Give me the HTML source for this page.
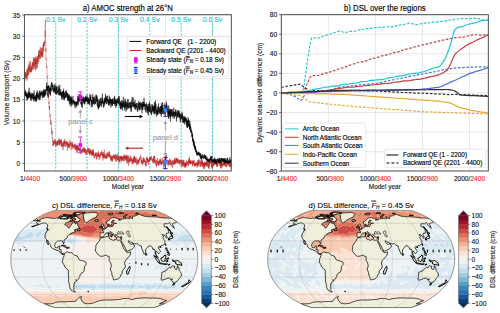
<!DOCTYPE html>
<html><head><meta charset="utf-8"><style>
html,body{margin:0;padding:0;background:#fff;width:500px;height:313px;overflow:hidden}
svg{display:block;font-family:"Liberation Sans",sans-serif}
</style></head><body>
<svg width="500" height="313" viewBox="0 0 500 313">
<defs>
<clipPath id="clipa"><rect x="24.4" y="14.7" width="206.9" height="156.3"/></clipPath>
<clipPath id="clipb"><rect x="281.3" y="14.7" width="207" height="156.3"/></clipPath>
</defs>
<rect width="500" height="313" fill="#fff"/>
<g clip-path="url(#clipa)">
<line x1="24.4" y1="163.4" x2="231.3" y2="163.4" stroke="#dcdcdc" stroke-width="0.7" />
<line x1="24.4" y1="142.2" x2="231.3" y2="142.2" stroke="#dcdcdc" stroke-width="0.7" />
<line x1="24.4" y1="121" x2="231.3" y2="121" stroke="#dcdcdc" stroke-width="0.7" />
<line x1="24.4" y1="99.8" x2="231.3" y2="99.8" stroke="#dcdcdc" stroke-width="0.7" />
<line x1="24.4" y1="78.6" x2="231.3" y2="78.6" stroke="#dcdcdc" stroke-width="0.7" />
<line x1="24.4" y1="57.4" x2="231.3" y2="57.4" stroke="#dcdcdc" stroke-width="0.7" />
<line x1="24.4" y1="36.2" x2="231.3" y2="36.2" stroke="#dcdcdc" stroke-width="0.7" />
<line x1="24.4" y1="15" x2="231.3" y2="15" stroke="#dcdcdc" stroke-width="0.7" />
<line x1="71.42" y1="14.7" x2="71.42" y2="171" stroke="#dcdcdc" stroke-width="0.7" />
<line x1="118.45" y1="14.7" x2="118.45" y2="171" stroke="#dcdcdc" stroke-width="0.7" />
<line x1="165.47" y1="14.7" x2="165.47" y2="171" stroke="#dcdcdc" stroke-width="0.7" />
<line x1="212.49" y1="14.7" x2="212.49" y2="171" stroke="#dcdcdc" stroke-width="0.7" />
</g>
<line x1="55.75" y1="22.8" x2="55.75" y2="171" stroke="#1cc6d0" stroke-width="0.8" stroke-dasharray="2.2,1.3"/>
<text x="55.75" y="21.9" font-size="7.31" text-anchor="middle" fill="#1cc6d0" stroke="#1cc6d0" stroke-width="0.15" textLength="19.6" lengthAdjust="spacingAndGlyphs" >0.1 Sv</text>
<line x1="87.1" y1="22.8" x2="87.1" y2="171" stroke="#1cc6d0" stroke-width="0.8" stroke-dasharray="2.2,1.3"/>
<text x="87.1" y="21.9" font-size="7.31" text-anchor="middle" fill="#1cc6d0" stroke="#1cc6d0" stroke-width="0.15" textLength="19.6" lengthAdjust="spacingAndGlyphs" >0.2 Sv</text>
<line x1="118.45" y1="22.8" x2="118.45" y2="171" stroke="#1cc6d0" stroke-width="0.8" stroke-dasharray="2.2,1.3"/>
<text x="118.45" y="21.9" font-size="7.31" text-anchor="middle" fill="#1cc6d0" stroke="#1cc6d0" stroke-width="0.15" textLength="19.6" lengthAdjust="spacingAndGlyphs" >0.3 Sv</text>
<line x1="149.79" y1="22.8" x2="149.79" y2="171" stroke="#1cc6d0" stroke-width="0.8" stroke-dasharray="2.2,1.3"/>
<text x="149.79" y="21.9" font-size="7.31" text-anchor="middle" fill="#1cc6d0" stroke="#1cc6d0" stroke-width="0.15" textLength="19.6" lengthAdjust="spacingAndGlyphs" >0.4 Sv</text>
<line x1="181.14" y1="22.8" x2="181.14" y2="171" stroke="#1cc6d0" stroke-width="0.8" stroke-dasharray="2.2,1.3"/>
<text x="181.14" y="21.9" font-size="7.31" text-anchor="middle" fill="#1cc6d0" stroke="#1cc6d0" stroke-width="0.15" textLength="19.6" lengthAdjust="spacingAndGlyphs" >0.5 Sv</text>
<line x1="212.49" y1="22.8" x2="212.49" y2="171" stroke="#1cc6d0" stroke-width="0.8" stroke-dasharray="2.2,1.3"/>
<text x="212.49" y="21.9" font-size="7.31" text-anchor="middle" fill="#1cc6d0" stroke="#1cc6d0" stroke-width="0.15" textLength="19.6" lengthAdjust="spacingAndGlyphs" >0.6 Sv</text>
<g clip-path="url(#clipa)">
<polyline points="24.49,75.94 24.59,74.3 24.68,74.86 24.78,81.59 24.87,76.5 24.96,73.37 25.06,73.78 25.15,71.51 25.25,78.24 25.34,72.83 25.43,77.01 25.53,74.38 25.62,73.29 25.72,72.18 25.81,75.71 25.9,73.4 26,77.3 26.09,78.44 26.19,72.81 26.28,74.46 26.37,78.92 26.47,76.79 26.56,74.38 26.66,69.18 26.75,71.31 26.85,72.94 26.94,80.57 27.03,74.95 27.13,73.62 27.22,74.27 27.32,73.22 27.41,75.31 27.5,69.25 27.6,70.07 27.69,74.86 27.79,77.34 27.88,68.38 27.97,75.18 28.07,69.18 28.16,66.86 28.26,75 28.35,71.08 28.44,72.4 28.54,69.76 28.63,69.93 28.73,64.44 28.82,68.4 28.91,70.26 29.01,66.59 29.1,69.65 29.2,69.88 29.29,61.6 29.38,71.13 29.48,69.94 29.57,67.97 29.67,71.04 29.76,73.74 29.85,64.58 29.95,70.53 30.04,69.8 30.14,69.94 30.23,71.81 30.32,71.97 30.42,68.54 30.51,61.01 30.61,66.21 30.7,65.81 30.8,72.56 30.89,68.03 30.98,71.96 31.08,65.95 31.17,68.89 31.27,67.71 31.36,67.86 31.45,69.13 31.55,72.2 31.64,65.74 31.74,71.29 31.83,70.32 31.92,66.94 32.02,68.29 32.11,65.15 32.21,63.6 32.3,65.58 32.39,66.2 32.49,65.13 32.58,62.58 32.68,69.66 32.77,62.67 32.86,66.25 32.96,66.91 33.05,62.62 33.15,63.5 33.24,60.6 33.33,59.24 33.43,69.56 33.52,63.25 33.62,57.04 33.71,60.01 33.8,59.06 33.9,62.43 33.99,66.73 34.09,65.23 34.18,59.39 34.27,58.46 34.37,64.4 34.46,63.41 34.56,62.54 34.65,68.68 34.74,64.74 34.84,58.85 34.93,57.72 35.03,64.7 35.12,58.72 35.22,65.94 35.31,66.5 35.4,70.59 35.5,61.08 35.59,64.31 35.69,56.49 35.78,62.21 35.87,62.52 35.97,67.98 36.06,58.31 36.16,64.42 36.25,63.34 36.34,69.17 36.44,59.45 36.53,59.59 36.63,64.03 36.72,62.02 36.81,60.55 36.91,58.25 37,60.99 37.1,55.71 37.19,61.26 37.28,61.96 37.38,61.37 37.47,67.97 37.57,62.26 37.66,56.76 37.75,58.68 37.85,61.99 37.94,58.49 38.04,64.19 38.13,59.4 38.22,56.32 38.32,55.58 38.41,59.07 38.51,54.22 38.6,50.51 38.69,57.48 38.79,54.45 38.88,60.92 38.98,61.47 39.07,53.43 39.17,55.35 39.26,54.91 39.35,56.88 39.45,56.1 39.54,52.68 39.64,49.98 39.73,54.99 39.82,58.95 39.92,50.23 40.01,52.14 40.11,52.19 40.2,53.3 40.29,46.96 40.39,53.35 40.48,52.3 40.58,58.93 40.67,54.83 40.76,54.97 40.86,53.43 40.95,52.44 41.05,55.36 41.14,47.91 41.23,56.51 41.33,54.51 41.42,52.28 41.52,56.89 41.61,51.92 41.7,51.53 41.8,54.79 41.89,47.67 41.99,52.17 42.08,51.34 42.17,55.43 42.27,56.56 42.36,53.27 42.46,52.25 42.55,52.34 42.64,48.47 42.74,57.22 42.83,52.91 42.93,54.61 43.02,44.9 43.12,50.3 43.21,49.31 43.3,50.21 43.4,43.84 43.49,47.45 43.59,45.35 43.68,51.67 43.77,41.98 43.87,44.37 43.96,44.38 44.06,41.95 44.15,45.91 44.24,45.51 44.34,42.41 44.43,42.95 44.53,44.74 44.62,43.85 44.71,45.47 44.81,41.74 44.9,40.59 45,42.68 45.09,30.9 45.18,36.74 45.28,27.83 45.37,19.87 45.47,30.03 45.56,37.27 45.65,39.2 45.75,44.12 45.84,51.68 45.94,48.34 46.03,56.15 46.12,59.58 46.22,58.5 46.31,61.02 46.41,64.1 46.5,64.18 46.59,67.42 46.69,65.96 46.78,67.78 46.88,67.16 46.97,72.02 47.06,75.55 47.16,77.59 47.25,77.3 47.35,75.89 47.44,79.19 47.54,84.08 47.63,83.04 47.72,87.98 47.82,85.66 47.91,90.64 48.01,89.75 48.1,90.89 48.19,93.55 48.29,94.26 48.38,97.65 48.48,97.18 48.57,96.22 48.66,91.66 48.76,99.13 48.85,100.8 48.95,104.23 49.04,101.78 49.13,107.84 49.23,107.32 49.32,106.09 49.42,109.76 49.51,106.02 49.6,108.06 49.7,111.52 49.79,112.21 49.89,115.58 49.98,117.11 50.07,114.58 50.17,115.19 50.26,116.56 50.36,117.95 50.45,119.94 50.54,119.57 50.64,124.01 50.73,122.44 50.83,120.16 50.92,120.77 51.01,124.37 51.11,124.88 51.2,122.73 51.3,122.92 51.39,129.51 51.49,128.89 51.58,129.04 51.67,128.64 51.77,133.03 51.86,131.48 51.96,134.81 52.05,130.6 52.14,135.2 52.24,137.1 52.33,138.54 52.43,137.23 52.52,138.18 52.61,142.3 52.71,141.08 52.8,145.43 52.9,144.8 52.99,146.12 53.08,146.18 53.18,145.13 53.27,145.89 53.37,142.45 53.46,142.01 53.55,143.41 53.65,145 53.74,140.68 53.84,144.97 53.93,144.83 54.02,139.7 54.12,139.94 54.21,139.37 54.31,141.25 54.4,143.51 54.49,142.28 54.59,140.65 54.68,142.55 54.78,142.24 54.87,143.99 54.96,143.49 55.06,139.41 55.15,140.34 55.25,143.62 55.34,143.87 55.44,142.69 55.53,140.93 55.62,145.08 55.72,143.85 55.81,146.9 55.91,145.7 56,142.87 56.09,141.87 56.19,145.56 56.28,144.47 56.38,141.79 56.47,144.17 56.56,144.69 56.66,142.8 56.75,142.71 56.85,140.81 56.94,142.17 57.03,144.7 57.13,144 57.22,143.28 57.32,145.72 57.41,144.86 57.5,141.34 57.6,145.6 57.69,141.4 57.79,141.77 57.88,142.24 57.97,140.73 58.07,141.26 58.16,140.59 58.26,143.32 58.35,142.72 58.44,142.93 58.54,139.4 58.63,141.21 58.73,145 58.82,143.37 58.91,143.85 59.01,142.55 59.1,142.03 59.2,138.38 59.29,145.6 59.38,140.25 59.48,141.55 59.57,143.72 59.67,143.73 59.76,144 59.86,143.06 59.95,140.71 60.04,145.23 60.14,140.45 60.23,143.48 60.33,139.86 60.42,141.45 60.51,140.03 60.61,141.21 60.7,140.06 60.8,142.08 60.89,143.39 60.98,140.89 61.08,141.3 61.17,138.8 61.27,146.3 61.36,143.38 61.45,141.83 61.55,146.19 61.64,144.59 61.74,140.97 61.83,142.49 61.92,146.77 62.02,142.32 62.11,142.72 62.21,143.94 62.3,145.36 62.39,145.46 62.49,147.33 62.58,147.4 62.68,145.03 62.77,146.22 62.86,142.93 62.96,146.72 63.05,150.33 63.15,145.92 63.24,144.56 63.33,143.47 63.43,144.33 63.52,145.65 63.62,141.43 63.71,145.9 63.81,142.95 63.9,144.37 63.99,145.6 64.09,140.19 64.18,146.75 64.28,144.15 64.37,142.04 64.46,143.22 64.56,141.12 64.65,142.97 64.75,144.12 64.84,138.99 64.93,143.33 65.03,143.19 65.12,144.27 65.22,144.42 65.31,141.39 65.4,142.33 65.5,143.67 65.59,144.26 65.69,142.3 65.78,147.16 65.87,145.17 65.97,145.14 66.06,146.3 66.16,144.43 66.25,145.53 66.34,145.65 66.44,141.01 66.53,142.52 66.63,142.02 66.72,144.26 66.81,142.92 66.91,143.62 67,143.24 67.1,141.17 67.19,145.28 67.28,144.39 67.38,144.31 67.47,150.6 67.57,146.81 67.66,144.32 67.75,143.26 67.85,145.66 67.94,142.73 68.04,142.23 68.13,145.91 68.23,142.79 68.32,142.36 68.41,145.45 68.51,147.68 68.6,143.75 68.7,147.19 68.79,148.05 68.88,147.48 68.98,148.12 69.07,145.78 69.17,145.58 69.26,144.74 69.35,145.65 69.45,147.5 69.54,145.98 69.64,144.22 69.73,146.34 69.82,139.96 69.92,145.7 70.01,146.01 70.11,143.38 70.2,143.92 70.29,144.7 70.39,145.53 70.48,144 70.58,142.4 70.67,142.42 70.76,144.06 70.86,142.83 70.95,142.4 71.05,143.07 71.14,150.23 71.23,146.4 71.33,146.2 71.42,145.9 71.52,145.06 71.61,143.75 71.7,144.25 71.8,145.2 71.89,145.16 71.99,141.76 72.08,146.5 72.18,144.77 72.27,142.56 72.36,144.46 72.46,148.68 72.55,144.24 72.65,146.46 72.74,146.4 72.83,143.74 72.93,145.12 73.02,146.66 73.12,144.92 73.21,145.91 73.3,145.91 73.4,145.49 73.49,145.93 73.59,147.36 73.68,148.12 73.77,146.82 73.87,148.54 73.96,148.53 74.06,144.71 74.15,146.77 74.24,146.8 74.34,146.97 74.43,146.84 74.53,146.02 74.62,145.36 74.71,147.31 74.81,143.83 74.9,146.73 75,143.6 75.09,149.6 75.18,148.23 75.28,144.75 75.37,146.91 75.47,147.93 75.56,146.49 75.65,148.86 75.75,146.72 75.84,150.59 75.94,147.25 76.03,148.3 76.12,146.09 76.22,146.31 76.31,149.38 76.41,145.46 76.5,149.93 76.6,152.34 76.69,152.96 76.78,145.44 76.88,148.25 76.97,149.18 77.07,149.07 77.16,150.02 77.25,145.45 77.35,148.34 77.44,144.83 77.54,148.43 77.63,152.57 77.72,147.63 77.82,149.73 77.91,149.29 78.01,145.78 78.1,148.94 78.19,146.84 78.29,148.59 78.38,150.31 78.48,148.27 78.57,149.97 78.66,147.27 78.76,148.09 78.85,149.56 78.95,149.15 79.04,149.05 79.13,150.57 79.23,147.81 79.32,149.34 79.42,148.4 79.51,151.27 79.6,149.06 79.7,148.88 79.79,151.09 79.89,150.96 79.98,151.18 80.07,148.9 80.17,151.58 80.26,149.56 80.36,147.82 80.45,150.43 80.55,153.95 80.64,151.14 80.73,149.04 80.83,151.26 80.92,148.72 81.02,149.77 81.11,150.69 81.2,152.49 81.3,152.49 81.39,151.81 81.49,151.5 81.58,149.93 81.67,150.23 81.77,151.28 81.86,150.34 81.96,149.78 82.05,153.28 82.14,151.75 82.24,151.4 82.33,150.44 82.43,150.51 82.52,149.74 82.61,151.02 82.71,148.39 82.8,149.06 82.9,152.52 82.99,149.74 83.08,151.84 83.18,147.15 83.27,150.94 83.37,151.33 83.46,150.81 83.55,151.01 83.65,150.94 83.74,148.4 83.84,150.25 83.93,149.76 84.02,148.67 84.12,152.19 84.21,147.8 84.31,149.66 84.4,149.52 84.5,152.89 84.59,149.98 84.68,150.82 84.78,152.83 84.87,147.48 84.97,150.11 85.06,151.78 85.15,151.46 85.25,149.85 85.34,149.48 85.44,150.62 85.53,149.58 85.62,148.87 85.72,154.37 85.81,153.5 85.91,154.35 86,152.59 86.09,150.05 86.19,151.75 86.28,154.81 86.38,153.31 86.47,150.59 86.56,152.96 86.66,151.84 86.75,151.08 86.85,154.94 86.94,150.28 87.03,150.5 87.13,149.82 87.22,152.33 87.32,152.12 87.41,151.53 87.5,150.37 87.6,150.25 87.69,150.14 87.79,147.67 87.88,148.76 87.97,152.13 88.07,151.81 88.16,148.16 88.26,151.65 88.35,148.67 88.44,148.68 88.54,152.39 88.63,151.96 88.73,151.09 88.82,152.63 88.92,153.61 89.01,152.86 89.1,150.58 89.2,152.66 89.29,152.66 89.39,152.69 89.48,154.41 89.57,148.47 89.67,155.47 89.76,152.95 89.86,150.52 89.95,154.14 90.04,150.06 90.14,148.82 90.23,152.87 90.33,150.93 90.42,153.58 90.51,150.99 90.61,152.19 90.7,152.46 90.8,150.61 90.89,151.79 90.98,150.65 91.08,151.79 91.17,154.94 91.27,152.5 91.36,151.97 91.45,155.42 91.55,150.39 91.64,152.09 91.74,152.05 91.83,154.21 91.92,151.91 92.02,152.06 92.11,152.65 92.21,152.12 92.3,155.75 92.39,149.39 92.49,153.69 92.58,155.46 92.68,152.99 92.77,153.08 92.87,151.06 92.96,154.24 93.05,151.99 93.15,154.45 93.24,149.28 93.34,152.78 93.43,149.92 93.52,155.68 93.62,152.41 93.71,155.44 93.81,152.93 93.9,152.93 93.99,158.01 94.09,157.1 94.18,157.36 94.28,157.96 94.37,157.18 94.46,157.07 94.56,157.72 94.65,155.11 94.75,154.35 94.84,157.32 94.93,156.2 95.03,154.68 95.12,155.01 95.22,155.91 95.31,153.26 95.4,153.38 95.5,153.64 95.59,155.5 95.69,152.17 95.78,152.58 95.87,155.9 95.97,155.6 96.06,153.53 96.16,157.16 96.25,154.77 96.34,155.7 96.44,157.14 96.53,156.94 96.63,158.94 96.72,156.88 96.81,159.4 96.91,152.03 97,153.2 97.1,153.51 97.19,155.6 97.29,153.91 97.38,153.28 97.47,153.31 97.57,153.37 97.66,156.49 97.76,154.13 97.85,155.66 97.94,156.61 98.04,156.47 98.13,153.81 98.23,152.94 98.32,157.05 98.41,151.01 98.51,152.19 98.6,155.86 98.7,156.75 98.79,155.73 98.88,153.81 98.98,155.96 99.07,157.09 99.17,155.08 99.26,159.75 99.35,156 99.45,154.55 99.54,156.17 99.64,155.16 99.73,155.59 99.82,155.48 99.92,157.21 100.01,158.7 100.11,157.64 100.2,157.42 100.29,154.52 100.39,152.77 100.48,154.88 100.58,156.05 100.67,156.1 100.76,155.33 100.86,152.65 100.95,154.13 101.05,154.53 101.14,155.89 101.24,153.18 101.33,154.03 101.42,154.86 101.52,154.57 101.61,152.02 101.71,154.64 101.8,150.44 101.89,151.58 101.99,153.24 102.08,152 102.18,153.88 102.27,155.46 102.36,154.56 102.46,155.83 102.55,153.92 102.65,154.74 102.74,153.73 102.83,153.56 102.93,160.48 103.02,154.52 103.12,157.93 103.21,154.77 103.3,156.3 103.4,154.66 103.49,152.14 103.59,158.17 103.68,154.31 103.77,154.52 103.87,158.02 103.96,153.6 104.06,154.69 104.15,155.93 104.24,156.04 104.34,149.48 104.43,155.68 104.53,158.38 104.62,156.7 104.71,155.74 104.81,156.12 104.9,155.2 105,157.4 105.09,154.51 105.19,156.31 105.28,158.52 105.37,157.54 105.47,156.74 105.56,155.63 105.66,156.16 105.75,157.5 105.84,156.83 105.94,156.93 106.03,153.35 106.13,158.15 106.22,155.99 106.31,155.83 106.41,158.98 106.5,157.37 106.6,157.17 106.69,157.92 106.78,156.12 106.88,154.61 106.97,154.26 107.07,156.94 107.16,155.87 107.25,151.72 107.35,158.33 107.44,155.65 107.54,154.42 107.63,155.9 107.72,154.22 107.82,154.73 107.91,153.71 108.01,153.23 108.1,155.77 108.19,154.92 108.29,155.12 108.38,155.53 108.48,155.17 108.57,157.15 108.66,153.46 108.76,151.86 108.85,151.73 108.95,152.92 109.04,156.52 109.13,152.34 109.23,155.83 109.32,154.86 109.42,151.43 109.51,156.87 109.61,153.89 109.7,155.5 109.79,156.74 109.89,157.79 109.98,156.01 110.08,157.5 110.17,154.69 110.26,154.79 110.36,159.06 110.45,157.84 110.55,157.81 110.64,159.57 110.73,159.65 110.83,157.14 110.92,158.42 111.02,161.48 111.11,159.66 111.2,157.23 111.3,160.22 111.39,159.87 111.49,155.41 111.58,155.56 111.67,160.66 111.77,160.07 111.86,156.4 111.96,159.36 112.05,157.92 112.14,157.89 112.24,156.61 112.33,161.93 112.43,161.53 112.52,160.04 112.61,156.17 112.71,158.04 112.8,160.13 112.9,155.95 112.99,155.6 113.08,157.55 113.18,157.94 113.27,156.06 113.37,154.61 113.46,156.8 113.56,156.07 113.65,157.41 113.74,158.46 113.84,158.74 113.93,156.34 114.03,157.86 114.12,157.4 114.21,155.52 114.31,155.99 114.4,155.12 114.5,159.31 114.59,155.57 114.68,157.76 114.78,158.24 114.87,158.17 114.97,154.74 115.06,155.35 115.15,158.57 115.25,159.64 115.34,157.4 115.44,158.35 115.53,154.23 115.62,159.92 115.72,161.22 115.81,158.91 115.91,157.83 116,157.87 116.09,156.61 116.19,154.48 116.28,159.24 116.38,159.45 116.47,161.87 116.56,158.48 116.66,157.45 116.75,159.17 116.85,156.39 116.94,158.12 117.03,155.14 117.13,157.39 117.22,159.98 117.32,158.94 117.41,160.33 117.5,160.27 117.6,156.77 117.69,155.41 117.79,153.57 117.88,157.03 117.98,157.58 118.07,159.93 118.16,155.92 118.26,156.84 118.35,158.36 118.45,156.6 118.54,156.81 118.63,161.86 118.73,156.89 118.82,158.4 118.92,159.72 119.01,159.44 119.1,155.67 119.2,156.09 119.29,156 119.39,161.72 119.48,160.52 119.57,158.18 119.67,161.67 119.76,160.81 119.86,162.83 119.95,156.13 120.04,156.98 120.14,157.97 120.23,158.79 120.33,158.92 120.42,158.85 120.51,156.63 120.61,159.56 120.7,156.24 120.8,158.61 120.89,159.48 120.98,155.91 121.08,158.08 121.17,156.62 121.27,158.33 121.36,161.89 121.45,156.8 121.55,160.53 121.64,156.13 121.74,160.5 121.83,160.75 121.93,157.53 122.02,157.5 122.11,157.77 122.21,159.97 122.3,156.5 122.4,160.44 122.49,158.63 122.58,159.35 122.68,158.65 122.77,156.48 122.87,158.89 122.96,157.41 123.05,157.15 123.15,161.49 123.24,160.07 123.34,158.26 123.43,158.74 123.52,156.89 123.62,160.49 123.71,155.46 123.81,155.17 123.9,156.55 123.99,158.3 124.09,156.68 124.18,157.5 124.28,155.82 124.37,157.11 124.46,155.87 124.56,158.08 124.65,154.76 124.75,161.18 124.84,158.44 124.93,156.19 125.03,159.46 125.12,155.76 125.22,159.55 125.31,157.19 125.4,159.15 125.5,158.79 125.59,157.51 125.69,158.26 125.78,159.21 125.88,155.48 125.97,159.1 126.06,160.99 126.16,157.2 126.25,157.1 126.35,155.86 126.44,154.61 126.53,159.12 126.63,155.41 126.72,155.84 126.82,158.11 126.91,157.68 127,163.65 127.1,159.39 127.19,155.25 127.29,162.28 127.38,159.66 127.47,158.87 127.57,158.35 127.66,156.38 127.76,162.49 127.85,159.01 127.94,157.13 128.04,161.46 128.13,159.69 128.23,156.54 128.32,158.56 128.41,159.97 128.51,165.77 128.6,161.38 128.7,160.33 128.79,161.41 128.88,160.49 128.98,155.07 129.07,161.03 129.17,162.42 129.26,160.49 129.35,161.15 129.45,160.37 129.54,160.17 129.64,158.33 129.73,159.73 129.82,162.33 129.92,160.8 130.01,159.24 130.11,160.73 130.2,157.51 130.3,158.8 130.39,161.69 130.48,158.67 130.58,155.6 130.67,156.37 130.77,159.2 130.86,157.34 130.95,160.06 131.05,161.31 131.14,157.98 131.24,158.61 131.33,158.86 131.42,160 131.52,159.7 131.61,161.38 131.71,160.13 131.8,158.89 131.89,160.83 131.99,159.58 132.08,163.89 132.18,161.75 132.27,158.28 132.36,158.4 132.46,160.8 132.55,161.49 132.65,164.27 132.74,161.15 132.83,160.36 132.93,163.77 133.02,160.34 133.12,160.22 133.21,160.09 133.3,162.97 133.4,159.3 133.49,162.33 133.59,157.12 133.68,159.18 133.77,161.68 133.87,157.24 133.96,157.86 134.06,161.03 134.15,155.6 134.25,161.18 134.34,158.65 134.43,157.11 134.53,162.67 134.62,156.15 134.72,158 134.81,158.93 134.9,160.72 135,158.76 135.09,161.43 135.19,160.89 135.28,160.6 135.37,162.56 135.47,157.3 135.56,163.07 135.66,162.46 135.75,161.18 135.84,160.53 135.94,159.35 136.03,159.39 136.13,161.65 136.22,162.2 136.31,161.29 136.41,159.98 136.5,160.86 136.6,163.16 136.69,165.45 136.78,157.49 136.88,159.19 136.97,160.57 137.07,161.07 137.16,162.52 137.25,163.6 137.35,162.01 137.44,161.72 137.54,161.95 137.63,163.78 137.72,161.05 137.82,159.14 137.91,161.51 138.01,160.36 138.1,164.43 138.19,161.89 138.29,161.99 138.38,163.43 138.48,163.83 138.57,159.79 138.67,162.45 138.76,160.23 138.85,161.46 138.95,159.43 139.04,161.43 139.14,162.47 139.23,160.22 139.32,160.27 139.42,158.25 139.51,159.75 139.61,160.55 139.7,158.53 139.79,157.19 139.89,157.6 139.98,156.91 140.08,157.23 140.17,156.91 140.26,157.8 140.36,158.94 140.45,159.17 140.55,158.69 140.64,155.08 140.73,159.39 140.83,159.24 140.92,159.09 141.02,159.73 141.11,159.04 141.2,161.69 141.3,163.14 141.39,159.99 141.49,163.63 141.58,160.18 141.67,160.6 141.77,158.95 141.86,157.98 141.96,160.45 142.05,162.06 142.14,162.86 142.24,162.58 142.33,161.43 142.43,165.55 142.52,161.11 142.62,161.32 142.71,160.57 142.8,161.68 142.9,160.52 142.99,162.18 143.09,161.65 143.18,163.77 143.27,160.53 143.37,157.3 143.46,159.71 143.56,159.18 143.65,162.36 143.74,158.19 143.84,162.25 143.93,159.44 144.03,160.21 144.12,162.07 144.21,158.26 144.31,159.79 144.4,160.19 144.5,160.2 144.59,160.95 144.68,162.09 144.78,159.99 144.87,161.73 144.97,160.95 145.06,163.07 145.15,164.78 145.25,163.72 145.34,163.62 145.44,163.23 145.53,160.81 145.62,165.63 145.72,161.82 145.81,165.9 145.91,164.41 146,163.51 146.09,166.42 146.19,165.89 146.28,161.73 146.38,161.24 146.47,161.15 146.57,162.68 146.66,157.43 146.75,161.27 146.85,162.64 146.94,157.39 147.04,158.59 147.13,160.27 147.22,157.78 147.32,159.31 147.41,158.35 147.51,159.09 147.6,162.21 147.69,158.66 147.79,160.01 147.88,161.89 147.98,161.98 148.07,158.97 148.16,161.57 148.26,161.78 148.35,160.69 148.45,161.55 148.54,164.85 148.63,161.48 148.73,160.81 148.82,161.48 148.92,159.85 149.01,161.73 149.1,160.39 149.2,158.83 149.29,161.82 149.39,158.67 149.48,158 149.57,159.33 149.67,157.12 149.76,158.62 149.86,161.73 149.95,158.24 150.04,159.32 150.14,158.22 150.23,159.3 150.33,156.72 150.42,158.02 150.51,159.76 150.61,157.87 150.7,156.87 150.8,159.32 150.89,158.89 150.99,159.66 151.08,160.17 151.17,158.63 151.27,157.42 151.36,156.04 151.46,158.01 151.55,158.3 151.64,157.84 151.74,157.67 151.83,160.31 151.93,158.59 152.02,159.43 152.11,160.33 152.21,161 152.3,161.12 152.4,160.75 152.49,162.55 152.58,159.43 152.68,160.62 152.77,160.45 152.87,159.26 152.96,158.76 153.05,160.84 153.15,159.6 153.24,162.33 153.34,163.19 153.43,162.73 153.52,156.67 153.62,162.55 153.71,158.5 153.81,156.72 153.9,160.66 153.99,156.47 154.09,155.89 154.18,157.67 154.28,155.84 154.37,158.91 154.46,161.81 154.56,159.13 154.65,161.05 154.75,162.98 154.84,163.16 154.94,156.98 155.03,162.29 155.12,161.77 155.22,162.79 155.31,161.81 155.41,162.46 155.5,163.07 155.59,164.75 155.69,165.42 155.78,164.31 155.88,162.11 155.97,159.89 156.06,161.18 156.16,159.7 156.25,162.12 156.35,162.32 156.44,165.66 156.53,163.67 156.63,167.12 156.72,163.62 156.82,160.41 156.91,162.57 157,161.17 157.1,163.81 157.19,164.94 157.29,163.82 157.38,163.31 157.47,160.1 157.57,157.98 157.66,162.6 157.76,162.3 157.85,161.5 157.94,162.45 158.04,163.76 158.13,161.58 158.23,162.22 158.32,162.14 158.41,164.8 158.51,163.19 158.6,165.79 158.7,161.07 158.79,164.55 158.89,162.77 158.98,162.91 159.07,163.6 159.17,164.36 159.26,165.14 159.36,159.34 159.45,162.66 159.54,162.94 159.64,159.64 159.73,163.48 159.83,161.6 159.92,162.53 160.01,160.06 160.11,160.54 160.2,159.86 160.3,161.04 160.39,159.69 160.48,158.45 160.58,164.11 160.67,160.68 160.77,161.49 160.86,161.59 160.95,165.19 161.05,160.22 161.14,163.54 161.24,162.61 161.33,162.99 161.42,163.97 161.52,161.81 161.61,164.33 161.71,162.79 161.8,161.81 161.89,161.53 161.99,161.84 162.08,162.71 162.18,158.09 162.27,161.4 162.36,164.56 162.46,163.49 162.55,163.46 162.65,162.61 162.74,163.29 162.83,163.29 162.93,159.18 163.02,162.05 163.12,162.75 163.21,162.47 163.31,163.11 163.4,160.6 163.49,162.3 163.59,161.76 163.68,169.14 163.78,162.94 163.87,161.54 163.96,160.09 164.06,163.36 164.15,166.39 164.25,162.05 164.34,163.87 164.43,165.93 164.53,163.81 164.62,160.79 164.72,159.6 164.81,159.98 164.9,162.86 165,156.34 165.09,162.86 165.19,160.24 165.28,162.3 165.37,156.92 165.47,158 165.56,156.99 165.66,158.01 165.75,158.17 165.84,157.37 165.94,161.61 166.03,156.01 166.13,156.1 166.22,158.66 166.31,157.7 166.41,157.21 166.5,154.97 166.6,157.95 166.69,158.92 166.78,160.3 166.88,161.81 166.97,160.4 167.07,160.01 167.16,160.78 167.26,160.53 167.35,159.83 167.44,160.31 167.54,160.84 167.63,160.19 167.73,161.5 167.82,161.57 167.91,161.76 168.01,165.71 168.1,160.43 168.2,165.5 168.29,161.81 168.38,163.47 168.48,160.74 168.57,162.74 168.67,164.43 168.76,160.73 168.85,162.17 168.95,161.83 169.04,162.16 169.14,160.79 169.23,160.06 169.32,161.38 169.42,164.82 169.51,162.78 169.61,161.27 169.7,158.73 169.79,160.82 169.89,161.73 169.98,159.27 170.08,161.39 170.17,161.16 170.26,160.88 170.36,165.06 170.45,160.35 170.55,161.65 170.64,163.29 170.73,164.48 170.83,162.47 170.92,159.86 171.02,163.26 171.11,164.73 171.2,162.08 171.3,165.73 171.39,166.52 171.49,163.7 171.58,164.18 171.68,163.62 171.77,163.96 171.86,162.87 171.96,163.7 172.05,164.02 172.15,162.95 172.24,160.52 172.33,160.03 172.43,160.18 172.52,160.56 172.62,168.1 172.71,163.79 172.8,162.75 172.9,161.8 172.99,165.4 173.09,160.12 173.18,161.9 173.27,163.76 173.37,162.12 173.46,162.39 173.56,162.72 173.65,161.11 173.74,162.66 173.84,164.62 173.93,163.63 174.03,163 174.12,164.34 174.21,160.39 174.31,164.09 174.4,158.56 174.5,160.22 174.59,163.69 174.68,161.53 174.78,159.5 174.87,161.39 174.97,162.96 175.06,160.51 175.15,157.47 175.25,164.1 175.34,160.73 175.44,162.75 175.53,162.38 175.63,162.45 175.72,162.26 175.81,159.73 175.91,160.51 176,163.56 176.1,158.71 176.19,163.23 176.28,159.89 176.38,160.39 176.47,158.37 176.57,160.05 176.66,158.85 176.75,161.15 176.85,159.18 176.94,160.94 177.04,157.65 177.13,162.28 177.22,159.14 177.32,159.75 177.41,160.56 177.51,162.03 177.6,160.01 177.69,162.98 177.79,162.95 177.88,159.43 177.98,163.67 178.07,158.78 178.16,161.64 178.26,161.55 178.35,161.89 178.45,161.85 178.54,162.97 178.63,163.03 178.73,162.76 178.82,159.99 178.92,159.66 179.01,159.76 179.1,161.06 179.2,161.71 179.29,164.19 179.39,160.17 179.48,160.38 179.58,162.68 179.67,160.8 179.76,159.94 179.86,162.26 179.95,160.94 180.05,162.73 180.14,165.43 180.23,163.07 180.33,162.08 180.42,160.2 180.52,163.04 180.61,162.29 180.7,163.06 180.8,160.9 180.89,160.91 180.99,159.78 181.08,160.3 181.17,161.49 181.27,161.63 181.36,161.43 181.46,161.96 181.55,159.88 181.64,166.87 181.74,162.6 181.83,161.33 181.93,159.55 182.02,163.81 182.11,161.53 182.21,161.18 182.3,164.36 182.4,166.84 182.49,163.95 182.58,165.68 182.68,162.45 182.77,164.78 182.87,160.19 182.96,163.02 183.05,164.33 183.15,163.85 183.24,165.44 183.34,162.55 183.43,159.78 183.52,163.12 183.62,161.21 183.71,164.92 183.81,163.28 183.9,160.13 184,166.64 184.09,161.86 184.18,161.7 184.28,167.73 184.37,166.74 184.47,166.36 184.56,163.49 184.65,166.25 184.75,165.2 184.84,164.28 184.94,165.59 185.03,165.13 185.12,165.42 185.22,163.19 185.31,166.95 185.41,162.34 185.5,165.27 185.59,166.28 185.69,163.31 185.78,163.48 185.88,167.77 185.97,163.57 186.06,166.16 186.16,164.45 186.25,161.98 186.35,164.82 186.44,162.68 186.53,164.13 186.63,160.21 186.72,163.63 186.82,165.65 186.91,165.28 187,165.07 187.1,162.81 187.19,162.57 187.29,161.43 187.38,163.31 187.47,162.99 187.57,162.75 187.66,163.74 187.76,162.93 187.85,161.92 187.95,161.68 188.04,164.15 188.13,166.23 188.23,164.11 188.32,161.62 188.42,165.78 188.51,162.06 188.6,160.18 188.7,161.88 188.79,163 188.89,158.13 188.98,158.71 189.07,162.13 189.17,158.88 189.26,158.95 189.36,163.43 189.45,156.68 189.54,163.34 189.64,162.07 189.73,163.87 189.83,162.1 189.92,164.43 190.01,162.22 190.11,160.73 190.2,162.23 190.3,163.54 190.39,160.09 190.48,163.97 190.58,160.87 190.67,163.17 190.77,162.34 190.86,162.59 190.95,162.32 191.05,162.73 191.14,163.77 191.24,162.99 191.33,161.37 191.42,161.46 191.52,163.51 191.61,161.96 191.71,161.44 191.8,160.58 191.89,160.3 191.99,160.5 192.08,162.34 192.18,161.01 192.27,163.55 192.37,166.72 192.46,161.92 192.55,165.02 192.65,163.15 192.74,163.59 192.84,160.28 192.93,163.3 193.02,161.06 193.12,162.67 193.21,164.21 193.31,164.9 193.4,161.51 193.49,162.34 193.59,162.81 193.68,160.72 193.78,163.06 193.87,163.41 193.96,163.76 194.06,163.24 194.15,164.46 194.25,165.88 194.34,160.03 194.43,166.61 194.53,163.06 194.62,163.12 194.72,163.81 194.81,165.52 194.9,164.37 195,164.61 195.09,165.71 195.19,164.37 195.28,165.24 195.37,165.18 195.47,162.77 195.56,166.25 195.66,163.77 195.75,164.97 195.84,162.95 195.94,163.21 196.03,162.54 196.13,164.1 196.22,164.55 196.32,165.01 196.41,163.43 196.5,162.39 196.6,161.96 196.69,165.26 196.79,164.19 196.88,167.18 196.97,167.67 197.07,165.11 197.16,164.44 197.26,166.3 197.35,166.41 197.44,162.07 197.54,165.09 197.63,166.54 197.73,159.76 197.82,163.98 197.91,164.9 198.01,163.22 198.1,164.72 198.2,160.26 198.29,166.09 198.38,165.92 198.48,163.27 198.57,163.85 198.67,159.55 198.76,164.96 198.85,163.48 198.95,162.08 199.04,161.62 199.14,161.42 199.23,162.51 199.32,159.51 199.42,163.77 199.51,162.85 199.61,162.43 199.7,164.42 199.79,164.3 199.89,165.09 199.98,165.93 200.08,166.65 200.17,165.35 200.27,166.6 200.36,163.33 200.45,166.83 200.55,160.5 200.64,161.43 200.74,162.4 200.83,164.12 200.92,164.53 201.02,160.95 201.11,162.91 201.21,161.98 201.3,164.43 201.39,161.17 201.49,163.9 201.58,162.52 201.68,165.99 201.77,163.66 201.86,161.23 201.96,162.79 202.05,162.86 202.15,160.79 202.24,162.47 202.33,160.46 202.43,167.07 202.52,161.91 202.62,162.53 202.71,167.06 202.8,166.64 202.9,162.34 202.99,165.82 203.09,164.82 203.18,162.59 203.27,164.22 203.37,163.05 203.46,165.48 203.56,163.45 203.65,162.76 203.74,164.47 203.84,169.31 203.93,164.79 204.03,165.78 204.12,167.41 204.21,163.26 204.31,168.66 204.4,162.19 204.5,166.56 204.59,162.1 204.69,165.14 204.78,167.14 204.87,163.86 204.97,163.72 205.06,163.36 205.16,162.43 205.25,165.52 205.34,163.19 205.44,163.01 205.53,163.61 205.63,164.56 205.72,164.99 205.81,161.77 205.91,162.1 206,164.92 206.1,165.73 206.19,161.35 206.28,166.64 206.38,163.25 206.47,164.67 206.57,166.24 206.66,163.66 206.75,164.57 206.85,161.57 206.94,160.29 207.04,164.71 207.13,163.08 207.22,162.59 207.32,164.97 207.41,166.39 207.51,162.23 207.6,164.96 207.69,164.47 207.79,164.75 207.88,164.08 207.98,165.5 208.07,163.05 208.16,162.11 208.26,165.08 208.35,167.69 208.45,165.61 208.54,168.35 208.64,166.97 208.73,163.53 208.82,161.18 208.92,164.33 209.01,166.34 209.11,163.13 209.2,168.9 209.29,165.91 209.39,161.16 209.48,162.26 209.58,165.2 209.67,165.46 209.76,161.18 209.86,162.46 209.95,162.84 210.05,160.77 210.14,162.52 210.23,163.64 210.33,158.93 210.42,161.26 210.52,162.41 210.61,163.28 210.7,160.62 210.8,162.91 210.89,160.52 210.99,162.52 211.08,159.89 211.17,162.78 211.27,164.25 211.36,167.6 211.46,166.1 211.55,163.45 211.64,159.4 211.74,167.03 211.83,167.28 211.93,164.41 212.02,164.11 212.11,167.3 212.21,165.24 212.3,169.14 212.4,166.27 212.49,164.07 212.58,163.14 212.68,166.22 212.77,166.51 212.87,164.48 212.96,163.41 213.06,163.63 213.15,165.33 213.24,163.15 213.34,162.48 213.43,164.73 213.53,166.07 213.62,162.64 213.71,162.88 213.81,162.49 213.9,164.18 214,165.22 214.09,165.42 214.18,165.74 214.28,165.17 214.37,163.92 214.47,163.4 214.56,160.56 214.65,164.47 214.75,162.57 214.84,163.31 214.94,160.31 215.03,162.99 215.12,163.62 215.22,160.55 215.31,162.42 215.41,163.93 215.5,160.18 215.59,161.59 215.69,159.41 215.78,159.97 215.88,160.35 215.97,161.44 216.06,164.07 216.16,161.41 216.25,163.32 216.35,162.15 216.44,163.76 216.53,165.21 216.63,166.57 216.72,163.75 216.82,162.69 216.91,165.21 217.01,163.83 217.1,162.98 217.19,166.97 217.29,164.96 217.38,166.47 217.48,162.2 217.57,163.69 217.66,164.91 217.76,166.76 217.85,163.58 217.95,160.72 218.04,163.24 218.13,163.31 218.23,161.54 218.32,164.47 218.42,162.09 218.51,160.62 218.6,162.95 218.7,163.03 218.79,161.75 218.89,162.51 218.98,162.53 219.07,161.75 219.17,162.14 219.26,164.16 219.36,163.86 219.45,162.58 219.54,162.14 219.64,162.19 219.73,165.81 219.83,162.84 219.92,163.29 220.01,164.83 220.11,164.02 220.2,163.35 220.3,162.25 220.39,168.17 220.48,165.06 220.58,166.24 220.67,166.07 220.77,163.64 220.86,164.11 220.96,167.7 221.05,166.59 221.14,165.49 221.24,168.6 221.33,164.15 221.43,165.19 221.52,164.68 221.61,165.17 221.71,162.53 221.8,165.93 221.9,166.15 221.99,162.81 222.08,166.57 222.18,166.49 222.27,167.2 222.37,163.45 222.46,164.98 222.55,164.17 222.65,164.66 222.74,165.1 222.84,165.67 222.93,165.59 223.02,163.7 223.12,163.88 223.21,161.25 223.31,165.42 223.4,164.77 223.49,165.05 223.59,160.49 223.68,164.52 223.78,161.36 223.87,159.81 223.96,163.25 224.06,161.34 224.15,166.43 224.25,162.71 224.34,165.22 224.43,161.36 224.53,162.01 224.62,163.39 224.72,160.05 224.81,161.84 224.9,163.53 225,163.27 225.09,165.53 225.19,163.36 225.28,159.66 225.38,165.1 225.47,163.18 225.56,165.61 225.66,162.97 225.75,163.67 225.85,164.71 225.94,167.15 226.03,163.87 226.13,161 226.22,163.02 226.32,162.42 226.41,164.55 226.5,167.27 226.6,163.1 226.69,162.52 226.79,163.77 226.88,163.89 226.97,161.33 227.07,163.57 227.16,161.49 227.26,162.17 227.35,165.95 227.44,161.85 227.54,163.03 227.63,163.33 227.73,160.91 227.82,163.03 227.91,162.52 228.01,161.49 228.1,163.02 228.2,166.15 228.29,164.71 228.38,162.1 228.48,163.89 228.57,164.77 228.67,163.78 228.76,162.39 228.85,162.88 228.95,161.4 229.04,164.57 229.14,163.78 229.23,163.93 229.33,163.31 229.42,166.99 229.51,163.76 229.61,166.05 229.7,160.8 229.8,160.19 229.89,160.54 229.98,162.85 230.08,165.11 230.17,162.19 230.27,163.88 230.36,163.18 230.45,166.93 230.55,166.35 230.64,164.77 230.74,163.11 230.83,166.6 230.92,162.17 231.02,161.26 231.11,168.24 231.21,165.92 231.3,167.2" fill="none" stroke="#b82424" stroke-width="0.4" stroke-linejoin="round" />
<polyline points="24.49,92.46 24.59,91.85 24.68,93.52 24.78,95.45 24.87,93.76 24.96,95.88 25.06,93.07 25.15,89.69 25.25,94.32 25.34,94.24 25.43,91.27 25.53,92.49 25.62,92.78 25.72,95.67 25.81,94.13 25.9,91.47 26,96.08 26.09,93.44 26.19,96.77 26.28,96.33 26.37,97.29 26.47,93.54 26.56,96.63 26.66,92.17 26.75,92.87 26.85,94.18 26.94,101.06 27.03,96.14 27.13,95.13 27.22,94.36 27.32,99.45 27.41,96.87 27.5,98.95 27.6,99.24 27.69,94.18 27.79,98.72 27.88,95.79 27.97,93.14 28.07,97.6 28.16,96.3 28.26,95.38 28.35,95.23 28.44,98.15 28.54,94.36 28.63,90.79 28.73,98.04 28.82,92.14 28.91,93.24 29.01,95.3 29.1,87.76 29.2,91.59 29.29,97.73 29.38,94.52 29.48,93.09 29.57,95.34 29.67,93.97 29.76,96.01 29.85,94.14 29.95,91.99 30.04,97.41 30.14,94.92 30.23,97.08 30.32,96.06 30.42,99.07 30.51,98.21 30.61,97.4 30.7,94.23 30.8,93.72 30.89,100.48 30.98,98.64 31.08,94.41 31.17,100.7 31.27,97.15 31.36,96.92 31.45,93.53 31.55,95.46 31.64,98.17 31.74,98.38 31.83,97.92 31.92,92.69 32.02,97.07 32.11,97.32 32.21,95.61 32.3,96.64 32.39,96.91 32.49,99.38 32.58,96.97 32.68,97.85 32.77,93.46 32.86,95.22 32.96,96.51 33.05,94.14 33.15,96.84 33.24,93.15 33.33,96.37 33.43,94.87 33.52,99.32 33.62,95.14 33.71,100.47 33.8,101.68 33.9,96.92 33.99,98.26 34.09,95.7 34.18,90.46 34.27,99.36 34.37,99.21 34.46,97.97 34.56,96.94 34.65,98.6 34.74,98.34 34.84,96.44 34.93,96.91 35.03,100.77 35.12,98.31 35.22,97.95 35.31,101.17 35.4,97.38 35.5,100.33 35.59,95.02 35.69,95.96 35.78,96.23 35.87,97.45 35.97,96.13 36.06,101.17 36.16,98.9 36.25,95.06 36.34,101.8 36.44,93.39 36.53,100.11 36.63,93.43 36.72,96.86 36.81,92.62 36.91,94.14 37,98.96 37.1,90.78 37.19,90.17 37.28,93.89 37.38,94.64 37.47,95.07 37.57,97.72 37.66,91.91 37.75,95.84 37.85,95.16 37.94,97.4 38.04,97.33 38.13,99.62 38.22,93.78 38.32,97.36 38.41,93.91 38.51,96.25 38.6,97.9 38.69,97.24 38.79,98.03 38.88,97.14 38.98,97.84 39.07,97.78 39.17,100.36 39.26,98.53 39.35,91.42 39.45,96.94 39.54,97.56 39.64,92.9 39.73,90.67 39.82,98.65 39.92,96.69 40.01,97.51 40.11,99.8 40.2,92.65 40.29,93.85 40.39,93.29 40.48,95.42 40.58,92.47 40.67,95.29 40.76,94.21 40.86,96.88 40.95,97.05 41.05,90.67 41.14,95.2 41.23,92.93 41.33,93.42 41.42,94.69 41.52,95.32 41.61,92.42 41.7,94.55 41.8,94.63 41.89,93.74 41.99,91.02 42.08,91.98 42.17,92.74 42.27,95.58 42.36,98.26 42.46,92.32 42.55,92.38 42.64,95.58 42.74,93.34 42.83,93 42.93,92.59 43.02,92.53 43.12,95.87 43.21,90.39 43.3,97.87 43.4,91.71 43.49,92.79 43.59,92 43.68,89.08 43.77,89.67 43.87,96.22 43.96,97.38 44.06,90.58 44.15,95.37 44.24,91.77 44.34,89.66 44.43,95.86 44.53,96.98 44.62,91.25 44.71,91.69 44.81,92.78 44.9,91.51 45,93.73 45.09,95.26 45.18,91.76 45.28,93.85 45.37,95.63 45.47,89.66 45.56,91.68 45.65,91.25 45.75,94.48 45.84,93 45.94,93.7 46.03,92.4 46.12,89.12 46.22,91.05 46.31,87.88 46.41,87.4 46.5,82.67 46.59,91.41 46.69,85.33 46.78,87.53 46.88,87.17 46.97,90.67 47.06,88.6 47.16,85.82 47.25,89.21 47.35,88.9 47.44,89.88 47.54,86.93 47.63,90.04 47.72,95.94 47.82,92.22 47.91,94.91 48.01,97.74 48.1,91.04 48.19,85.89 48.29,89.19 48.38,91.99 48.48,90.39 48.57,84.95 48.66,87.03 48.76,87.61 48.85,88.11 48.95,87.35 49.04,86.03 49.13,87.31 49.23,88.03 49.32,91.9 49.42,88.29 49.51,91.65 49.6,87.56 49.7,94.09 49.79,91.23 49.89,91.38 49.98,94.3 50.07,86.11 50.17,86.51 50.26,91.31 50.36,87.79 50.45,88.5 50.54,95.65 50.64,88.16 50.73,88.89 50.83,88.62 50.92,90.88 51.01,88.16 51.11,87.42 51.2,83.71 51.3,85.47 51.39,86.63 51.49,82.16 51.58,87.64 51.67,87.88 51.77,91.42 51.86,82.33 51.96,84.66 52.05,84.99 52.14,85.97 52.24,86.76 52.33,86.49 52.43,88.55 52.52,88.54 52.61,88.11 52.71,83.93 52.8,86.82 52.9,89.57 52.99,90.9 53.08,90.48 53.18,85.16 53.27,88.77 53.37,89.39 53.46,89.87 53.55,92.2 53.65,89.83 53.74,87.77 53.84,89.89 53.93,89.56 54.02,89.54 54.12,89 54.21,93.03 54.31,88.99 54.4,90.47 54.49,86.02 54.59,90.88 54.68,86.05 54.78,83.88 54.87,89.52 54.96,89.61 55.06,88.48 55.15,89.31 55.25,92.91 55.34,89.47 55.44,85.36 55.53,91.4 55.62,91.65 55.72,93.58 55.81,90.09 55.91,94.46 56,93.5 56.09,88.26 56.19,93.62 56.28,88.11 56.38,87.12 56.47,90.44 56.56,89.25 56.66,85.73 56.75,91.05 56.85,92.22 56.94,94.91 57.03,90.86 57.13,87.07 57.22,88.89 57.32,93.23 57.41,93.24 57.5,92.17 57.6,90.45 57.69,92.22 57.79,91.33 57.88,90.8 57.97,91.97 58.07,90.62 58.16,90.35 58.26,90.62 58.35,88.89 58.44,85.54 58.54,88.92 58.63,90.1 58.73,94.34 58.82,88.78 58.91,95.27 59.01,93.54 59.1,87.55 59.2,87.96 59.29,91.2 59.38,95.54 59.48,92.31 59.57,92.84 59.67,89.65 59.76,84.89 59.86,90.46 59.95,93.13 60.04,94.56 60.14,92.6 60.23,92.7 60.33,94.8 60.42,92.38 60.51,95.51 60.61,89.57 60.7,89.04 60.8,89.22 60.89,93.77 60.98,91.99 61.08,94.42 61.17,95.12 61.27,95.52 61.36,98.33 61.45,98.32 61.55,92.16 61.64,95.55 61.74,94.76 61.83,92.27 61.92,99.36 62.02,97.07 62.11,94.71 62.21,94.01 62.3,95.59 62.39,91.31 62.49,93.35 62.58,97.59 62.68,96.37 62.77,91.65 62.86,93.21 62.96,99.64 63.05,90.81 63.15,93.09 63.24,91.15 63.33,95.99 63.43,95.74 63.52,97.46 63.62,88.67 63.71,96.23 63.81,91.63 63.9,97.26 63.99,94.96 64.09,100.27 64.18,97.69 64.28,93.67 64.37,99.48 64.46,92.68 64.56,94.1 64.65,98.14 64.75,96.52 64.84,96.6 64.93,96.2 65.03,96.24 65.12,96.95 65.22,95.56 65.31,97.44 65.4,97.96 65.5,94.28 65.59,91.02 65.69,97.84 65.78,94.48 65.87,96.5 65.97,97.15 66.06,91.96 66.16,95.82 66.25,90.26 66.34,96.06 66.44,93.41 66.53,94.99 66.63,96.51 66.72,93.12 66.81,95.39 66.91,93.4 67,95.33 67.1,98.18 67.19,95.04 67.28,94.46 67.38,92.8 67.47,97.98 67.57,95.55 67.66,99.79 67.75,93.19 67.85,98.85 67.94,100.88 68.04,96.9 68.13,94.3 68.23,101.45 68.32,100.63 68.41,99.78 68.51,99.46 68.6,95.47 68.7,99.14 68.79,99.11 68.88,95.92 68.98,100.15 69.07,97.58 69.17,101.9 69.26,102.29 69.35,104.23 69.45,94.52 69.54,100.52 69.64,99.73 69.73,100.28 69.82,100.09 69.92,101.15 70.01,96.24 70.11,104.41 70.2,105.33 70.29,104.23 70.39,104.06 70.48,98.09 70.58,97.64 70.67,102.51 70.76,103.48 70.86,101.06 70.95,96.29 71.05,106.7 71.14,98.05 71.23,102.47 71.33,96.95 71.42,103.23 71.52,100.96 71.61,104.58 71.7,103.02 71.8,97.43 71.89,99.65 71.99,102.2 72.08,103.27 72.18,105.46 72.27,101.29 72.36,99.91 72.46,100.71 72.55,101.22 72.65,103.74 72.74,101.08 72.83,101.11 72.93,97.35 73.02,95.95 73.12,100.93 73.21,102.63 73.3,100.3 73.4,102.96 73.49,102.62 73.59,101.31 73.68,103.71 73.77,99.93 73.87,101.98 73.96,101.08 74.06,102.12 74.15,103.91 74.24,104.47 74.34,103.18 74.43,103.26 74.53,101.38 74.62,102.34 74.71,105.69 74.81,101.22 74.9,105.47 75,103.97 75.09,103.51 75.18,108.27 75.28,102.15 75.37,101.6 75.47,102.46 75.56,102.84 75.65,102.25 75.75,103.57 75.84,102.53 75.94,103.84 76.03,102.11 76.12,106.24 76.22,102.8 76.31,103.13 76.41,104.06 76.5,104.68 76.6,101.7 76.69,107.31 76.78,101.85 76.88,102.35 76.97,102.48 77.07,102.6 77.16,105.36 77.25,103.36 77.35,100.5 77.44,100.47 77.54,100.28 77.63,104.08 77.72,98.85 77.82,96.1 77.91,96.1 78.01,98.17 78.1,102.97 78.19,95.97 78.29,98.96 78.38,105.19 78.48,96.77 78.57,101.91 78.66,102.33 78.76,100.09 78.85,95.21 78.95,99.6 79.04,98.73 79.13,94.2 79.23,95.09 79.32,98.99 79.42,99.66 79.51,102.17 79.6,100.95 79.7,98.52 79.79,98.75 79.89,99.53 79.98,97.1 80.07,101.62 80.17,99.69 80.26,97.51 80.36,97.91 80.45,96.51 80.55,98.64 80.64,100.29 80.73,99.29 80.83,102.7 80.92,104.18 81.02,97.75 81.11,99.29 81.2,98.95 81.3,105.07 81.39,101.75 81.49,102.18 81.58,102.97 81.67,107 81.77,102.51 81.86,98.97 81.96,100.63 82.05,103.56 82.14,102.03 82.24,98.89 82.33,108.14 82.43,102 82.52,100.2 82.61,99.14 82.71,96.53 82.8,97.93 82.9,100.3 82.99,100.24 83.08,99.07 83.18,102.59 83.27,101.77 83.37,99.36 83.46,96.61 83.55,102.04 83.65,102.26 83.74,102.09 83.84,98.47 83.93,101.67 84.02,97.6 84.12,104.13 84.21,102.26 84.31,101.82 84.4,99.07 84.5,98.19 84.59,104.4 84.68,102.54 84.78,99 84.87,101.81 84.97,103.7 85.06,97.24 85.15,98.55 85.25,99.01 85.34,101.46 85.44,97.41 85.53,100.36 85.62,95.88 85.72,101.32 85.81,101.63 85.91,98.44 86,100.74 86.09,97.02 86.19,97.83 86.28,101.08 86.38,98.99 86.47,100.96 86.56,97.16 86.66,101.75 86.75,101.21 86.85,97.25 86.94,94.6 87.03,95.86 87.13,100.95 87.22,100.36 87.32,96.81 87.41,101.39 87.5,103.32 87.6,100.82 87.69,99.37 87.79,102.48 87.88,104.05 87.97,103.94 88.07,97.82 88.16,101.73 88.26,99.71 88.35,98.63 88.44,97.75 88.54,100.11 88.63,98.67 88.73,103.11 88.82,101.34 88.92,104.26 89.01,98.62 89.1,101.69 89.2,104.15 89.29,102.14 89.39,102.62 89.48,99.71 89.57,105.31 89.67,103.68 89.76,101.86 89.86,93.86 89.95,98.55 90.04,100.54 90.14,98.55 90.23,95.61 90.33,100.43 90.42,100.93 90.51,97.13 90.61,98.43 90.7,99.25 90.8,101.14 90.89,95.11 90.98,96.68 91.08,100 91.17,99.88 91.27,107.34 91.36,100.03 91.45,102.72 91.55,100.39 91.64,99.89 91.74,102.59 91.83,105.79 91.92,99.99 92.02,103.14 92.11,101.79 92.21,103.28 92.3,102.52 92.39,106.9 92.49,96.93 92.58,98.79 92.68,96.25 92.77,94.06 92.87,98.86 92.96,103.99 93.05,100.9 93.15,101.74 93.24,100.15 93.34,99.13 93.43,103.99 93.52,97.57 93.62,102.14 93.71,97.2 93.81,98.71 93.9,100.03 93.99,99.98 94.09,101.93 94.18,101.78 94.28,105.12 94.37,100.95 94.46,96.75 94.56,96.47 94.65,97.96 94.75,99.36 94.84,103.99 94.93,98.55 95.03,102.91 95.12,103.23 95.22,103.58 95.31,102.49 95.4,103.07 95.5,101.34 95.59,104.06 95.69,101.76 95.78,94.67 95.87,100.29 95.97,100.62 96.06,99 96.16,98.21 96.25,102.29 96.34,99.57 96.44,95.99 96.53,98.2 96.63,99.1 96.72,94.74 96.81,101.2 96.91,99.84 97,101.51 97.1,96.4 97.19,105.99 97.29,103.69 97.38,104.2 97.47,100.56 97.57,101.08 97.66,99.26 97.76,107.29 97.85,101.14 97.94,104.17 98.04,104.87 98.13,102.58 98.23,106.9 98.32,109.67 98.41,105.34 98.51,108.28 98.6,105.93 98.7,102.66 98.79,101.65 98.88,98.74 98.98,103.97 99.07,107.31 99.17,105.18 99.26,105.66 99.35,106.13 99.45,101.36 99.54,104.2 99.64,107.67 99.73,100.68 99.82,102.81 99.92,101.27 100.01,101.27 100.11,99.75 100.2,101.67 100.29,98.17 100.39,99.47 100.48,100.12 100.58,100.79 100.67,105.61 100.76,102.31 100.86,103 100.95,101.56 101.05,105.48 101.14,97.57 101.24,101.12 101.33,105.64 101.42,106.88 101.52,102.39 101.61,102.19 101.71,103.89 101.8,101.83 101.89,102.71 101.99,99.46 102.08,103.06 102.18,100.87 102.27,97.93 102.36,93.67 102.46,102.72 102.55,101.3 102.65,102.73 102.74,97.87 102.83,103.47 102.93,102.53 103.02,101.4 103.12,104.28 103.21,103.97 103.3,103.35 103.4,107.7 103.49,105.66 103.59,103.14 103.68,101.7 103.77,102.64 103.87,106.96 103.96,103.34 104.06,100.24 104.15,100.66 104.24,101.46 104.34,104.28 104.43,100.23 104.53,102.9 104.62,105.32 104.71,104.77 104.81,97.72 104.9,101.44 105,98.06 105.09,102.37 105.19,98.63 105.28,102.61 105.37,101.31 105.47,93.8 105.56,98.2 105.66,102.16 105.75,100.3 105.84,98.81 105.94,96.37 106.03,100.84 106.13,103.9 106.22,100.67 106.31,99.99 106.41,100.55 106.5,97.88 106.6,100.63 106.69,99.35 106.78,104.28 106.88,99.5 106.97,95.75 107.07,99.31 107.16,99.71 107.25,100.1 107.35,95.92 107.44,102.9 107.54,101.48 107.63,100.15 107.72,99.16 107.82,101.53 107.91,99.72 108.01,100.57 108.1,99.75 108.19,100.52 108.29,104.01 108.38,101.71 108.48,99.45 108.57,105.13 108.66,103.53 108.76,101.7 108.85,105.8 108.95,101.37 109.04,104.41 109.13,98.38 109.23,95.56 109.32,95.9 109.42,102.86 109.51,100.72 109.61,102.16 109.7,101.16 109.79,97.39 109.89,104.97 109.98,98.95 110.08,101.89 110.17,97.81 110.26,101.57 110.36,103.36 110.45,101 110.55,100.33 110.64,102.97 110.73,102.02 110.83,104.01 110.92,107.56 111.02,100.11 111.11,100.86 111.2,102.46 111.3,102.9 111.39,99.95 111.49,103.78 111.58,103.53 111.67,102.2 111.77,99.34 111.86,105.91 111.96,99.03 112.05,103.88 112.14,105.18 112.24,99.19 112.33,102.91 112.43,106.04 112.52,103.27 112.61,99.47 112.71,98.33 112.8,103.01 112.9,101.04 112.99,100.87 113.08,103.91 113.18,101.23 113.27,102.4 113.37,103.76 113.46,103.67 113.56,102.23 113.65,102.12 113.74,103.67 113.84,102.76 113.93,99.04 114.03,101.46 114.12,99.38 114.21,98.24 114.31,99.98 114.4,95.82 114.5,104.22 114.59,100.28 114.68,103.25 114.78,97.11 114.87,97.23 114.97,105.88 115.06,103.64 115.15,99.58 115.25,99.85 115.34,100.26 115.44,102.54 115.53,101.59 115.62,100.87 115.72,102.4 115.81,99.28 115.91,108.04 116,100.59 116.09,105.17 116.19,100.56 116.28,103.22 116.38,105.62 116.47,101.68 116.56,104.77 116.66,104.43 116.75,105.86 116.85,101.89 116.94,100.32 117.03,99.19 117.13,102.69 117.22,99.6 117.32,101.39 117.41,101.26 117.5,99.58 117.6,98.26 117.69,102.74 117.79,102.1 117.88,102.41 117.98,101.93 118.07,104.2 118.16,98.4 118.26,102.52 118.35,100.14 118.45,103.63 118.54,100.17 118.63,100.09 118.73,103.1 118.82,96.14 118.92,100.2 119.01,96.18 119.1,97.46 119.2,101.83 119.29,100.97 119.39,98.82 119.48,99.84 119.57,100.53 119.67,101.16 119.76,105.79 119.86,101.95 119.95,107.67 120.04,100.99 120.14,103.8 120.23,104.97 120.33,103.86 120.42,102.48 120.51,107.32 120.61,108.77 120.7,106.72 120.8,109.63 120.89,107.78 120.98,101.59 121.08,108.53 121.17,103.45 121.27,108.29 121.36,103.49 121.45,105.55 121.55,105.18 121.64,103.16 121.74,100.11 121.83,105.01 121.93,105.23 122.02,107.6 122.11,103.98 122.21,105.79 122.3,102.88 122.4,105.31 122.49,100.83 122.58,110.57 122.68,106.19 122.77,103.32 122.87,105.79 122.96,106.85 123.05,104.69 123.15,107.42 123.24,103.06 123.34,96.74 123.43,100.62 123.52,106.81 123.62,106.82 123.71,105.21 123.81,101.06 123.9,105.68 123.99,105.86 124.09,101.6 124.18,101.65 124.28,105.54 124.37,106.99 124.46,108.17 124.56,105.99 124.65,110.44 124.75,103.07 124.84,106.26 124.93,103.03 125.03,98.42 125.12,100.78 125.22,106.67 125.31,101.54 125.4,100.23 125.5,105.74 125.59,105.82 125.69,103.58 125.78,108.38 125.88,101.14 125.97,111.64 126.06,108.01 126.16,105.23 126.25,104.89 126.35,103.78 126.44,104.36 126.53,105.23 126.63,102.14 126.72,110.08 126.82,104.79 126.91,106.5 127,104.75 127.1,104.97 127.19,107.75 127.29,107.05 127.38,102.97 127.47,103.78 127.57,107.15 127.66,100.57 127.76,99.45 127.85,109.35 127.94,104.98 128.04,99.04 128.13,104.28 128.23,106.01 128.32,107.14 128.41,107.33 128.51,106.4 128.6,107.05 128.7,103.28 128.79,106.44 128.88,106.65 128.98,108.51 129.07,105.04 129.17,107.93 129.26,105.79 129.35,102.29 129.45,103.96 129.54,103.44 129.64,103.37 129.73,104.34 129.82,105.34 129.92,105.27 130.01,102.79 130.11,107.93 130.2,101.88 130.3,105.2 130.39,107.39 130.48,107.39 130.58,107.66 130.67,105.26 130.77,108.15 130.86,102.75 130.95,107.75 131.05,112.04 131.14,107.65 131.24,111.05 131.33,106.06 131.42,102.14 131.52,103.31 131.61,108.23 131.71,106.51 131.8,99.96 131.89,103.49 131.99,104.28 132.08,100.91 132.18,96.97 132.27,100.58 132.36,103.43 132.46,102.81 132.55,102.87 132.65,106 132.74,106.95 132.83,104.61 132.93,106.53 133.02,103.85 133.12,103.59 133.21,97.25 133.3,105.97 133.4,104.23 133.49,105.06 133.59,103.33 133.68,101.69 133.77,106.22 133.87,106.63 133.96,107.7 134.06,106.09 134.15,102.16 134.25,103.68 134.34,106.44 134.43,104.95 134.53,104 134.62,102.94 134.72,105.44 134.81,104.83 134.9,108.81 135,107.17 135.09,99.75 135.19,109.46 135.28,104.74 135.37,104 135.47,105.11 135.56,106.69 135.66,104.46 135.75,104.8 135.84,105.09 135.94,109.82 136.03,104.91 136.13,107.48 136.22,106.25 136.31,104.93 136.41,103.22 136.5,103.37 136.6,107.41 136.69,104.59 136.78,103.41 136.88,104.27 136.97,103.27 137.07,107.69 137.16,108.29 137.25,105.84 137.35,111.42 137.44,107.65 137.54,108.64 137.63,108.45 137.72,111.58 137.82,109.87 137.91,106.84 138.01,103.51 138.1,102.59 138.19,105.88 138.29,105.96 138.38,107.94 138.48,104.06 138.57,105.55 138.67,103.5 138.76,100.75 138.85,105.52 138.95,109.05 139.04,108.04 139.14,109.51 139.23,108.47 139.32,102.38 139.42,106.05 139.51,110.63 139.61,104.46 139.7,102.97 139.79,107.51 139.89,108.51 139.98,106.77 140.08,104.96 140.17,104.73 140.26,102.71 140.36,103.36 140.45,102.31 140.55,102 140.64,104.22 140.73,109.78 140.83,105.43 140.92,103.96 141.02,107.04 141.11,103.66 141.2,105.93 141.3,107.87 141.39,102.6 141.49,104.56 141.58,105.06 141.67,103.73 141.77,103.48 141.86,105.87 141.96,113.38 142.05,108.48 142.14,108.05 142.24,110.03 142.33,107.45 142.43,103.74 142.52,107.74 142.62,110.08 142.71,101.5 142.8,107.46 142.9,109.18 142.99,105.13 143.09,104.04 143.18,106.44 143.27,102.44 143.37,105.81 143.46,106.8 143.56,103.49 143.65,101.89 143.74,106.03 143.84,104.54 143.93,105.68 144.03,97.75 144.12,106.97 144.21,102.04 144.31,105.85 144.4,106.41 144.5,104.65 144.59,104.52 144.68,103.81 144.78,106.36 144.87,109.78 144.97,110.1 145.06,107.93 145.15,107.14 145.25,104.39 145.34,106.8 145.44,105.27 145.53,104.56 145.62,107.6 145.72,112.42 145.81,111.27 145.91,111.99 146,104.51 146.09,110.67 146.19,105.02 146.28,106.16 146.38,102.62 146.47,103.37 146.57,106.56 146.66,106.97 146.75,107.27 146.85,107.21 146.94,109.02 147.04,108.55 147.13,104.03 147.22,112.76 147.32,107.97 147.41,110.86 147.51,108.32 147.6,106.39 147.69,109.16 147.79,107.39 147.88,113.55 147.98,106.34 148.07,110.59 148.16,106.7 148.26,108.22 148.35,115.39 148.45,109.76 148.54,107.64 148.63,104.24 148.73,106.94 148.82,106.57 148.92,111.18 149.01,104.29 149.1,103.36 149.2,107.6 149.29,108.71 149.39,112.2 149.48,106.08 149.57,101.65 149.67,106.48 149.76,105.02 149.86,107.35 149.95,111 150.04,104.82 150.14,111.93 150.23,109.95 150.33,108.85 150.42,107.05 150.51,107.72 150.61,108.25 150.7,111.63 150.8,113.49 150.89,109.44 150.99,111.13 151.08,112.7 151.17,112.96 151.27,110.87 151.36,114.46 151.46,113.69 151.55,114.95 151.64,109.96 151.74,108.31 151.83,103.98 151.93,112.79 152.02,110.62 152.11,106.42 152.21,109.63 152.3,110.36 152.4,104.55 152.49,109.88 152.58,111.5 152.68,111.51 152.77,107.24 152.87,107.08 152.96,111.06 153.05,109.74 153.15,106 153.24,105.81 153.34,109.47 153.43,106.37 153.52,106.51 153.62,112.57 153.71,108.21 153.81,107.47 153.9,110.27 153.99,113.86 154.09,109.35 154.18,107.01 154.28,104.79 154.37,114.35 154.46,102.01 154.56,111.81 154.65,106.48 154.75,105.94 154.84,105.35 154.94,107.45 155.03,110.78 155.12,106.59 155.22,109.33 155.31,113.9 155.41,100.37 155.5,105.81 155.59,103.01 155.69,110.03 155.78,104.32 155.88,104.05 155.97,104.85 156.06,109.23 156.16,112.47 156.25,110.84 156.35,116.68 156.44,115.19 156.53,110.3 156.63,113.65 156.72,111.84 156.82,112.24 156.91,106.65 157,108.69 157.1,112.53 157.19,109.69 157.29,114.98 157.38,113.08 157.47,109.84 157.57,115.24 157.66,112.99 157.76,114.64 157.85,110.6 157.94,106.31 158.04,112.67 158.13,110.27 158.23,112.62 158.32,113.66 158.41,113.17 158.51,105.89 158.6,103.39 158.7,107.96 158.79,111.41 158.89,107.33 158.98,110.34 159.07,106.94 159.17,109.16 159.26,109.2 159.36,108.35 159.45,110.76 159.54,109.8 159.64,113.42 159.73,110.9 159.83,113.14 159.92,110 160.01,111.72 160.11,109.3 160.2,108.86 160.3,114.13 160.39,112.13 160.48,112.2 160.58,107.75 160.67,105.85 160.77,108.01 160.86,111.78 160.95,106.52 161.05,114.56 161.14,106.07 161.24,111.71 161.33,116.67 161.42,102.92 161.52,105.16 161.61,111.68 161.71,107.88 161.8,109.25 161.89,109.41 161.99,113.24 162.08,110.55 162.18,107.34 162.27,107.16 162.36,105.06 162.46,108.12 162.55,102.06 162.65,110.55 162.74,108.83 162.83,114.2 162.93,113.81 163.02,106.9 163.12,113.38 163.21,108.57 163.31,109.39 163.4,112.31 163.49,110.62 163.59,112.16 163.68,112.87 163.78,110.46 163.87,110.2 163.96,113.1 164.06,114.27 164.15,110.91 164.25,111.54 164.34,107.61 164.43,103.28 164.53,108.34 164.62,111.71 164.72,112.31 164.81,113.67 164.9,114.28 165,114.52 165.09,112.38 165.19,112.18 165.28,109.24 165.37,112.38 165.47,111.2 165.56,113.31 165.66,105.89 165.75,108.81 165.84,105.89 165.94,108.46 166.03,106.25 166.13,110.37 166.22,107.7 166.31,101.47 166.41,111.35 166.5,105.37 166.6,103.39 166.69,107.11 166.78,106.33 166.88,105.62 166.97,111.02 167.07,108.75 167.16,112.29 167.26,111.96 167.35,111.24 167.44,110.53 167.54,110 167.63,110.17 167.73,116.12 167.82,106.71 167.91,109.28 168.01,110.76 168.1,113.87 168.2,113.9 168.29,111.76 168.38,112.33 168.48,118 168.57,111.48 168.67,105.43 168.76,118.97 168.85,111 168.95,113.2 169.04,113.25 169.14,109.64 169.23,116.69 169.32,112.5 169.42,109.68 169.51,114.59 169.61,114.27 169.7,113.11 169.79,114.66 169.89,108.57 169.98,115.53 170.08,110.83 170.17,117.15 170.26,111.92 170.36,114.11 170.45,121.47 170.55,113.95 170.64,117.53 170.73,115.63 170.83,109.29 170.92,115.65 171.02,116.09 171.11,109.33 171.2,113.23 171.3,109.9 171.39,113.46 171.49,116.25 171.58,113.11 171.68,109.57 171.77,110.24 171.86,112.48 171.96,112.39 172.05,113.28 172.15,115.33 172.24,108.94 172.33,114.13 172.43,116.94 172.52,115.14 172.62,111.95 172.71,111.84 172.8,113.75 172.9,115.54 172.99,114.01 173.09,118.56 173.18,117.58 173.27,112.89 173.37,116.23 173.46,113.28 173.56,110.69 173.65,112.11 173.74,113.75 173.84,107.64 173.93,111.72 174.03,114.34 174.12,112.06 174.21,112.26 174.31,115.36 174.4,112.18 174.5,113.13 174.59,118.51 174.68,112.64 174.78,113.13 174.87,113.3 174.97,116.71 175.06,113.2 175.15,112.62 175.25,113.15 175.34,116.01 175.44,111.41 175.53,116.19 175.63,113.55 175.72,109.32 175.81,115.34 175.91,115.4 176,110.46 176.1,114.78 176.19,114.66 176.28,113.76 176.38,111.86 176.47,121.32 176.57,117.76 176.66,117.52 176.75,117.8 176.85,117.31 176.94,117.09 177.04,114.45 177.13,118.18 177.22,115.45 177.32,113.46 177.41,116.55 177.51,114.18 177.6,110.29 177.69,113.47 177.79,116.41 177.88,114.53 177.98,116.55 178.07,113 178.16,111.41 178.26,115.53 178.35,114 178.45,110.88 178.54,115.15 178.63,113.12 178.73,117.38 178.82,116.65 178.92,116.49 179.01,109.88 179.1,117.08 179.2,117.44 179.29,118.02 179.39,117.05 179.48,115.7 179.58,117.3 179.67,112.29 179.76,116.8 179.86,113.59 179.95,116.23 180.05,115.5 180.14,120.69 180.23,117.44 180.33,117.49 180.42,117.68 180.52,122.46 180.61,113.8 180.7,116.87 180.8,117.47 180.89,116.66 180.99,116.26 181.08,114.77 181.17,119.24 181.27,118.37 181.36,115.75 181.46,116.21 181.55,117.73 181.64,118.62 181.74,118.36 181.83,116.18 181.93,113.26 182.02,119.24 182.11,111.8 182.21,113.57 182.3,116.95 182.4,114.36 182.49,120.74 182.58,122.13 182.68,120.94 182.77,117.99 182.87,118.3 182.96,118.23 183.05,116.83 183.15,123.38 183.24,116.18 183.34,120.75 183.43,118.88 183.52,119.42 183.62,121.34 183.71,122.69 183.81,120.81 183.9,118.16 184,116.35 184.09,116.8 184.18,121.71 184.28,121.28 184.37,121.89 184.47,118.1 184.56,124.43 184.65,116.37 184.75,121.33 184.84,121.84 184.94,118.73 185.03,117.67 185.12,119.07 185.22,118.47 185.31,121.01 185.41,117.96 185.5,117.86 185.59,121.01 185.69,116.83 185.78,120.07 185.88,119.81 185.97,122.86 186.06,121.1 186.16,118.46 186.25,124.45 186.35,118.75 186.44,119.58 186.53,119.75 186.63,126.48 186.72,121.24 186.82,120.29 186.91,123.2 187,121.37 187.1,127.71 187.19,120.54 187.29,124.28 187.38,120.93 187.47,128.14 187.57,120.63 187.66,123.41 187.76,121.18 187.85,125.2 187.95,125.1 188.04,117.29 188.13,124.92 188.23,124.1 188.32,123.68 188.42,125.93 188.51,120.23 188.6,118.74 188.7,125.15 188.79,127.06 188.89,119.68 188.98,121.51 189.07,122.06 189.17,121.09 189.26,127.06 189.36,125.76 189.45,129.45 189.54,129.69 189.64,124.01 189.73,128.71 189.83,121.04 189.92,126.6 190.01,128.85 190.11,126.05 190.2,124.31 190.3,127.45 190.39,131.03 190.48,127.7 190.58,126.27 190.67,131.25 190.77,131.54 190.86,127.43 190.95,129.98 191.05,132.94 191.14,131.37 191.24,132.53 191.33,130.65 191.42,131.73 191.52,129.76 191.61,130.37 191.71,136.86 191.8,133.14 191.89,132.09 191.99,133.15 192.08,132.27 192.18,136.76 192.27,137.69 192.37,133.87 192.46,138.4 192.55,141.24 192.65,134.58 192.74,139.19 192.84,138.43 192.93,141.28 193.02,142.1 193.12,141.64 193.21,139.98 193.31,139.42 193.4,144.98 193.49,139.06 193.59,143.35 193.68,143.7 193.78,141.25 193.87,143.52 193.96,146.76 194.06,140.85 194.15,146.17 194.25,144.56 194.34,144.91 194.43,143.42 194.53,147.54 194.62,145.67 194.72,149.06 194.81,146.18 194.9,149.76 195,149.42 195.09,145.88 195.19,148.76 195.28,149.29 195.37,145.71 195.47,149.1 195.56,151.28 195.66,148.62 195.75,152.26 195.84,148.39 195.94,148.74 196.03,152 196.13,152.2 196.22,151.02 196.32,151.6 196.41,153.22 196.5,150.43 196.6,154.95 196.69,152.56 196.79,152.79 196.88,153.13 196.97,152.77 197.07,155.4 197.16,152.46 197.26,153.67 197.35,154.44 197.44,155.17 197.54,155.19 197.63,152.9 197.73,155.1 197.82,153.77 197.91,152.39 198.01,152.25 198.1,151.4 198.2,154.41 198.29,155.55 198.38,152.12 198.48,153.27 198.57,152.23 198.67,154.14 198.76,152.31 198.85,153.24 198.95,153.36 199.04,153.64 199.14,154.36 199.23,154.29 199.32,154 199.42,153.04 199.51,155.7 199.61,152.67 199.7,155.65 199.79,154.33 199.89,156.12 199.98,156.54 200.08,152.98 200.17,156.38 200.27,158.49 200.36,157.69 200.45,157.38 200.55,153.61 200.64,156.89 200.74,156.31 200.83,159.27 200.92,157.51 201.02,156.72 201.11,154.76 201.21,158.2 201.3,156.34 201.39,156.73 201.49,159.11 201.58,157.81 201.68,157.76 201.77,160.76 201.86,155.87 201.96,155.6 202.05,156.89 202.15,157.92 202.24,154.24 202.33,155.99 202.43,155.18 202.52,155.12 202.62,157.97 202.71,156.2 202.8,157.46 202.9,156.74 202.99,156.77 203.09,156.82 203.18,155.24 203.27,157.04 203.37,157.8 203.46,158.02 203.56,157.31 203.65,158.86 203.74,157.83 203.84,156.92 203.93,157.73 204.03,157.22 204.12,158.06 204.21,154.51 204.31,155.95 204.4,157.23 204.5,157.85 204.59,154.58 204.69,157.48 204.78,158.17 204.87,157.39 204.97,157.57 205.06,155.81 205.16,158.1 205.25,155.19 205.34,159.03 205.44,156.76 205.53,158.83 205.63,155.19 205.72,157.99 205.81,157.84 205.91,156.56 206,156.29 206.1,159.62 206.19,158.01 206.28,160.17 206.38,157.98 206.47,158.72 206.57,158.98 206.66,159.68 206.75,159.53 206.85,160.2 206.94,158.55 207.04,156.75 207.13,161.88 207.22,159.3 207.32,159.98 207.41,158.68 207.51,160.65 207.6,159.94 207.69,160.71 207.79,158.67 207.88,159.71 207.98,160.52 208.07,159.79 208.16,160.74 208.26,162.53 208.35,159.64 208.45,160.13 208.54,160.77 208.64,159.4 208.73,159.05 208.82,161.98 208.92,162.11 209.01,158.78 209.11,158.91 209.2,161.49 209.29,161.94 209.39,160.94 209.48,160.52 209.58,161.84 209.67,159.72 209.76,161.42 209.86,161.41 209.95,158.16 210.05,159.95 210.14,158.94 210.23,158.58 210.33,157.85 210.42,159.13 210.52,158.73 210.61,160 210.7,155.84 210.8,157.56 210.89,160.02 210.99,158.78 211.08,157.63 211.17,158.08 211.27,155.98 211.36,156.97 211.46,159.99 211.55,159.58 211.64,160.92 211.74,158.93 211.83,159.31 211.93,156.05 212.02,159.8 212.11,163.1 212.21,160.97 212.3,159.93 212.4,161.65 212.49,161.18 212.58,160.77 212.68,159.88 212.77,160.4 212.87,161.16 212.96,158.89 213.06,161.12 213.15,161.36 213.24,162.82 213.34,161.63 213.43,159.47 213.53,162.83 213.62,160.62 213.71,159.5 213.81,161.18 213.9,160.19 214,161.8 214.09,158.97 214.18,159.36 214.28,160.5 214.37,163 214.47,161.76 214.56,158.68 214.65,157.59 214.75,159.56 214.84,158.38 214.94,161.14 215.03,161.12 215.12,161.09 215.22,160.8 215.31,163.9 215.41,160.36 215.5,159.33 215.59,163.04 215.69,163.42 215.78,160.9 215.88,162.42 215.97,164.58 216.06,160.36 216.16,161.67 216.25,162.76 216.35,159.18 216.44,161.24 216.53,162.62 216.63,161.29 216.72,162.73 216.82,162.45 216.91,161.04 217.01,161.88 217.1,162.01 217.19,159.37 217.29,160.45 217.38,160.66 217.48,160.92 217.57,160.73 217.66,158.83 217.76,160.79 217.85,158.34 217.95,161.78 218.04,160.74 218.13,162.28 218.23,161.08 218.32,159.76 218.42,158.54 218.51,161.38 218.6,160.23 218.7,160.44 218.79,160.83 218.89,161.54 218.98,159.87 219.07,162.65 219.17,159.88 219.26,160.06 219.36,161.35 219.45,161.81 219.54,162.5 219.64,157.82 219.73,162.44 219.83,158.45 219.92,159.93 220.01,161.35 220.11,162.84 220.2,160.14 220.3,158.84 220.39,162.6 220.48,161.68 220.58,160.13 220.67,161.07 220.77,158.96 220.86,162.52 220.96,160.77 221.05,163.15 221.14,158.41 221.24,162.42 221.33,164.15 221.43,161.18 221.52,160.94 221.61,157.8 221.71,161.05 221.8,160.58 221.9,159.77 221.99,158.29 222.08,160.52 222.18,158.53 222.27,159.02 222.37,160.13 222.46,159.94 222.55,160.05 222.65,161.35 222.74,158.38 222.84,162.06 222.93,158.68 223.02,158.99 223.12,160.5 223.21,161.41 223.31,160.44 223.4,159.16 223.49,158.75 223.59,159.53 223.68,158.87 223.78,160.85 223.87,159.54 223.96,161.98 224.06,158.84 224.15,159.88 224.25,160.63 224.34,158.38 224.43,158.91 224.53,163.6 224.62,159.93 224.72,162.45 224.81,159.51 224.9,157.8 225,161.89 225.09,160.85 225.19,161.5 225.28,160.64 225.38,160.41 225.47,159.68 225.56,163.05 225.66,159.66 225.75,162.91 225.85,161.72 225.94,160.37 226.03,160.48 226.13,162.62 226.22,162.04 226.32,161.68 226.41,161.22 226.5,159.54 226.6,162.79 226.69,160.26 226.79,159.74 226.88,159.52 226.97,159.36 227.07,157.79 227.16,159.39 227.26,158.85 227.35,159.4 227.44,157.91 227.54,163.08 227.63,158.36 227.73,160.54 227.82,160.72 227.91,161.73 228.01,163.29 228.1,161.57 228.2,162.45 228.29,161.06 228.38,163.83 228.48,159.8 228.57,161.26 228.67,161.66 228.76,162.16 228.85,162.21 228.95,162.61 229.04,161.99 229.14,161.17 229.23,161.38 229.33,162.86 229.42,160.84 229.51,161.53 229.61,159.71 229.7,157.08 229.8,158.99 229.89,160.34 229.98,162.52 230.08,162.35 230.17,163.04 230.27,159.63 230.36,161.5 230.45,160.7 230.55,161.56 230.64,160.7 230.74,159.17 230.83,162.14 230.92,161.7 231.02,162.46 231.11,160.31 231.21,162.67 231.3,162.79" fill="none" stroke="#000" stroke-width="0.45" stroke-linejoin="round" />
</g>
<line x1="80.3" y1="118.5" x2="80.3" y2="112" stroke="#a0a0a0" stroke-width="0.9" />
<path d="M78.4 112.7 L80.3 109.2 L82.2 112.7 Z" fill="#a0a0a0"/>
<line x1="80.3" y1="125.5" x2="80.3" y2="131.2" stroke="#a0a0a0" stroke-width="0.9" />
<path d="M78.4 130.5 L80.3 134 L82.2 130.5 Z" fill="#a0a0a0"/>
<text x="80.5" y="124.3" font-size="7.84" text-anchor="middle" fill="#a0a0a0" stroke="#a0a0a0" stroke-width="0.15" textLength="24.6" lengthAdjust="spacingAndGlyphs" >panel c</text>
<line x1="165.4" y1="131" x2="165.4" y2="123.3" stroke="#a0a0a0" stroke-width="0.9" />
<path d="M163.5 124 L165.4 120.5 L167.3 124 Z" fill="#a0a0a0"/>
<line x1="165.4" y1="140.5" x2="165.4" y2="153.7" stroke="#a0a0a0" stroke-width="0.9" />
<path d="M163.5 153 L165.4 156.5 L167.3 153 Z" fill="#a0a0a0"/>
<text x="165.4" y="140" font-size="7.84" text-anchor="middle" fill="#a0a0a0" stroke="#a0a0a0" stroke-width="0.15" textLength="25.5" lengthAdjust="spacingAndGlyphs" >panel d</text>
<line x1="80.3" y1="91.8" x2="80.3" y2="101.4" stroke="#c040c0" stroke-width="1" />
<line x1="78.2" y1="91.8" x2="82.4" y2="91.8" stroke="#c040c0" stroke-width="1" />
<line x1="78.2" y1="101.4" x2="82.4" y2="101.4" stroke="#c040c0" stroke-width="1" />
<rect x="78.5" y="94.7" width="3.6" height="3.6" fill="#f000f0"/>
<line x1="80.3" y1="137" x2="80.3" y2="152.8" stroke="#c040c0" stroke-width="1" />
<line x1="78.2" y1="137" x2="82.4" y2="137" stroke="#c040c0" stroke-width="1" />
<line x1="78.2" y1="152.8" x2="82.4" y2="152.8" stroke="#c040c0" stroke-width="1" />
<rect x="78.5" y="143.2" width="3.6" height="3.6" fill="#f000f0"/>
<line x1="165.4" y1="105.6" x2="165.4" y2="116.4" stroke="#2020e0" stroke-width="1" />
<line x1="163.3" y1="105.6" x2="167.5" y2="105.6" stroke="#2020e0" stroke-width="1" />
<line x1="163.3" y1="116.4" x2="167.5" y2="116.4" stroke="#2020e0" stroke-width="1" />
<ellipse cx="165.4" cy="110.4" rx="2.0" ry="2.3" fill="#2f86ff"/>
<line x1="165.4" y1="157.4" x2="165.4" y2="168.6" stroke="#2020e0" stroke-width="1" />
<line x1="163.3" y1="157.4" x2="167.5" y2="157.4" stroke="#2020e0" stroke-width="1" />
<line x1="163.3" y1="168.6" x2="167.5" y2="168.6" stroke="#2020e0" stroke-width="1" />
<ellipse cx="165.4" cy="162.4" rx="2.0" ry="2.3" fill="#2f86ff"/>
<line x1="143" y1="148.2" x2="127.62" y2="148.2" stroke="#b5201f" stroke-width="1.1" />
<path d="M128.3 146.5 L124.9 148.2 L128.3 149.9 Z" fill="#b5201f"/>
<line x1="124.9" y1="116.5" x2="140.28" y2="116.5" stroke="#000" stroke-width="1.1" />
<path d="M139.6 114.8 L143 116.5 L139.6 118.2 Z" fill="#000"/>
<rect x="127.2" y="36.6" width="101.2" height="40" rx="1.5" fill="#fff" fill-opacity="1" stroke="#d8d8d8" stroke-width="0.6"/>
<line x1="129.6" y1="41.4" x2="141.5" y2="41.4" stroke="#000" stroke-width="1" />
<line x1="129.6" y1="50.5" x2="141.5" y2="50.5" stroke="#c03030" stroke-width="1" />
<text x="146.3" y="43.7" font-size="6.78" text-anchor="start" fill="#000" stroke="#000" stroke-width="0.15" textLength="70" lengthAdjust="spacingAndGlyphs" >Forward QE&#160;&#160;&#160;(1 - 2200)</text>
<text x="146.3" y="52.8" font-size="6.78" text-anchor="start" fill="#000" stroke="#000" stroke-width="0.15" textLength="79.4" lengthAdjust="spacingAndGlyphs" >Backward QE (2201 - 4400)</text>
<line x1="135.8" y1="57.4" x2="135.8" y2="63" stroke="#c040c0" stroke-width="1" />
<line x1="133.9" y1="57.4" x2="137.7" y2="57.4" stroke="#c040c0" stroke-width="1" />
<line x1="133.9" y1="63" x2="137.7" y2="63" stroke="#c040c0" stroke-width="1" />
<rect x="134" y="58.2" width="3.7" height="4" fill="#f000f0"/>
<line x1="135.8" y1="67.4" x2="135.8" y2="73.4" stroke="#2020e0" stroke-width="1" />
<line x1="133.9" y1="67.4" x2="137.7" y2="67.4" stroke="#2020e0" stroke-width="1" />
<line x1="133.9" y1="73.4" x2="137.7" y2="73.4" stroke="#2020e0" stroke-width="1" />
<ellipse cx="135.8" cy="70.4" rx="1.9" ry="2.3" fill="#2f86ff"/>
<text x="146.3" y="62" font-size="6.4" text-anchor="start" fill="#000" stroke="#000" stroke-width="0.15" >Steady state (<tspan font-style="italic" text-decoration="overline">F</tspan><tspan font-style="italic" font-size="4.5" dy="1">N</tspan><tspan dy="-1"> = 0.18 Sv)</tspan></text>
<text x="146.3" y="72.6" font-size="6.4" text-anchor="start" fill="#000" stroke="#000" stroke-width="0.15" >Steady state (<tspan font-style="italic" text-decoration="overline">F</tspan><tspan font-style="italic" font-size="4.5" dy="1">N</tspan><tspan dy="-1"> = 0.45 Sv)</tspan></text>
<rect x="24.4" y="14.7" width="206.9" height="156.3" fill="none" stroke="#3a3a3a" stroke-width="0.9"/>
<line x1="22.1" y1="163.4" x2="24.4" y2="163.4" stroke="#3a3a3a" stroke-width="0.7" />
<text x="20.2" y="166" font-size="7" text-anchor="end" fill="#222" stroke="#222" stroke-width="0.15" textLength="3.67" lengthAdjust="spacingAndGlyphs" >0</text>
<line x1="22.1" y1="142.2" x2="24.4" y2="142.2" stroke="#3a3a3a" stroke-width="0.7" />
<text x="20.2" y="144.8" font-size="7" text-anchor="end" fill="#222" stroke="#222" stroke-width="0.15" textLength="3.67" lengthAdjust="spacingAndGlyphs" >5</text>
<line x1="22.1" y1="121" x2="24.4" y2="121" stroke="#3a3a3a" stroke-width="0.7" />
<text x="20.2" y="123.6" font-size="7" text-anchor="end" fill="#222" stroke="#222" stroke-width="0.15" textLength="7.34" lengthAdjust="spacingAndGlyphs" >10</text>
<line x1="22.1" y1="99.8" x2="24.4" y2="99.8" stroke="#3a3a3a" stroke-width="0.7" />
<text x="20.2" y="102.4" font-size="7" text-anchor="end" fill="#222" stroke="#222" stroke-width="0.15" textLength="7.34" lengthAdjust="spacingAndGlyphs" >15</text>
<line x1="22.1" y1="78.6" x2="24.4" y2="78.6" stroke="#3a3a3a" stroke-width="0.7" />
<text x="20.2" y="81.2" font-size="7" text-anchor="end" fill="#222" stroke="#222" stroke-width="0.15" textLength="7.34" lengthAdjust="spacingAndGlyphs" >20</text>
<line x1="22.1" y1="57.4" x2="24.4" y2="57.4" stroke="#3a3a3a" stroke-width="0.7" />
<text x="20.2" y="60" font-size="7" text-anchor="end" fill="#222" stroke="#222" stroke-width="0.15" textLength="7.34" lengthAdjust="spacingAndGlyphs" >25</text>
<line x1="22.1" y1="36.2" x2="24.4" y2="36.2" stroke="#3a3a3a" stroke-width="0.7" />
<text x="20.2" y="38.8" font-size="7" text-anchor="end" fill="#222" stroke="#222" stroke-width="0.15" textLength="7.34" lengthAdjust="spacingAndGlyphs" >30</text>
<line x1="22.1" y1="15" x2="24.4" y2="15" stroke="#3a3a3a" stroke-width="0.7" />
<text x="20.2" y="17.6" font-size="7" text-anchor="end" fill="#222" stroke="#222" stroke-width="0.15" textLength="7.34" lengthAdjust="spacingAndGlyphs" >35</text>
<text x="25.41" y="180.8" font-size="7" text-anchor="end" fill="#222" stroke="#222" stroke-width="0.15" textLength="5.5" lengthAdjust="spacingAndGlyphs" >1/</text>
<text x="25.41" y="180.8" font-size="7" text-anchor="start" fill="#ff2a2a" stroke="#ff2a2a" stroke-width="0.15" textLength="14.68" lengthAdjust="spacingAndGlyphs" >4400</text>
<text x="72.34" y="180.8" font-size="7" text-anchor="end" fill="#222" stroke="#222" stroke-width="0.15" textLength="12.84" lengthAdjust="spacingAndGlyphs" >500/</text>
<text x="72.34" y="180.8" font-size="7" text-anchor="start" fill="#ff2a2a" stroke="#ff2a2a" stroke-width="0.15" textLength="14.68" lengthAdjust="spacingAndGlyphs" >3900</text>
<text x="119.36" y="180.8" font-size="7" text-anchor="end" fill="#222" stroke="#222" stroke-width="0.15" textLength="16.51" lengthAdjust="spacingAndGlyphs" >1000/</text>
<text x="119.36" y="180.8" font-size="7" text-anchor="start" fill="#ff2a2a" stroke="#ff2a2a" stroke-width="0.15" textLength="14.68" lengthAdjust="spacingAndGlyphs" >3400</text>
<text x="166.38" y="180.8" font-size="7" text-anchor="end" fill="#222" stroke="#222" stroke-width="0.15" textLength="16.51" lengthAdjust="spacingAndGlyphs" >1500/</text>
<text x="166.38" y="180.8" font-size="7" text-anchor="start" fill="#ff2a2a" stroke="#ff2a2a" stroke-width="0.15" textLength="14.68" lengthAdjust="spacingAndGlyphs" >2900</text>
<text x="213.41" y="180.8" font-size="7" text-anchor="end" fill="#222" stroke="#222" stroke-width="0.15" textLength="16.51" lengthAdjust="spacingAndGlyphs" >2000/</text>
<text x="213.41" y="180.8" font-size="7" text-anchor="start" fill="#ff2a2a" stroke="#ff2a2a" stroke-width="0.15" textLength="14.68" lengthAdjust="spacingAndGlyphs" >2400</text>
<text x="127.85" y="188.9" font-size="6.89" text-anchor="middle" fill="#222" stroke="#222" stroke-width="0.15" textLength="32.1" lengthAdjust="spacingAndGlyphs" >Model year</text>
<text x="9.5" y="92.8" font-size="7.1" text-anchor="middle" fill="#222" stroke="#222" stroke-width="0.15" textLength="65" lengthAdjust="spacingAndGlyphs" transform="rotate(-90 9.5 92.8)" >Volume transport (Sv)</text>
<text x="127.8" y="10.6" font-size="8.69" text-anchor="middle" fill="#000" stroke="#000" stroke-width="0.15" textLength="90.2" lengthAdjust="spacingAndGlyphs" >a) AMOC strength at 26°N</text>
<g clip-path="url(#clipb)">
<line x1="281.3" y1="171.32" x2="488.3" y2="171.32" stroke="#dcdcdc" stroke-width="0.7" />
<line x1="281.3" y1="151.74" x2="488.3" y2="151.74" stroke="#dcdcdc" stroke-width="0.7" />
<line x1="281.3" y1="132.16" x2="488.3" y2="132.16" stroke="#dcdcdc" stroke-width="0.7" />
<line x1="281.3" y1="112.58" x2="488.3" y2="112.58" stroke="#dcdcdc" stroke-width="0.7" />
<line x1="281.3" y1="93" x2="488.3" y2="93" stroke="#dcdcdc" stroke-width="0.7" />
<line x1="281.3" y1="73.42" x2="488.3" y2="73.42" stroke="#dcdcdc" stroke-width="0.7" />
<line x1="281.3" y1="53.84" x2="488.3" y2="53.84" stroke="#dcdcdc" stroke-width="0.7" />
<line x1="281.3" y1="34.26" x2="488.3" y2="34.26" stroke="#dcdcdc" stroke-width="0.7" />
<line x1="281.3" y1="14.68" x2="488.3" y2="14.68" stroke="#dcdcdc" stroke-width="0.7" />
<line x1="328.35" y1="14.7" x2="328.35" y2="171" stroke="#dcdcdc" stroke-width="0.7" />
<line x1="375.39" y1="14.7" x2="375.39" y2="171" stroke="#dcdcdc" stroke-width="0.7" />
<line x1="422.44" y1="14.7" x2="422.44" y2="171" stroke="#dcdcdc" stroke-width="0.7" />
<line x1="469.48" y1="14.7" x2="469.48" y2="171" stroke="#dcdcdc" stroke-width="0.7" />
<polyline points="281.3,93.21 283.18,93.33 285.06,93.49 286.95,93.49 288.83,93.6 290.71,93 292.59,92.86 294.47,92.84 296.35,93.34 298.24,93.52 300.12,93.52 302,93.89 303.88,87.35 305.76,72.93 307.65,59.24 309.53,47.21 311.41,37.76 313.29,37.73 315.17,37.81 317.05,38.18 318.94,37.99 320.82,37.29 322.7,36.38 324.58,35.54 326.46,35.07 328.35,34.71 330.23,34.2 332.11,33.34 333.99,32.72 335.87,32.22 337.75,31.62 339.64,30.92 341.52,31.26 343.4,32.31 345.28,32.5 347.16,32.07 349.05,31.39 350.93,31.36 352.81,31.35 354.69,31.07 356.57,30.69 358.45,29.99 360.34,29.86 362.22,29.33 364.1,29.23 365.98,28.56 367.86,28.68 369.75,28.35 371.63,28.07 373.51,27.62 375.39,27.64 377.27,27.7 379.15,27.47 381.04,27.3 382.92,27.33 384.8,27.23 386.68,27 388.56,26.49 390.45,26.57 392.33,26.56 394.21,26.64 396.09,25.94 397.97,25.44 399.85,24.97 401.74,24.83 403.62,24.5 405.5,23.98 407.38,23.64 409.26,23.07 411.15,23.48 413.03,23.94 414.91,24.61 416.79,24.52 418.67,24.41 420.55,23.88 422.44,23.38 424.32,23.15 426.2,23.08 428.08,23.02 429.96,22.5 431.85,22.36 433.73,22.1 435.61,22.16 437.49,21.85 439.37,21.59 441.25,21.41 443.14,21.23 445.02,20.96 446.9,20.54 448.78,20.11 450.66,19.95 452.55,19.57 454.43,19.29 456.31,19.02 458.19,18.98 460.07,18.62 461.95,18.48 463.84,18.35 465.72,18.57 467.6,18.7 469.48,18.89 471.36,18.33 473.25,18.33 475.13,18.11 477.01,18.53 478.89,18.9 480.77,19.3 482.65,19.77 484.54,19.89 486.42,20.14 488.3,20.25" fill="none" stroke="#1fc8d0" stroke-width="1.2" stroke-linejoin="round" stroke-dasharray="2.6,1.6"/>
<polyline points="281.3,92.93 283.18,92.86 285.06,92.81 286.95,92.93 288.83,93.17 290.71,93.1 292.59,93.06 294.47,93.01 296.35,93.05 298.24,93.11 300.12,93.06 302,93.18 303.88,91.21 305.76,86.95 307.65,82.51 309.53,78.11 311.41,75.73 313.29,75.72 315.17,75.72 317.05,75.48 318.94,75.31 320.82,74.57 322.7,74.14 324.58,73.36 326.46,72.94 328.35,72.4 330.23,71.88 332.11,71.33 333.99,70.68 335.87,70.08 337.75,69.23 339.64,68.47 341.52,68 343.4,67.6 345.28,67.05 347.16,66.16 349.05,65.45 350.93,64.9 352.81,64.3 354.69,63.69 356.57,63.01 358.45,62.54 360.34,62 362.22,61.8 364.1,61.27 365.98,60.93 367.86,60.1 369.75,59.32 371.63,58.6 373.51,58.33 375.39,58.02 377.27,57.55 379.15,56.87 381.04,56.23 382.92,55.62 384.8,55.38 386.68,54.82 388.56,54.44 390.45,53.72 392.33,53.19 394.21,52.64 396.09,52.2 397.97,51.94 399.85,51.39 401.74,50.64 403.62,49.84 405.5,49.34 407.38,48.95 409.26,48.42 411.15,47.92 413.03,47.21 414.91,46.82 416.79,46.23 418.67,45.87 420.55,45.37 422.44,45 424.32,44.61 426.2,44.21 428.08,43.8 429.96,43.26 431.85,42.81 433.73,42.33 435.61,41.95 437.49,41.54 439.37,40.91 441.25,40.45 443.14,40.05 445.02,39.82 446.9,39.31 448.78,38.84 450.66,38.45 452.55,38.26 454.43,37.94 456.31,37.61 458.19,37.26 460.07,37.15 461.95,37.02 463.84,37.04 465.72,36.52 467.6,36.03 469.48,35.36 471.36,35.15 473.25,34.86 475.13,34.73 477.01,34.76 478.89,35.02 480.77,35.09 482.65,35.14 484.54,34.9 486.42,34.66 488.3,34.6" fill="none" stroke="#c83c3c" stroke-width="1.2" stroke-linejoin="round" stroke-dasharray="2.6,1.6"/>
<polyline points="281.3,93.01 283.18,93.2 285.06,93.44 286.95,93.86 288.83,94.17 290.71,94.72 292.59,95.5 294.47,96.36 296.35,97.29 298.24,98.9 300.12,100.46 302,99.65 303.88,96.45 305.76,93.56 307.65,92.88 309.53,92.7 311.41,92.38 313.29,92.31 315.17,92.06 317.05,91.81 318.94,91.35 320.82,91.11 322.7,90.81 324.58,90.66 326.46,90.41 328.35,90.14 330.23,89.96 332.11,89.49 333.99,88.92 335.87,88.26 337.75,87.7 339.64,87.22 341.52,86.98 343.4,86.88 345.28,86.8 347.16,86.48 349.05,86.24 350.93,85.88 352.81,85.93 354.69,85.65 356.57,85.54 358.45,84.9 360.34,84.81 362.22,84.62 364.1,84.61 365.98,84.2 367.86,84.11 369.75,83.97 371.63,83.79 373.51,83.5 375.39,83.25 377.27,83.07 379.15,82.67 381.04,82.39 382.92,82.01 384.8,81.67 386.68,81.04 388.56,80.66 390.45,80.22 392.33,79.98 394.21,79.57 396.09,78.99 397.97,78.72 399.85,78.3 401.74,78.05 403.62,77.63 405.5,77.31 407.38,76.95 409.26,76.42 411.15,76.09 413.03,75.76 414.91,75.58 416.79,75.08 418.67,74.61 420.55,74.11 422.44,73.93 424.32,73.58 426.2,73.32 428.08,72.84 429.96,72.49 431.85,72.29 433.73,71.87 435.61,71.5 437.49,71.08 439.37,70.75 441.25,70.24 443.14,69.77 445.02,69.34 446.9,69.14 448.78,68.82 450.66,68.67 452.55,68.55 454.43,68.21 456.31,67.9 458.19,67.8 460.07,67.69 461.95,67.64 463.84,67.5 465.72,67.42 467.6,67.35 469.48,67.3 471.36,67.14 473.25,67.16 475.13,66.9 477.01,67.11 478.89,66.88 480.77,66.89 482.65,66.72 484.54,66.87 486.42,66.8 488.3,66.7" fill="none" stroke="#4a6ee0" stroke-width="1.2" stroke-linejoin="round" stroke-dasharray="2.6,1.6"/>
<polyline points="281.3,93.06 283.18,93.37 285.06,93.59 286.95,93.88 288.83,94.15 290.71,94.59 292.59,94.81 294.47,95.08 296.35,95.14 298.24,95.41 300.12,95.77 302,96.98 303.88,98.24 305.76,99.34 307.65,100.61 309.53,101.73 311.41,102.17 313.29,102.32 315.17,102.39 317.05,102.75 318.94,102.95 320.82,103.27 322.7,103.4 324.58,103.74 326.46,103.84 328.35,104.01 330.23,104.15 332.11,104.5 333.99,104.77 335.87,104.81 337.75,104.93 339.64,105.1 341.52,105.36 343.4,105.55 345.28,105.71 347.16,105.84 349.05,105.96 350.93,106.07 352.81,106.34 354.69,106.51 356.57,106.73 358.45,106.8 360.34,106.95 362.22,107.11 364.1,107.29 365.98,107.38 367.86,107.52 369.75,107.72 371.63,107.89 373.51,107.94 375.39,108.03 377.27,108.2 379.15,108.47 381.04,108.61 382.92,108.69 384.8,108.74 386.68,108.86 388.56,109.1 390.45,109.4 392.33,109.54 394.21,109.64 396.09,109.61 397.97,109.65 399.85,109.8 401.74,109.96 403.62,110.3 405.5,110.4 407.38,110.55 409.26,110.54 411.15,110.72 413.03,110.9 414.91,111.04 416.79,111.27 418.67,111.4 420.55,111.55 422.44,111.63 424.32,111.81 426.2,111.92 428.08,111.93 429.96,111.88 431.85,111.94 433.73,112.06 435.61,112.15 437.49,112.18 439.37,112.22 441.25,112.33 443.14,112.54 445.02,112.53 446.9,112.46 448.78,112.54 450.66,112.61 452.55,112.75 454.43,112.76 456.31,112.9 458.19,113.09 460.07,113.17 461.95,113.21 463.84,113.17 465.72,113.18 467.6,113.2 469.48,113.3 471.36,113.45 473.25,113.48 475.13,113.48 477.01,113.52 478.89,113.57 480.77,113.68 482.65,113.69 484.54,113.75 486.42,114.01 488.3,114.08" fill="none" stroke="#e8a830" stroke-width="1.2" stroke-linejoin="round" stroke-dasharray="2.6,1.6"/>
<polyline points="281.3,87.28 283.18,86.99 285.06,86.64 286.95,86.28 288.83,85.93 290.71,85.65 292.59,85.48 294.47,85.15 296.35,84.65 298.24,84.43 300.12,84.26 302,85.69 303.88,86.96 305.76,88.28 307.65,89.65 309.53,90.86 311.41,91.04 313.29,90.85 315.17,90.72 317.05,90.74 318.94,90.71 320.82,90.65 322.7,90.72 324.58,90.71 326.46,90.68 328.35,90.6 330.23,90.57 332.11,90.57 333.99,90.44 335.87,90.47 337.75,90.62 339.64,90.7 341.52,90.67 343.4,90.68 345.28,90.7 347.16,90.7 349.05,90.67 350.93,90.54 352.81,90.51 354.69,90.48 356.57,90.62 358.45,90.54 360.34,90.54 362.22,90.67 364.1,90.86 365.98,90.95 367.86,90.96 369.75,90.98 371.63,90.99 373.51,90.98 375.39,91.05 377.27,91.08 379.15,91.27 381.04,91.28 382.92,91.43 384.8,91.41 386.68,91.7 388.56,91.69 390.45,91.91 392.33,91.91 394.21,92.07 396.09,92.1 397.97,92.16 399.85,92.44 401.74,92.52 403.62,92.58 405.5,92.49 407.38,92.57 409.26,92.66 411.15,92.77 413.03,92.89 414.91,93.05 416.79,93.03 418.67,93.12 420.55,93.07 422.44,93.27 424.32,93.2 426.2,93.4 428.08,93.45 429.96,93.61 431.85,93.66 433.73,93.75 435.61,93.9 437.49,93.97 439.37,94.09 441.25,94.07 443.14,94.15 445.02,94.3 446.9,94.45 448.78,94.53 450.66,94.56 452.55,94.5 454.43,94.52 456.31,94.46 458.19,94.64 460.07,94.74 461.95,94.78 463.84,94.87 465.72,94.87 467.6,94.97 469.48,94.96 471.36,95.03 473.25,95.15 475.13,95.15 477.01,95.28 478.89,95.34 480.77,95.32 482.65,95.33 484.54,95.43 486.42,95.51 488.3,95.51" fill="none" stroke="#303030" stroke-width="1.2" stroke-linejoin="round" stroke-dasharray="2.6,1.6"/>
<polyline points="281.3,93.67 283.18,93.58 285.06,93.21 286.95,92.49 288.83,92.1 290.71,92.17 292.59,92.04 294.47,92.37 296.35,92.23 298.24,91.98 300.12,91.62 302,91.25 303.88,91.45 305.76,91.22 307.65,91.09 309.53,90.28 311.41,90.01 313.29,89.44 315.17,89.42 317.05,88.69 318.94,88.63 320.82,88.14 322.7,87.71 324.58,87.18 326.46,87.04 328.35,87.05 330.23,86.62 332.11,86.03 333.99,86.14 335.87,85.96 337.75,86.13 339.64,85.21 341.52,84.96 343.4,84.44 345.28,84.38 347.16,84.06 349.05,83.92 350.93,83.51 352.81,83.37 354.69,83.21 356.57,82.99 358.45,82.45 360.34,81.71 362.22,81.59 364.1,81.72 365.98,81.52 367.86,81.05 369.75,80.52 371.63,80.15 373.51,80.32 375.39,80.03 377.27,79.83 379.15,79.61 381.04,79.7 382.92,79.64 384.8,79.05 386.68,78.38 388.56,77.96 390.45,77.65 392.33,77.41 394.21,77.02 396.09,76.58 397.97,76.15 399.85,75.84 401.74,75.55 403.62,75.37 405.5,74.9 407.38,74.69 409.26,74.01 411.15,73.81 413.03,73.35 414.91,73.4 416.79,73.12 418.67,72.8 420.55,72.29 422.44,71.8 424.32,71.49 426.2,70.95 428.08,70.3 429.96,69.44 431.85,68.53 433.73,67.89 435.61,67.59 437.49,67.1 439.37,66.64 441.25,64.59 443.14,61.84 445.02,58.9 446.9,54.49 448.78,49.46 450.66,44.12 452.55,37.17 454.43,30.22 456.31,28.42 458.19,26.96 460.07,27.21 461.95,26.55 463.84,26.08 465.72,24.99 467.6,24.76 469.48,23.97 471.36,23.65 473.25,23.11 475.13,22.82 477.01,22.23 478.89,21.6 480.77,20.89 482.65,20.39 484.54,20.45 486.42,20.34 488.3,20.05" fill="none" stroke="#1fc8d0" stroke-width="1.2" stroke-linejoin="round" />
<polyline points="281.3,93.22 283.18,93.12 285.06,93.03 286.95,93.07 288.83,93.09 290.71,92.95 292.59,92.65 294.47,92.6 296.35,92.49 298.24,92.44 300.12,92.49 302,92.51 303.88,92.74 305.76,92.64 307.65,92.5 309.53,92.24 311.41,92.07 313.29,91.99 315.17,91.95 317.05,91.83 318.94,91.49 320.82,91.03 322.7,90.88 324.58,90.85 326.46,90.59 328.35,90.26 330.23,89.77 332.11,89.77 333.99,89.29 335.87,88.99 337.75,88.6 339.64,88.34 341.52,88.16 343.4,87.87 345.28,87.53 347.16,87.23 349.05,87.16 350.93,87.23 352.81,87.17 354.69,86.94 356.57,86.66 358.45,86.51 360.34,86.23 362.22,86.04 364.1,85.76 365.98,85.63 367.86,85.39 369.75,85.35 371.63,85 373.51,84.84 375.39,84.49 377.27,84.37 379.15,84.06 381.04,83.8 382.92,83.61 384.8,83.5 386.68,83.51 388.56,83.28 390.45,83.06 392.33,82.7 394.21,82.25 396.09,82.18 397.97,81.91 399.85,81.8 401.74,81.29 403.62,80.94 405.5,80.96 407.38,80.91 409.26,80.74 411.15,80.42 413.03,79.93 414.91,79.73 416.79,79.46 418.67,79.35 420.55,79.1 422.44,78.65 424.32,78.29 426.2,77.81 428.08,77.41 429.96,76.86 431.85,76.53 433.73,76.17 435.61,75.69 437.49,75.07 439.37,74.56 441.25,73.75 443.14,72.79 445.02,71.41 446.9,70.46 448.78,67.78 450.66,63.77 452.55,59.28 454.43,55.19 456.31,52.85 458.19,51.38 460.07,49.86 461.95,48.43 463.84,47.19 465.72,45.82 467.6,44.68 469.48,43.61 471.36,42.87 473.25,42.01 475.13,41.05 477.01,39.93 478.89,39.08 480.77,38.21 482.65,37.65 484.54,36.67 486.42,35.74 488.3,34.92" fill="none" stroke="#c83c3c" stroke-width="1.2" stroke-linejoin="round" />
<polyline points="281.3,92.98 283.18,92.87 285.06,92.82 286.95,92.81 288.83,92.77 290.71,92.68 292.59,92.6 294.47,92.53 296.35,92.48 298.24,92.47 300.12,92.45 302,92.4 303.88,92.23 305.76,92.18 307.65,92.13 309.53,92.12 311.41,92.05 313.29,92.03 315.17,91.98 317.05,91.94 318.94,91.8 320.82,91.66 322.7,91.63 324.58,91.65 326.46,91.7 328.35,91.63 330.23,91.56 332.11,91.47 333.99,91.36 335.87,91.32 337.75,91.31 339.64,91.35 341.52,91.21 343.4,91.06 345.28,91 347.16,91.06 349.05,91.08 350.93,90.96 352.81,90.85 354.69,90.82 356.57,90.81 358.45,90.81 360.34,90.8 362.22,90.74 364.1,90.72 365.98,90.71 367.86,90.76 369.75,90.79 371.63,90.73 373.51,90.65 375.39,90.61 377.27,90.55 379.15,90.49 381.04,90.41 382.92,90.46 384.8,90.53 386.68,90.53 388.56,90.5 390.45,90.49 392.33,90.46 394.21,90.4 396.09,90.31 397.97,90.32 399.85,90.22 401.74,90.18 403.62,90.09 405.5,90.14 407.38,90.1 409.26,90.11 411.15,90 413.03,90 414.91,89.99 416.79,89.85 418.67,89.61 420.55,89.32 422.44,89.09 424.32,88.92 426.2,88.73 428.08,88.53 429.96,88.32 431.85,88.13 433.73,87.9 435.61,87.65 437.49,87.44 439.37,87.18 441.25,86.55 443.14,85.63 445.02,84.77 446.9,83.87 448.78,83.01 450.66,82.16 452.55,81.35 454.43,80.49 456.31,79.68 458.19,78.82 460.07,77.96 461.95,77.07 463.84,76.19 465.72,75.39 467.6,74.48 469.48,73.66 471.36,72.93 473.25,72.38 475.13,71.72 477.01,71.14 478.89,70.57 480.77,70.06 482.65,69.45 484.54,68.86 486.42,68.17 488.3,67.56" fill="none" stroke="#4a6ee0" stroke-width="1.2" stroke-linejoin="round" />
<polyline points="281.3,93.02 283.18,93.1 285.06,93.18 286.95,93.11 288.83,93.1 290.71,93.15 292.59,93.21 294.47,93.25 296.35,93.25 298.24,93.29 300.12,93.39 302,93.5 303.88,93.56 305.76,93.59 307.65,93.63 309.53,93.69 311.41,93.73 313.29,93.75 315.17,93.78 317.05,93.84 318.94,93.93 320.82,93.96 322.7,93.9 324.58,93.91 326.46,93.91 328.35,94 330.23,94.12 332.11,94.2 333.99,94.29 335.87,94.31 337.75,94.4 339.64,94.36 341.52,94.41 343.4,94.44 345.28,94.51 347.16,94.58 349.05,94.75 350.93,94.92 352.81,95.1 354.69,95.18 356.57,95.29 358.45,95.43 360.34,95.57 362.22,95.68 364.1,95.85 365.98,95.99 367.86,96.16 369.75,96.27 371.63,96.42 373.51,96.61 375.39,96.7 377.27,96.83 379.15,96.9 381.04,97.01 382.92,97.12 384.8,97.29 386.68,97.45 388.56,97.59 390.45,97.75 392.33,97.86 394.21,97.99 396.09,98.06 397.97,98.27 399.85,98.39 401.74,98.48 403.62,98.55 405.5,98.76 407.38,98.96 409.26,99.12 411.15,99.2 413.03,99.35 414.91,99.46 416.79,99.62 418.67,99.74 420.55,99.92 422.44,100.04 424.32,100.15 426.2,100.28 428.08,100.4 429.96,100.6 431.85,100.73 433.73,100.9 435.61,100.97 437.49,101.12 439.37,101.21 441.25,101.53 443.14,101.79 445.02,102.07 446.9,102.28 448.78,102.58 450.66,103.16 452.55,104.07 454.43,105 456.31,105.86 458.19,106.83 460.07,107.69 461.95,108.1 463.84,108.49 465.72,108.92 467.6,109.5 469.48,110 471.36,110.38 473.25,110.64 475.13,110.9 477.01,111.27 478.89,111.55 480.77,111.9 482.65,112.17 484.54,112.42 486.42,112.77 488.3,113.05" fill="none" stroke="#e8a830" stroke-width="1.2" stroke-linejoin="round" />
<polyline points="281.3,92.99 283.18,92.98 285.06,92.94 286.95,92.89 288.83,92.71 290.71,92.54 292.59,92.41 294.47,92.34 296.35,92.36 298.24,92.29 300.12,92.23 302,92.03 303.88,91.91 305.76,91.73 307.65,91.66 309.53,91.6 311.41,91.62 313.29,91.56 315.17,91.54 317.05,91.39 318.94,91.35 320.82,91.23 322.7,91.2 324.58,91.09 326.46,90.99 328.35,90.89 330.23,90.79 332.11,90.75 333.99,90.6 335.87,90.54 337.75,90.39 339.64,90.28 341.52,90.31 343.4,90.36 345.28,90.42 347.16,90.29 349.05,90.26 350.93,90.22 352.81,90.27 354.69,90.22 356.57,90.25 358.45,90.19 360.34,90.29 362.22,90.29 364.1,90.24 365.98,90.12 367.86,90.07 369.75,90.05 371.63,90 373.51,89.92 375.39,89.99 377.27,89.99 379.15,89.99 381.04,90.02 382.92,90 384.8,90.01 386.68,89.89 388.56,89.85 390.45,89.85 392.33,89.9 394.21,89.92 396.09,89.86 397.97,89.84 399.85,89.83 401.74,89.82 403.62,89.77 405.5,89.72 407.38,89.71 409.26,89.74 411.15,89.82 413.03,89.79 414.91,89.75 416.79,89.69 418.67,89.71 420.55,89.74 422.44,89.73 424.32,89.8 426.2,89.76 428.08,89.77 429.96,89.61 431.85,89.58 433.73,89.55 435.61,89.6 437.49,89.59 439.37,89.6 441.25,89.6 443.14,89.63 445.02,89.52 446.9,89.5 448.78,89.55 450.66,89.8 452.55,90.27 454.43,90.79 456.31,91.89 458.19,93.45 460.07,94.81 461.95,95.04 463.84,95.15 465.72,95.32 467.6,95.43 469.48,95.59 471.36,95.61 473.25,95.71 475.13,95.72 477.01,95.85 478.89,95.93 480.77,96.04 482.65,96.15 484.54,96.24 486.42,96.34 488.3,96.44" fill="none" stroke="#303030" stroke-width="1.2" stroke-linejoin="round" />
</g>
<rect x="283" y="123.1" width="82.9" height="44.4" rx="1.5" fill="#fff" fill-opacity="1" stroke="#d8d8d8" stroke-width="0.6"/>
<line x1="284.8" y1="128.9" x2="298.5" y2="128.9" stroke="#1fc8d0" stroke-width="1" />
<text x="302.8" y="131.2" font-size="6.78" text-anchor="start" fill="#000" stroke="#000" stroke-width="0.15" textLength="36.63" lengthAdjust="spacingAndGlyphs" >Arctic Ocean</text>
<line x1="284.8" y1="137.3" x2="298.5" y2="137.3" stroke="#c83c3c" stroke-width="1" />
<text x="302.8" y="139.6" font-size="6.78" text-anchor="start" fill="#000" stroke="#000" stroke-width="0.15" textLength="58.69" lengthAdjust="spacingAndGlyphs" >North Atlantic Ocean</text>
<line x1="284.8" y1="145.4" x2="298.5" y2="145.4" stroke="#4a6ee0" stroke-width="1" />
<text x="302.8" y="147.7" font-size="6.78" text-anchor="start" fill="#000" stroke="#000" stroke-width="0.15" textLength="59.77" lengthAdjust="spacingAndGlyphs" >South Atlantic Ocean</text>
<line x1="284.8" y1="154.3" x2="298.5" y2="154.3" stroke="#e8a830" stroke-width="1" />
<text x="302.8" y="156.6" font-size="6.78" text-anchor="start" fill="#000" stroke="#000" stroke-width="0.15" textLength="54.07" lengthAdjust="spacingAndGlyphs" >Indo-Pacific Ocean</text>
<line x1="284.8" y1="163.2" x2="298.5" y2="163.2" stroke="#303030" stroke-width="1" />
<text x="302.8" y="165.5" font-size="6.78" text-anchor="start" fill="#000" stroke="#000" stroke-width="0.15" textLength="46.61" lengthAdjust="spacingAndGlyphs" >Southern Ocean</text>
<rect x="384.6" y="149.2" width="101.2" height="18.4" rx="1.5" fill="#fff" fill-opacity="1" stroke="#d8d8d8" stroke-width="0.6"/>
<line x1="386.4" y1="155" x2="398.4" y2="155" stroke="#000" stroke-width="1" />
<line x1="386.4" y1="163" x2="398.4" y2="163" stroke="#000" stroke-width="1" stroke-dasharray="3,2"/>
<text x="403" y="157.3" font-size="6.78" text-anchor="start" fill="#000" stroke="#000" stroke-width="0.15" textLength="64.02" lengthAdjust="spacingAndGlyphs" >Forward QE (1 - 2200)</text>
<text x="403" y="165.3" font-size="6.78" text-anchor="start" fill="#000" stroke="#000" stroke-width="0.15" textLength="79.32" lengthAdjust="spacingAndGlyphs" >Backward QE (2201 - 4400)</text>
<rect x="281.3" y="14.7" width="207" height="156.3" fill="none" stroke="#3a3a3a" stroke-width="0.9"/>
<line x1="279" y1="171.32" x2="281.3" y2="171.32" stroke="#3a3a3a" stroke-width="0.7" />
<text x="277.2" y="173.92" font-size="7" text-anchor="end" fill="#222" stroke="#222" stroke-width="0.15" textLength="11.2" lengthAdjust="spacingAndGlyphs" >&#8722;80</text>
<line x1="279" y1="151.74" x2="281.3" y2="151.74" stroke="#3a3a3a" stroke-width="0.7" />
<text x="277.2" y="154.34" font-size="7" text-anchor="end" fill="#222" stroke="#222" stroke-width="0.15" textLength="11.2" lengthAdjust="spacingAndGlyphs" >&#8722;60</text>
<line x1="279" y1="132.16" x2="281.3" y2="132.16" stroke="#3a3a3a" stroke-width="0.7" />
<text x="277.2" y="134.76" font-size="7" text-anchor="end" fill="#222" stroke="#222" stroke-width="0.15" textLength="11.2" lengthAdjust="spacingAndGlyphs" >&#8722;40</text>
<line x1="279" y1="112.58" x2="281.3" y2="112.58" stroke="#3a3a3a" stroke-width="0.7" />
<text x="277.2" y="115.18" font-size="7" text-anchor="end" fill="#222" stroke="#222" stroke-width="0.15" textLength="11.2" lengthAdjust="spacingAndGlyphs" >&#8722;20</text>
<line x1="279" y1="93" x2="281.3" y2="93" stroke="#3a3a3a" stroke-width="0.7" />
<text x="277.2" y="95.6" font-size="7" text-anchor="end" fill="#222" stroke="#222" stroke-width="0.15" textLength="3.67" lengthAdjust="spacingAndGlyphs" >0</text>
<line x1="279" y1="73.42" x2="281.3" y2="73.42" stroke="#3a3a3a" stroke-width="0.7" />
<text x="277.2" y="76.02" font-size="7" text-anchor="end" fill="#222" stroke="#222" stroke-width="0.15" textLength="7.34" lengthAdjust="spacingAndGlyphs" >20</text>
<line x1="279" y1="53.84" x2="281.3" y2="53.84" stroke="#3a3a3a" stroke-width="0.7" />
<text x="277.2" y="56.44" font-size="7" text-anchor="end" fill="#222" stroke="#222" stroke-width="0.15" textLength="7.34" lengthAdjust="spacingAndGlyphs" >40</text>
<line x1="279" y1="34.26" x2="281.3" y2="34.26" stroke="#3a3a3a" stroke-width="0.7" />
<text x="277.2" y="36.86" font-size="7" text-anchor="end" fill="#222" stroke="#222" stroke-width="0.15" textLength="7.34" lengthAdjust="spacingAndGlyphs" >60</text>
<line x1="279" y1="14.68" x2="281.3" y2="14.68" stroke="#3a3a3a" stroke-width="0.7" />
<text x="277.2" y="17.28" font-size="7" text-anchor="end" fill="#222" stroke="#222" stroke-width="0.15" textLength="7.34" lengthAdjust="spacingAndGlyphs" >80</text>
<text x="282.31" y="180.8" font-size="7" text-anchor="end" fill="#222" stroke="#222" stroke-width="0.15" textLength="5.5" lengthAdjust="spacingAndGlyphs" >1/</text>
<text x="282.31" y="180.8" font-size="7" text-anchor="start" fill="#ff2a2a" stroke="#ff2a2a" stroke-width="0.15" textLength="14.68" lengthAdjust="spacingAndGlyphs" >4400</text>
<text x="329.26" y="180.8" font-size="7" text-anchor="end" fill="#222" stroke="#222" stroke-width="0.15" textLength="12.84" lengthAdjust="spacingAndGlyphs" >500/</text>
<text x="329.26" y="180.8" font-size="7" text-anchor="start" fill="#ff2a2a" stroke="#ff2a2a" stroke-width="0.15" textLength="14.68" lengthAdjust="spacingAndGlyphs" >3900</text>
<text x="376.31" y="180.8" font-size="7" text-anchor="end" fill="#222" stroke="#222" stroke-width="0.15" textLength="16.51" lengthAdjust="spacingAndGlyphs" >1000/</text>
<text x="376.31" y="180.8" font-size="7" text-anchor="start" fill="#ff2a2a" stroke="#ff2a2a" stroke-width="0.15" textLength="14.68" lengthAdjust="spacingAndGlyphs" >3400</text>
<text x="423.35" y="180.8" font-size="7" text-anchor="end" fill="#222" stroke="#222" stroke-width="0.15" textLength="16.51" lengthAdjust="spacingAndGlyphs" >1500/</text>
<text x="423.35" y="180.8" font-size="7" text-anchor="start" fill="#ff2a2a" stroke="#ff2a2a" stroke-width="0.15" textLength="14.68" lengthAdjust="spacingAndGlyphs" >2900</text>
<text x="470.4" y="180.8" font-size="7" text-anchor="end" fill="#222" stroke="#222" stroke-width="0.15" textLength="16.51" lengthAdjust="spacingAndGlyphs" >2000/</text>
<text x="470.4" y="180.8" font-size="7" text-anchor="start" fill="#ff2a2a" stroke="#ff2a2a" stroke-width="0.15" textLength="14.68" lengthAdjust="spacingAndGlyphs" >2400</text>
<text x="384.8" y="188.9" font-size="6.89" text-anchor="middle" fill="#222" stroke="#222" stroke-width="0.15" textLength="32.1" lengthAdjust="spacingAndGlyphs" >Model year</text>
<text x="261.8" y="92.8" font-size="7.1" text-anchor="middle" fill="#222" stroke="#222" stroke-width="0.15" textLength="100" lengthAdjust="spacingAndGlyphs" transform="rotate(-90 261.8 92.8)" >Dynamic sea-level difference (cm)</text>
<text x="384.8" y="10.6" font-size="8.69" text-anchor="middle" fill="#000" stroke="#000" stroke-width="0.15" textLength="81.66" lengthAdjust="spacingAndGlyphs" >b) DSL over the regions</text>
<clipPath id="clipm0"><path d="M54.5 307.6 50.8 306.4 46.2 304.7 41.4 302.4 37.1 300 33.3 297.4 29.6 294.7 26.2 291.9 23.2 289 20.5 286.1 18.1 283.1 16.2 280.1 14.5 277.1 13.3 274.1 12.5 271.1 11.7 268 11.2 265 10.9 262 10.8 259 10.9 256 11.2 253 11.7 250 12.5 246.9 13.3 243.9 14.5 240.9 16.2 237.9 18.1 234.9 20.5 231.9 23.2 229 26.2 226.1 29.6 223.3 33.3 220.6 37.1 218 41.4 215.6 46.2 213.3 50.8 211.6 54.5 210.4 55.9 210.4 57.3 210.4 58.7 210.4 60.1 210.4 61.5 210.4 62.8 210.4 64.2 210.4 65.6 210.4 67 210.4 68.4 210.4 69.7 210.4 71.1 210.4 72.5 210.4 73.9 210.4 75.3 210.4 76.7 210.4 78 210.4 79.4 210.4 80.8 210.4 82.2 210.4 83.6 210.4 84.9 210.4 86.3 210.4 87.7 210.4 89.1 210.4 90.5 210.4 91.9 210.4 93.2 210.4 94.6 210.4 96 210.4 97.4 210.4 98.8 210.4 100.2 210.4 101.5 210.4 102.9 210.4 104.3 210.4 105.7 210.4 107.1 210.4 108.4 210.4 109.8 210.4 111.2 210.4 112.6 210.4 114 210.4 115.4 210.4 116.7 210.4 118.1 210.4 119.5 210.4 120.9 210.4 122.3 210.4 123.7 210.4 125 210.4 126.4 210.4 127.8 210.4 129.2 210.4 130.6 210.4 131.9 210.4 133.3 210.4 134.7 210.4 136.1 210.4 137.5 210.4 138.9 210.4 140.2 210.4 141.6 210.4 143 210.4 144.4 210.4 145.8 210.4 147.1 210.4 148.5 210.4 149.9 210.4 151.3 210.4 152.7 210.4 154.1 210.4 157.8 211.6 162.4 213.3 167.2 215.6 171.5 218 175.3 220.6 179 223.3 182.4 226.1 185.4 229 188.1 231.9 190.5 234.9 192.4 237.9 194.1 240.9 195.3 243.9 196.1 246.9 196.9 250 197.4 253 197.7 256 197.8 259 197.7 262 197.4 265 196.9 268 196.1 271.1 195.3 274.1 194.1 277.1 192.4 280.1 190.5 283.1 188.1 286.1 185.4 289 182.4 291.9 179 294.7 175.3 297.4 171.5 300 167.2 302.4 162.4 304.7 157.8 306.4 154.1 307.6 152.7 307.6 151.3 307.6 149.9 307.6 148.5 307.6 147.1 307.6 145.8 307.6 144.4 307.6 143 307.6 141.6 307.6 140.2 307.6 138.9 307.6 137.5 307.6 136.1 307.6 134.7 307.6 133.3 307.6 131.9 307.6 130.6 307.6 129.2 307.6 127.8 307.6 126.4 307.6 125 307.6 123.7 307.6 122.3 307.6 120.9 307.6 119.5 307.6 118.1 307.6 116.7 307.6 115.4 307.6 114 307.6 112.6 307.6 111.2 307.6 109.8 307.6 108.4 307.6 107.1 307.6 105.7 307.6 104.3 307.6 102.9 307.6 101.5 307.6 100.2 307.6 98.8 307.6 97.4 307.6 96 307.6 94.6 307.6 93.2 307.6 91.9 307.6 90.5 307.6 89.1 307.6 87.7 307.6 86.3 307.6 84.9 307.6 83.6 307.6 82.2 307.6 80.8 307.6 79.4 307.6 78 307.6 76.7 307.6 75.3 307.6 73.9 307.6 72.5 307.6 71.1 307.6 69.7 307.6 68.4 307.6 67 307.6 65.6 307.6 64.2 307.6 62.8 307.6 61.5 307.6 60.1 307.6 58.7 307.6 57.3 307.6 55.9 307.6Z"/></clipPath>
<g clip-path="url(#clipm0)">
<path d="M191.4 238.7 192.6 238.3 192.1 237.3 190.8 237.3 190.5 238.2Z" fill="#a2cde3"/>
<path d="M166.1 289.6 170.6 288 174.3 288.6 176 287 176.2 286.1 175.6 285.2 173.3 284.1 168.1 285.7 165.8 284.9 161.6 285.9 158.2 284.5 155.7 285.2 153.7 285 151.4 285.4 147.5 284.6 142.8 285.9 141.5 285.7 139.8 284.5 138.2 285 137.2 285.9 136.5 285.9 135.5 284.6 134.8 284.5 130.3 285.6 127 284.2 123.3 285.1 120.6 284.2 118.4 285 113.5 284.5 111.3 285.1 107.9 284.3 106.4 284.6 104.3 286 102.2 284.8 100.8 284.9 98.1 286.1 97.7 287 100.2 288.8 105.7 287.6 109 288.9 111.1 288.3 117.3 288.1 124.7 288.5 128.2 288 132.2 288.5 136.7 287.3 141.1 288.4 144.8 287.6 146.9 288.9 148.2 289.1 153.3 288.5 156.6 287.5 159 288.1 161.4 287.6 166.1 289.6ZM79.2 288.9 81.4 289.2 83.8 288.1 86 288.7 88.6 288.3 94.8 288.9 95.6 288.7 97.1 287 96.8 286.1 95.9 285.5 92.3 284.6 88.1 285.4 85.2 284.7 82.4 285.1 78.8 284.4 76.1 285.1 73.1 284.4 71.8 285.2 71.8 286.1 73.4 287.7 76.9 287.9 78.9 288.7ZM70.3 242.7 71.8 243.2 72.7 242.7 73.7 240.9 73.2 239.2 71.8 238.9 68 239.3 66.6 240 66.4 240.9 66.8 241.4 70.3 242.7ZM17.1 241.8 20.2 240 22.3 240.2 27.1 238 28.6 238 29.8 238.6 31.2 238.2 32.5 236.4 33.4 233.5 31 231.8 29.7 231.8 25 235.4 21.9 236.8 20.7 236.5 19.7 234.8 18.3 234.7 14.6 240.8 17 241.8ZM184.8 242.1 188.2 241.3 192.9 241.7 194.1 241.1 192.6 238.3 191.4 238.7 190.5 238.2 190.8 237.3 192.1 237.3 190.4 234.9 186.9 234 185.1 234.4 184.4 235.5 181.1 234.8 180.4 235.5 179.9 237.8 179.1 237.7 176.9 236.3 177.4 238.2 176.7 240.4 177 241.3 177.8 241.4 178.9 240.4 180.3 240.1 184.1 241.8ZM35.9 236.6 37.8 237.2 38.9 236.4 41.1 233.7 41.8 231.4 41.4 231 39.9 231.2 36.9 232.8 35.5 234.6 35.4 235.5 35.8 236.4Z" fill="#c2ddec"/>
<path d="M165.3 290.5 170.2 289.4 172.9 290.2 176.8 288.9 177.4 289.7 178.8 289.7 183 286.1 183.7 284.3 182 282.9 181.5 281.3 176.7 283.2 176 283.2 174.6 282 170.8 283.6 169 283 161.8 284.3 160.7 283.7 160.1 282 156.8 282.9 155 282.1 151.4 283.8 148.9 282.8 146.2 282.5 142.8 283.9 139.1 282 136.1 282.2 131.4 283.9 127.4 282.2 123.5 284.1 120.3 281.8 117.2 283.3 114.4 282.5 110.1 282.9 106.5 282.5 99.3 283.7 94.3 283.5 90.6 282.8 87.9 283.8 84.9 282.9 82.2 283.7 76.9 282.7 71.4 283.4 70.2 285.2 70.6 287 74 289.4 80.4 290.4 84.1 289.5 91 290.1 95.6 290 97.6 289.5 99.6 290 116.4 289.6 120.3 290 135.1 289.7 138.1 288.9 140.5 289.8 144.1 289.2 146.5 289.9 151 290 156.4 289 158 289.7 162 289.7 165.1 290.5ZM166.1 289.6 161.4 287.6 159 288.1 156.6 287.5 153.3 288.5 148.2 289.1 146.9 288.9 144.8 287.6 141.1 288.4 136.7 287.3 132.2 288.5 128.2 288 124.7 288.5 117.3 288.1 111.1 288.3 109 288.9 105.7 287.6 100.2 288.8 97.7 287 98.1 286.1 100.8 284.9 102.2 284.8 104.3 286 106.4 284.6 107.9 284.3 111.3 285.1 113.5 284.5 118.4 285 120.6 284.2 123.3 285.1 127 284.2 130.3 285.6 134.8 284.5 135.5 284.6 136.5 285.9 137.2 285.9 138.2 285 139.8 284.5 141.5 285.7 142.8 285.9 147.5 284.6 151.4 285.4 153.7 285 155.7 285.2 158.2 284.5 161.6 285.9 165.8 284.9 168.1 285.7 173.3 284.1 175.6 285.2 176.2 286.1 176 287 174.3 288.6 170.6 288 166.1 289.6ZM78.9 288.7 76.9 287.9 73.4 287.7 71.8 286.1 71.8 285.2 73.1 284.4 76.1 285.1 78.8 284.4 82.4 285.1 85.2 284.7 88.1 285.4 92.3 284.6 95.9 285.5 96.8 286.1 97.1 287 95.6 288.7 94.8 288.9 88.6 288.3 86 288.7 83.8 288.1 81.4 289.2 79.2 288.9ZM24.5 289.7 23.8 288.7 22.3 288.1 24 289.9ZM43.3 288.8 43.8 288.6 44.1 287 44.7 286.7 50.2 289 50.2 287.8 51.8 287.1 52 286.1 51.4 285 49.6 284.3 48.7 285.2 48.9 286.8 48.1 286.7 45.8 285.2 39.9 283.6 38.7 283.9 37.9 284.9 35.6 284.6 33.6 286.1 34.6 287.2 36.8 287.4 38.3 286.1 38.3 285.5 43.2 288.7ZM56.4 287.9 58.4 287 58.9 286.1 59.2 283.4 58.6 281.9 57.8 281.6 58 283.4 57.7 284.3 54.8 284.8 55 286.1 56.3 287.8ZM28.5 287.4 29 287.1 28.4 286.1 26.5 284.7 26.1 285.2 28 287ZM65.2 286.2 67.6 286.8 67.8 286.1 65 283.6 64.2 284.3 65 286.1ZM28.9 281.9 29.5 281.7 29.8 280.9 29.4 279.8 28.1 279 26.6 278.9 27.3 280.7 28.3 281.6ZM129.9 275.3 132.2 275.7 132.7 274.4 132.4 273.1 131.7 272.8 130.2 273.5 129.5 274.4 129.8 275.3ZM142.9 274.5 144.6 273.5 145.2 271.7 144.8 271.3 143.1 272.9 142.6 274.4ZM149.6 275.1 151.2 274.4 151.6 272.4 150.1 272.1 149.1 273.3 149 274.4ZM167.9 274.5 168.6 274.7 170.3 274.1 172.4 271.2 176.8 271.9 178.5 271.2 180.1 268.9 180.1 266.4 178.6 266.1 176.6 269 175.8 269.1 175.5 265.3 174.9 264.7 171.8 265 171.1 264.3 170.3 261.7 168.9 260.9 167.3 261.7 164 265.4 160.8 266.3 159.4 264.6 157.8 264.6 155.5 266.2 154.3 268 153.9 269.8 154.2 270.8 155.6 270.6 157.4 268.9 159 268.3 161.1 270.2 163.3 270.4 166.8 272.2 167.8 274.4ZM170.6 268 171 265.4 171.5 268 171.4 268.4 170.6 268.1ZM184 273.7 184.7 273.8 185.7 273.1 187.3 270.8 187.1 270.4 185.6 270.2 184.9 270.8 183.8 273.5ZM57.4 269.1 58.2 269.4 58.9 268.9 59.2 267.1 58.7 266.7 56.9 267.1 57.3 268.9ZM184.6 267.5 185.4 267.6 187.4 266.2 189.8 262.6 189.9 261 185.5 264.4 184.7 265.3 184.5 267.1ZM13 266.3 15.3 266.6 15.4 265.3 14.2 264.2 12.7 264.3 11.7 265.3 12.8 266.2ZM134.5 266.3 135.2 266.9 135.7 266.2 136 265.3 135.3 264.4 134.6 264.7 134.5 266.2ZM36.8 264.7 37.5 264.2 38 262.6 37.4 262 36.6 262 36.1 262.6 36.5 264.4ZM119.1 262.7 120.6 262.5 120.8 261.7 119.9 260.6 118.5 261.7 118.8 262.6ZM147.9 261.8 148.7 261.7 148.7 259.8 147.9 260 147.9 261.7ZM49 260.3 50.5 259.8 50.8 259 50.2 258.1 49 258.1 48.2 258.7 48.2 259.9ZM35.8 255.8 37.3 255.4 37.3 254.5 35.3 253.1 34.9 253.6 35.4 255.4ZM186.9 250.5 187.7 250.6 188.4 250 187.6 246.3 187.9 245.4 191.3 243.5 192.9 243.6 193.6 244.5 194 247.5 194.9 248.1 196.2 247.4 194.1 241.1 192.9 241.7 188.2 241.3 184.8 242.1 180.3 240.1 178.9 240.4 177.8 241.4 177 241.3 176.7 240.4 177.3 239.1 176.9 236.3 179.1 237.7 179.9 237.8 180.4 235.5 181.1 234.8 184.4 235.5 185.1 234.4 186.9 234 190.4 234.9 187.8 231.5 183 230 179.8 230.3 179.4 230.6 180.3 232.8 178.7 233.5 175.7 231.2 175.2 232.4 174 232.8 169.3 231 169.3 233.2 168 234.6 170.4 238.2 167 239.1 166.7 240 167.4 241.8 171.6 243.3 172.8 245.2 175 244.8 177.7 246.6 178.5 246.6 179.1 244.5 180 243.5 182.1 242.9 183.8 244.5 184.3 246.3 186.4 250ZM173.4 241.8 172.1 240 172.4 239.1 173.3 239.5 174 240.9 174.1 241.5 173.4 241.8ZM117.3 247.5 118.7 247.2 118.5 246.3 117.3 246.3 116.9 247.2ZM17.6 244.9 19.9 244.7 29.1 242 30.9 243.3 31.7 243.2 34.6 241.4 36.5 242.3 38.9 241.8 42.1 244 43.8 239.1 44.6 238.2 45.5 238.1 48 239.3 49.7 238.2 50.2 237.3 49.8 235.5 50.1 234.6 52.5 232.8 52.9 231.9 52.9 227.9 52.5 227.6 48.2 228.9 47.7 228.7 47.2 226.7 46.6 226.7 43.7 228.6 38.9 228.7 37.3 227.5 30.8 229.6 30 229.3 30.5 227.7 24.5 230.5 22.9 230.8 23.8 229.3 23.7 228.5 18.3 234.7 20.2 235.1 21.2 236.9 24.8 235.5 29.7 231.8 31 231.8 33 233 33.5 233.7 33.2 234.6 32 237.3 30.6 238.5 27.1 238 22.3 240.2 20.2 240 17.1 241.8 14.6 240.8 13.4 243.8 15.6 243.9 17 244.5ZM35.8 236.4 35.4 235.5 35.5 234.6 36.9 232.8 39.9 231.2 41.4 231 41.8 231.4 41.1 233.7 38.9 236.4 37.8 237.2 35.9 236.6ZM70.9 244.6 72.4 244.8 77.2 242.2 77.7 240.9 77 239.1 76 238.2 74.2 237.8 67.6 237.6 62.7 239.7 61.6 240.9 61.7 241.8 63 242.7 65.7 243.6 68.8 243.3 70.8 244.5ZM70.3 242.7 66.8 241.4 66.4 240.9 66.6 240 68 239.3 71.8 238.9 73.2 239.2 73.7 240.9 72.7 242.7 71.8 243.2 70.3 242.7ZM158.3 244.6 159.2 244.5 159.7 244 159.4 242.9 157.8 241.8 156.9 241.7 156.3 242.7 156.6 243.6 158.1 244.5ZM161.6 239.9 165.2 238.2 163.5 235.5 162 235.5 160.7 237.6 160.9 239.1ZM152.3 236.5 153.3 236.4 153 234.6 151.9 233.8 150.5 233.7 151 235.5 152.1 236.4ZM165.4 233.8 166.4 233.7 166.1 232.8 164 231.3 163.5 231.9 165.3 233.7ZM175.8 229.5 176.7 229.9 177.8 229.6 175.8 228 175 228.4 175.4 229.3ZM32.1 226.7 35.2 224.1 35.4 222.1 33.7 222.5 32.7 223.3 33.3 224.4 32.1 226.7ZM141.1 226.8 141.9 227.1 142 226.7 141 225.3 140.5 225.6 141 226.7Z" fill="#dae9f2"/>
<path d="M25.7 290.8 27.5 290 30 290.5 33.6 290.1 40.1 290.7 41.7 290.3 46.1 290.8 48.3 290.2 52 290.7 53.8 289.4 58 290.8 59.6 290.2 62.7 290.8 66.9 290.1 80.6 291.1 84.4 290.5 91.8 290.9 116.9 290.6 120.1 290.9 142.9 290.3 150.6 290.8 162 290.5 165.4 291.2 169.4 290.4 172.2 291 175.3 290.5 176.8 291 180.3 290.1 181.8 290.6 183.9 290.5 190.9 282.5 193.6 278 195.5 273.5 197.2 266.2 197.8 259.9 197.4 253.6 196.4 248.2 196.2 247.4 194.9 248.1 194 247.5 193.6 244.5 192.9 243.6 191.3 243.5 187.9 245.4 187.6 246.3 188.4 250 187.7 250.6 186.9 250.5 184.3 246.3 183.8 244.5 182.1 242.9 180 243.5 179.1 244.5 178.5 246.6 177.7 246.6 175 244.8 172.8 245.2 171.6 243.3 167.4 241.8 166.7 240 167 239.1 170.4 238.2 168 234.6 169.3 233.2 169.3 231 174 232.8 175.2 232.4 175.7 231.2 178.7 233.5 180.3 232.8 179.4 230.6 179.8 230.3 183 230 187.8 231.5 183 226.7 175.9 221 168.3 221.1 167.1 221.6 163.9 221 162.1 221.5 157.7 220.7 153.8 221.6 153.3 222.3 148.9 220.9 147.9 221 146.9 222 140.1 221 134.7 221 130.8 221.5 128.2 221.1 125.9 221.4 123.4 220.9 123.1 221.8 126.2 223.3 125.9 224.6 124.7 224.9 124.3 225.8 127.4 236.4 127.4 240 126.7 240.8 124.1 240.9 122.3 241.6 118.5 240.6 116.2 240.9 114.9 241.8 114 249.1 114.9 253.6 114.2 256.3 114.6 271.7 114 278.3 113.3 279.8 111.7 279.8 109.4 281 108.1 280.7 106.8 279.8 106.6 278.9 107.1 277.1 106.5 276.8 105.3 277.1 105 278 106 279.8 102.8 281.4 101.4 281.4 99.2 280.4 94.9 281.7 91.2 281.3 87.7 282.1 84.6 281.1 81.9 282.1 75.8 280.9 72.4 282 71.4 281.6 70.4 279.8 68.4 270.8 67 268 66.6 264.4 64.1 259 63.2 254.5 58 249.8 55.1 248.9 53.8 247.2 53.7 246.3 55 240.9 56.4 235.5 58.2 231 58.9 226.9 58.5 226.4 55.4 228.2 55.1 227.5 56.1 225.8 59.3 223.3 60 222.5 59.9 222.1 57.3 220.8 53.7 221.5 50.5 221.1 46.1 221.8 44 221 38.5 221.6 36.6 220.8 32.6 221.1 23.7 228.4 23.8 229.3 22.9 230.8 24.5 230.5 30.5 227.7 30 229.3 30.8 229.6 37.3 227.5 38.9 228.7 43.7 228.6 46.6 226.7 47.2 226.7 47.7 228.7 48.2 228.9 52.5 227.6 52.9 227.9 52.9 231.9 52.5 232.8 50.1 234.6 49.8 235.5 50.2 237.3 48.8 238.9 47.3 239.2 45.5 238.1 44.6 238.2 43.8 239.1 42.1 244 38.9 241.8 36.5 242.3 34.6 241.4 31.7 243.2 30.9 243.3 29.1 242 19.1 244.9 17.6 244.9 15.6 243.9 13.4 243.8 11.6 250.9 10.9 257.2 11.1 263.5 12.2 269.8 13.8 275.3 16.5 280.7 22.1 287.8 24.6 289.6 24 289.9 25.1 290.9ZM165.1 290.5 162 289.7 158 289.7 156.4 289 151 290 146.5 289.9 144.1 289.2 140.5 289.8 138.1 288.9 135.1 289.7 120.3 290 116.4 289.6 99.6 290 97.6 289.5 95.6 290 91 290.1 84.1 289.5 80.4 290.4 74 289.4 70.6 287 70.2 285.2 71.4 283.4 76.9 282.7 82.2 283.7 84.9 282.9 87.9 283.8 90.6 282.8 94.3 283.5 99.3 283.7 106.5 282.5 110.1 282.9 114.4 282.5 117.2 283.3 120.3 281.8 123.5 284.1 127.4 282.2 131.4 283.9 136.1 282.2 139.1 282 142.8 283.9 146.2 282.5 148.9 282.8 151.4 283.8 155 282.1 156.8 282.9 160.1 282 160.7 283.7 161.8 284.3 169 283 170.8 283.6 174.6 282 176 283.2 176.7 283.2 181.5 281.3 182 282.9 183.7 284.3 183 286.1 178.8 289.7 177.4 289.7 176.8 288.9 172.9 290.2 170.2 289.4 165.3 290.5ZM43.2 288.7 38.3 285.5 38.3 286.1 36.8 287.4 34.6 287.2 33.6 286.1 35.6 284.6 37.9 284.9 38.7 283.9 39.9 283.6 45.8 285.2 48.1 286.7 48.9 286.8 48.7 285.2 49.6 284.3 51.4 285 52 286.1 51.8 287.1 50.2 287.8 50.2 289 44.7 286.7 44.1 287 43.8 288.6 43.3 288.8ZM56.3 287.8 55 286.1 54.8 284.8 57.7 284.3 58 283.4 57.8 281.6 58.6 281.9 59.2 283.4 58.9 286.1 58.4 287 56.4 287.9ZM28 287 26.1 285.2 26.5 284.7 28.4 286.1 29 287.1 28.5 287.4ZM65 286.1 64.2 284.3 65 283.6 67.8 286.1 67.6 286.8 65.2 286.2ZM28.3 281.6 27.3 280.7 26.6 278.9 28.1 279 29.4 279.8 29.8 280.9 29.5 281.7 28.9 281.9ZM33.3 280.7 32.9 279.8 33.2 278.7 32.8 277.1 31 274.4 31.5 273.8 32.3 275.3 34.5 277.1 34.6 278.6 33.4 280.7ZM39.6 278 38.9 276 39.5 275.6 41.4 277.1 41.5 278 40.6 278.7ZM49.6 278 48.7 277.1 49.4 276.2 50.2 277.1 50 278.1ZM129.8 275.3 129.5 274.4 130.2 273.5 131.7 272.8 132.4 273.1 132.7 274.4 132.2 275.7 129.9 275.3ZM134.6 274.4 134.7 273 135.5 273 135.9 274.4 135.3 274.7 134.6 274.4ZM142.6 274.4 143.1 272.9 144.8 271.3 145.2 271.7 144.6 273.5 142.9 274.5ZM149 274.4 149.1 273.3 150.1 272.1 151.6 272.4 151.2 274.4 149.6 275.1ZM167.8 274.4 166.8 272.2 163.3 270.4 161.1 270.2 159 268.3 157.4 268.9 155.6 270.6 154.2 270.8 153.9 269.8 154.3 268 155.5 266.2 157.8 264.6 159.4 264.6 160.8 266.3 164 265.4 167.3 261.7 168.9 260.9 170.3 261.7 171.1 264.3 171.8 265 174.9 264.7 175.5 265.3 175.8 269.1 176.6 269 178.6 266.1 180.1 266.4 180.1 268.9 178.5 271.2 176.8 271.9 172.4 271.2 170.3 274.1 168.6 274.7 167.9 274.5ZM183.8 273.5 184.9 270.8 185.6 270.2 187.1 270.4 187.3 270.8 185.7 273.1 184.7 273.8 184 273.7ZM57.3 268.9 56.9 267.1 58.7 266.7 59.2 267.1 58.9 268.9 58.2 269.4 57.4 269.1ZM184.5 267.1 184.7 265.3 185.5 264.4 189.9 261 189.8 262.6 187.4 266.2 185.4 267.6 184.6 267.5ZM12.8 266.2 11.7 265.3 12.7 264.3 14.2 264.2 15.4 265.3 15.3 266.6 13 266.3ZM63.2 266.2 62.4 265.3 63.2 264.3 63.8 265.3 63.3 266.3ZM134.5 266.2 134.6 264.7 135.3 264.4 136 265.3 135.7 266.2 135.2 266.9 134.5 266.3ZM36.5 264.4 36.1 262.6 36.6 262 37.4 262 38 262.6 37.5 264.2 36.8 264.7ZM118.8 262.6 118.5 261.7 119.9 260.6 120.8 261.7 120.6 262.5 119.1 262.7ZM147.9 261.7 147.9 260 148.7 259.8 148.7 261.7 147.9 261.8ZM48.2 259.9 48.2 258.7 49 258.1 50.2 258.1 50.8 259 50.5 259.8 49 260.3ZM130 258.1 130 256.6 130.8 256.3 131.5 258.1 130 258.1ZM35.4 255.4 34.9 253.6 35.3 253.1 37.3 254.5 37.3 255.4 35.8 255.8ZM121.4 253.6 121.6 252.7 122.1 252.4 123.3 252.7 123.6 253.6 122.9 254.1 122.2 254.1ZM116.9 247.2 117.3 246.3 118.5 246.3 118.7 247.2 117.3 247.5ZM158.1 244.5 156.6 243.6 156.3 242.7 156.9 241.7 157.8 241.8 159.4 242.9 159.7 244 159.2 244.5 158.3 244.6ZM160.9 239.1 160.7 237.6 162 235.5 163.5 235.5 165.2 238.2 161.6 239.9ZM152.1 236.4 151 235.5 150.5 233.7 151.9 233.8 153 234.6 153.3 236.4 152.3 236.5ZM165.3 233.7 163.5 231.9 164 231.3 166.1 232.8 166.4 233.7 165.4 233.8ZM175.4 229.3 175 228.4 175.8 228 177.8 229.6 176.7 229.9 175.8 229.5ZM32.1 226.7 33.3 224.4 32.7 223.3 33.7 222.5 35.4 222.1 35.2 224.1 32.1 226.7ZM141 226.7 140.5 225.6 141 225.3 142 226.7 141.9 227.1 141.1 226.8ZM93.8 277.1 95.2 277.1 95.1 276.2 93.8 275.9 93.8 277.1ZM76.4 275.7 77.2 275.4 77.4 274.4 76.8 272.2 76 271.2 74.7 271.7 73.8 273.5 74.3 274.4 75.8 275.3ZM170.6 268.1 171.4 268.4 171.5 268 171 265.4 170.6 268ZM74.8 265.4 76.6 265.3 75.6 264.4 74.9 264.4 74.8 265.3ZM93.4 257.1 94.2 256.7 94.8 255.4 94.2 254 93.4 254 93 254.5 92.7 256.3ZM104.3 249.6 104.9 249.1 104.6 248.2 103.5 247.5 103.7 249.1ZM62.9 247.3 65.2 247.5 67.1 245.4 68.6 244.8 71.4 246.8 73.8 246.1 76 246.5 82 242.7 82.8 240.9 82 239.5 80.4 238.2 75.1 237.1 67.2 236.6 62.2 234.2 61.1 235.5 61.3 237.3 59 240.9 58.4 242.7 59.3 246.1 60.9 245.5 62.9 247.2ZM70.8 244.5 68.8 243.3 65.7 243.6 63 242.7 61.7 241.8 61.6 240.9 62.7 239.7 67.6 237.6 74.2 237.8 76 238.2 77 239.1 77.7 240.9 77.2 242.2 72.4 244.8 70.9 244.6ZM100.5 242.1 102.6 241.8 103.3 240.9 101.3 240.5 100 240.9 100.1 241.8ZM173.4 241.8 174.1 241.5 174 240.9 173.3 239.5 172.4 239.1 172.1 240 173.4 241.8Z" fill="#edf2f5"/>
<path d="M26.7 291.7 30.8 291.9 34.6 291.1 38.7 291.3 42 292 44.2 291.6 47.6 291.8 49.8 291.2 62.6 291.8 70.8 291.2 74.4 292 77.5 291.6 81.6 292 84.6 291.3 92.6 291.8 102.3 291.4 105.6 291.8 116.8 291.3 119.9 291.8 123.3 291.3 141.9 290.9 150.1 291.5 156.8 291.2 158.5 291.7 161.5 291.2 164.7 292 168.7 291.2 171.4 291.8 174.5 291.3 175.7 292 178.3 291.4 180.3 292 183 291.4 183.9 290.5 181.8 290.6 180.3 290.1 176.8 291 175.3 290.5 172.2 291 169.4 290.4 165.4 291.2 162 290.5 150.6 290.8 142.9 290.3 120.1 290.9 116.9 290.6 91.8 290.9 84.4 290.5 80.6 291.1 66.9 290.1 62.7 290.8 59.6 290.2 58 290.8 53.8 289.4 52.8 290.5 51.3 290.7 48.3 290.2 46.1 290.8 41.7 290.3 40.1 290.7 33.6 290.1 30 290.5 27.5 290 25.1 290.9 26.1 291.8ZM71.6 281.8 73.1 282 75.8 280.9 81.9 282.1 84.6 281.1 87.7 282.1 91.2 281.3 95.6 281.6 99.2 280.4 101.4 281.4 102.8 281.4 106 279.8 105 278 105.3 277.1 106.5 276.8 107.1 277.1 106.6 278.9 106.8 279.8 108.1 280.7 109.4 281 111.7 279.8 113.3 279.8 114 278.3 114.6 271.7 114.2 256.3 114.9 253.6 114 249.1 114.9 241.8 116.2 240.9 118.5 240.6 122.3 241.6 124.1 240.9 126.7 240.8 127.4 240 127.4 236.4 124.3 225.8 124.7 224.9 125.9 224.6 126.2 223.3 123.1 221.8 123.4 220.9 125.9 221.4 128.2 221.1 130.8 221.5 134.7 221 140.1 221 146.9 222 147.9 221 148.9 220.9 153.3 222.3 153.8 221.6 157.7 220.7 162.1 221.5 163.9 221 167.1 221.6 168.3 221.1 175.9 221 174.7 220.2 171.6 220.1 166 220.7 156.9 220 151.7 220.7 148.3 220.2 145.2 220.6 137.7 220.1 130.9 220.5 123 220.1 122.2 220.9 122.3 221.7 125 230.2 125 232.8 126.5 237.3 126.3 240 122.2 240.6 118.4 239.9 114.7 240.4 113.3 241.2 107.6 240 105.4 237.3 104.3 236.8 103.6 239.4 99.1 240.1 95.6 240 95.8 241.8 95.2 242.9 92.3 241.6 91.5 241.7 89.1 244 88.4 244.1 86.1 240.9 85.8 240 86.3 239.1 80.2 237.3 68.1 236 67.4 235.5 67.1 234.6 67.9 230.2 66.3 231 63.6 230.8 62.4 230.3 61.6 229.1 59.8 228.7 60.9 225.8 63.7 221.7 63.4 220.7 60.5 220.6 58.1 220 54.6 220.6 51.4 220.2 47.8 220.8 45 220.2 39.6 220.7 37.5 220.1 33.8 220.2 32.6 221.1 36.6 220.8 38.5 221.6 44 221 46.1 221.8 50.5 221.1 53.7 221.5 57.3 220.8 59.9 222.1 60 222.5 59.3 223.3 56.1 225.8 55.1 227.5 55.4 228.2 58.5 226.4 58.9 226.9 58.2 231 56.4 235.5 55 240.9 53.7 246.3 53.8 247.2 55.1 248.9 58 249.8 63.2 254.5 64.1 259 66.3 263.5 67 268 68.4 270.8 70.4 279.8 71.4 281.6ZM93.8 277.1 93.8 275.9 95.1 276.2 95.2 277.1 93.8 277.1ZM75.8 275.3 74.3 274.4 73.8 273.5 74.7 271.7 76 271.2 76.8 272.2 77.4 274.4 77.2 275.4 76.4 275.7ZM100.8 271.7 100.5 270.8 101.1 269.8 102 269.9 102.5 271.7 102 272.3 101.2 272.1ZM70.8 268.9 70.1 268 71.1 267.2 72.4 268 72 268.9 71.2 269.1ZM74.8 265.3 74.9 264.4 75.6 264.4 76.6 265.3 74.8 265.4ZM75.3 261.7 75.5 259.7 76.5 260.8 76.5 261.7 75.5 261.9ZM88.5 259 88.3 257.2 88.7 256.3 89.5 256.1 89.8 256.3 89.7 258.1 88.7 259.2ZM70.3 256.3 69.8 255.4 70.9 254.4 72.2 255.4 72 256.3 70.8 256.5ZM92.7 256.3 93 254.5 93.4 254 94.2 254 94.8 255.4 94.2 256.7 93.4 257.1ZM103.7 249.1 103.5 247.5 104.6 248.2 104.9 249.1 104.3 249.6ZM55.9 248.2 55.1 247.2 56.2 246.3 56.5 247.2 55.9 248.2ZM62.9 247.2 60.9 245.5 59.3 246.1 58.4 242.7 59 240.9 61.3 237.3 61.1 235.5 62.2 234.2 67.2 236.6 75.1 237.1 80.4 238.2 82 239.5 82.8 240.9 82 242.7 76 246.5 73.8 246.1 71.4 246.8 68.6 244.8 67.1 245.4 65.2 247.5 62.9 247.3ZM100.1 241.8 100 240.9 101.3 240.5 103.3 240.9 102.6 241.8 100.5 242.1ZM33.4 280.7 34.6 278.6 34.5 277.1 32.3 275.3 31.5 273.8 31 274.4 32.8 277.1 33.2 278.7 32.9 279.8 33.3 280.7ZM40.6 278.7 41.5 278 41.4 277.1 39.5 275.6 38.9 276 39.6 278ZM50 278.1 50.2 277.1 49.4 276.2 48.7 277.1 49.6 278ZM134.6 274.4 135.3 274.7 135.9 274.4 135.5 273 134.7 273 134.6 274.4ZM63.3 266.3 63.8 265.3 63.2 264.3 62.4 265.3 63.2 266.2ZM130 258.1 131.5 258.1 130.8 256.3 130 256.6 130 258.1ZM122.2 254.1 122.9 254.1 123.6 253.6 123.3 252.7 122.1 252.4 121.6 252.7 121.4 253.6ZM124.3 239.2 124.4 237.3 123.9 236.3 123.2 236.2 123.4 238.2 124.2 239.1ZM113.1 238.2 113.9 238.7 114.6 238.6 114.9 237.3 113.8 236.9 113 237.3 113.1 238.2ZM106.4 233.9 107.1 234 108.1 232.8 106.3 231.9 105.6 232.8 106.3 233.7Z" fill="#f9f0eb"/>
<path d="M129.1 301.5 130.1 301 130.8 299.7 130.3 299.5 129.1 301ZM74.9 297.7 75.3 297.4 75.8 295 76.8 294.4 78.8 296 80.1 296.2 82.8 295.4 87.3 296.1 89.5 295.2 94 296.4 95.7 295.7 98.9 296.6 101.9 295.8 104.3 296.5 106.8 295.2 109.7 296.8 112.9 295.8 114.6 296.1 116.5 295.6 118.9 296.1 121.1 294.8 120.9 295.5 122.4 296.4 125.1 295.6 129.3 295.8 130.2 295.5 130.3 293 131.4 292.5 134.2 292 136.6 292.4 140.9 291.6 147.2 291.9 148.3 292.2 148.3 293 146.2 294.4 142.3 294.6 140.5 295.5 139.9 296.4 144.5 295.9 146.1 296.9 150.8 295.7 151.7 296 152.1 296.9 155.3 295.4 156.4 296.8 157 296.8 161.1 295.2 161.8 295.7 161.8 296.8 165.9 295.3 167.6 296.4 171.3 295.9 172 296.8 172.6 296.8 175.1 295.8 177 296.2 183 291.4 180.3 292 178.3 291.4 175.7 292 174.5 291.3 171.4 291.8 168.7 291.2 164.7 292 161.5 291.2 158.5 291.7 156.8 291.2 150.1 291.5 141.9 290.9 123.3 291.3 119.9 291.8 116.8 291.3 105.6 291.8 102.3 291.4 92.6 291.8 84.6 291.3 81.6 292 77.5 291.6 74.4 292 70.8 291.2 62.6 291.8 49.8 291.2 47.6 291.8 44.2 291.6 42 292 38.7 291.3 34.6 291.1 30.8 291.9 26.1 291.8 31.4 296 33.2 296 35.5 294.9 38.6 296 45.5 296.8 46.9 295.8 49.2 295.6 49.3 294.7 50 294.6 54.6 296.2 57.5 296 60.3 296.5 61.7 296 64.3 296.2 64.8 295.5 64.2 293.9 65 293.6 67.9 296.1 69.9 296.4 71.3 295.7 74 297.1ZM87.9 293.9 88.4 293 89.3 293.9 88.7 294.5ZM154.6 293.9 154.8 293 156.2 292.2 156.2 293 154.7 294ZM159.9 293 160.5 292.2 162 292.2 161.5 293.4 160.3 293.4ZM133.8 296.5 134.9 296.7 139.1 295.5 137.9 293.6 136.7 293.4 133.1 294.7 132.8 295.5 133.7 296.3ZM101.2 272.1 102 272.3 102.5 271.7 102 269.9 101.1 269.8 100.5 270.8 100.8 271.7ZM71.2 269.1 72 268.9 72.4 268 71.1 267.2 70.1 268 70.8 268.9ZM75.5 261.9 76.5 261.7 76.5 260.8 75.5 259.7 75.3 261.7ZM88.7 259.2 89.7 258.1 89.8 256.3 89.5 256.1 88.7 256.3 88.3 257.2 88.5 259ZM70.8 256.5 72 256.3 72.2 255.4 70.9 254.4 69.8 255.4 70.3 256.3ZM55.9 248.2 56.5 247.2 56.2 246.3 55.1 247.2 55.9 248.2ZM88.4 244.1 89.1 244 91.5 241.7 92.3 241.6 95.2 242.9 95.8 241.8 95.6 240 99.1 240.1 103.6 239.4 104.3 236.8 105.4 237.3 107.6 240 113.3 241.2 114.7 240.4 118.4 239.9 122.2 240.6 126.3 240 126.5 237.3 125 232.8 125 230.2 122.3 221.7 122.2 220.9 123 220.1 130.9 220.5 137.7 220.1 145.2 220.6 148.3 220.2 151.7 220.7 156.9 220 165.4 220.7 171.1 220.1 174.7 220.2 173.7 219.5 170.2 219.4 164.5 219.9 156.3 219.4 152.1 219.8 122.3 219.6 121.5 221.7 124.2 230.2 123.7 231 121.1 232 118.2 231.6 104.3 231.5 103.6 238.3 102.8 239.1 99.1 239.5 96.9 239 91 238.9 80.2 236.8 68.6 235.5 67.9 234.6 69.1 230.2 68.8 228.1 64.5 228.7 61.6 226.8 61.9 225.2 64.6 220.9 64.1 219.8 53.4 219.4 48.7 220.1 43 219.5 40 220 38.4 219.5 34.8 219.5 33.8 220.2 37.5 220.1 39.6 220.7 45 220.2 47.8 220.8 51.4 220.2 54.6 220.6 58.1 220 60.5 220.6 63.4 220.7 63.7 221.7 60.9 225.8 59.8 228.7 61.6 229.1 62.4 230.3 63.6 230.8 66.3 231 67.9 230.2 67.1 234.6 67.4 235.5 68.1 236 80.2 237.3 86.3 239.1 85.8 240 86.1 240.9 87.9 243.6ZM124.2 239.1 123.4 238.2 123.2 236.2 123.9 236.3 124.4 237.3 124.3 239.2ZM113.1 238.2 113 237.3 113.8 236.9 114.9 237.3 114.6 238.6 113.9 238.7 113.1 238.2ZM106.3 233.7 105.6 232.8 106.3 231.9 108.1 232.8 107.1 234 106.4 233.9Z" fill="#fce2d2"/>
<path d="M55 307.6 154.1 307.6 160 305.6 167.2 302.4 177 296.2 175.1 295.8 172 296.8 171.3 295.9 168.1 296.5 165.9 295.3 161.8 296.8 161.8 295.7 161.1 295.2 157 296.8 156.4 296.8 155.3 295.4 152.1 296.9 151.7 296 150.8 295.7 146.1 296.9 144.5 295.9 139.9 296.4 140.5 295.5 142.3 294.6 146.2 294.4 148.3 293 148.3 292.2 147.2 291.9 140.9 291.6 136.6 292.4 132.4 292.2 130.3 293 130 295.7 125.1 295.6 122.4 296.4 120.9 295.5 121.1 294.8 118.9 296.1 116.5 295.6 114.6 296.1 112.9 295.8 109.7 296.8 106.8 295.2 104.3 296.5 101.9 295.8 98.9 296.6 95.7 295.7 94 296.4 89.5 295.2 87.3 296.1 82.8 295.4 80.1 296.2 78.8 296 76.8 294.4 75.8 295 75.3 297.4 74.9 297.7 71.3 295.7 69.9 296.4 67.9 296.1 65 293.6 64.2 293.9 64.8 295.5 64.3 296.2 61.7 296 60.3 296.5 57.5 296 54.6 296.2 50 294.6 49.3 294.7 49.2 295.6 46.9 295.8 45.5 296.8 38.6 296 35.5 294.9 33.2 296 31.4 296 41.4 302.4 48.6 305.6 54.5 307.6ZM74.6 307 72.6 305.8 74.2 306.1 75.5 307.1 75.1 307.1ZM113.2 307 113.8 306.1 115.3 305.8 115 306.6 113.3 307ZM60.3 306.1 57 304.5 59 305.1 60.5 306.2ZM63.9 306.1 56.8 303.1 56.3 302.2 62.3 304.4 65.2 306.3 64.1 306.2ZM98.5 303.1 98.4 301.8 99.4 301.4 100 302.4 98.7 303.2ZM84 302.4 83.8 301.7 84.5 301.7 85.3 303.1 84.8 303.1ZM89.6 301.7 88.9 301 88.2 298.9 89.9 298.8 90.8 299.5 91.3 301.2 89.9 301.8ZM50.7 301 48.2 299.5 47.9 298.8 49.3 298.7 51.9 301 50.8 301ZM72.4 301 71.2 299.1 72.4 298.4 73.5 300.8 72.7 301.1ZM129.1 301 130.3 299.5 130.8 299.7 130.1 301 129.1 301.5ZM148.4 301 148.7 300.2 153.8 297.6 152.5 299.9 148.5 301.1ZM102.2 300.2 102.2 299.5 103.2 299.4 103.4 300.2 102.6 300.5ZM147.7 298.7 147.8 297.9 149.7 297.1 149.5 297.9 147.9 298.9ZM133.7 296.3 132.8 295.5 133.1 294.7 136.7 293.4 137.9 293.6 139.1 295.5 134.9 296.7 133.8 296.5ZM88.7 294.5 89.3 293.9 88.4 293 87.9 293.9ZM154.7 294 156.2 293 156.2 292.2 154.8 293 154.6 293.9ZM160.3 293.4 161.5 293.4 162 292.2 160.5 292.2 159.9 293ZM93.9 239.1 96.9 239 99.1 239.5 102.8 239.1 103.8 237.3 104.3 231.5 118.2 231.6 121.1 232 123.7 231 124.2 230.2 121.5 221.7 122.3 219.6 152.1 219.8 156.3 219.4 164.5 219.9 166.8 219.5 173.7 219.5 172.7 218.8 166.8 218.6 163.6 219.2 144.1 218.7 142.2 219.1 135.1 218.8 131.4 219.2 122.1 219 120.8 220.4 120.4 222.5 122.6 230.2 120.2 231.1 104.3 230.8 103.6 231.9 103.7 235.5 103.1 238.2 99.1 238.9 96.9 238.3 91.8 238.3 80.3 236.3 70.4 235.4 69.1 235 68.8 233.7 69.7 231 69.9 227.3 69.4 227 65.8 227.5 62.9 225.7 63.3 224.1 65.6 220.9 65.4 219.7 64.7 219.1 54.8 218.7 48.9 219.3 44.1 218.6 41 219.2 35.9 218.8 34.8 219.5 38.4 219.5 40 220 43 219.5 48.7 220.1 53.4 219.4 64.1 219.8 64.6 220.9 61.9 225.2 61.6 226.8 64.5 228.7 68.8 228.1 69.1 230.2 67.9 234.6 68.6 235.5 80.2 236.8 93.4 239.1Z" fill="#fbccb4"/>
<path d="M75.1 307.1 75.5 307.1 74.2 306.1 72.6 305.8 74.6 307ZM113.3 307 115 306.6 115.3 305.8 113.8 306.1 113.2 307ZM60.5 306.2 59 305.1 57 304.5 60.3 306.1ZM64.1 306.2 65.2 306.3 62.3 304.4 56.3 302.2 56.8 303.1 63.9 306.1ZM98.7 303.2 100 302.4 99.4 301.4 98.4 301.8 98.5 303.1ZM84.8 303.1 85.3 303.1 84.5 301.7 83.8 301.7 84 302.4ZM89.9 301.8 91.3 301.2 90.8 299.5 89.9 298.8 88.2 298.9 88.9 301 89.6 301.7ZM50.8 301 51.9 301 49.3 298.7 47.9 298.8 48.2 299.5 50.7 301ZM72.7 301.1 73.5 300.8 72.4 298.4 71.2 299.1 72.4 301ZM148.5 301.1 152.5 299.9 153.8 297.6 148.7 300.2 148.4 301ZM102.6 300.5 103.4 300.2 103.2 299.4 102.2 299.5 102.2 300.2ZM147.9 298.9 149.5 297.9 149.7 297.1 147.8 297.9 147.7 298.7ZM91.8 238.3 96.9 238.3 99.1 238.9 102.8 238.5 103.7 235.5 103.6 231.9 104.3 230.8 120.2 231.1 122.2 230.4 122.6 230.2 121.8 226.7 120.4 222.5 120.8 220.4 122.1 219 131.4 219.2 135.1 218.8 142.2 219.1 144.1 218.7 163.6 219.2 166.8 218.6 172.7 218.8 171.4 218 165.5 217.7 162 218.4 158.1 218.1 151.2 218.4 148.5 218 146.1 218.4 143.3 217.8 141.6 218.4 134.6 218.1 131.6 218.7 128.5 218.2 121.8 218.4 119.9 219.6 119.3 221.7 119.8 227.5 121 230.2 115.3 230.7 104.3 230.4 103.4 231 103.1 231.9 103.3 235.5 102.8 237.9 99.9 238.3 97 237.4 91.1 237.6 80.4 235.7 69.9 234.7 69.6 233.7 70.4 231 70.8 226.8 69.9 226 66.4 226.4 64.2 225 64.7 223.3 67.4 220.9 67.4 220 65 218.1 55.8 217.8 49.4 218.5 45 217.6 42.3 218.3 37.2 218 35.9 218.8 41 219.2 44.1 218.6 48.9 219.3 54.8 218.7 64.7 219.1 65.4 219.7 65.6 220.9 63.3 224.1 62.9 225.7 65.8 227.5 69.4 227 69.9 227.3 69.7 231 68.8 233.7 69.1 235 91.4 238.2ZM99.2 236.5 100.5 235.5 100.2 234.6 99.2 234.6 98.3 235.5 98.6 236.4Z" fill="#f6b394"/>
<path d="M99.1 238.2 102.8 237.9 103.3 235.5 103.1 231.9 103.4 231 104.3 230.4 115.3 230.7 121 230.2 119.8 227.5 119.3 221.7 119.9 219.6 121.8 218.4 128.5 218.2 131.6 218.7 134.6 218.1 141.6 218.4 143.3 217.8 146.1 218.4 148.5 218 151.2 218.4 158.1 218.1 162 218.4 165.5 217.7 171.4 218 162.9 213.6 154.1 210.4 121.7 210.4 122.2 211 121.5 211.4 121.8 211.9 123.7 213.4 123.4 211.4 126.6 210.6 129.5 211.4 130 211.4 129.6 210.6 130 210.6 133.9 211.1 136.2 212 135.3 211 135.9 211 143.8 213.2 144.2 212.4 142.7 211.2 143.1 211.1 155.6 214.9 159.7 217.2 157.4 217 153.4 215.8 154.9 217 154.6 217.4 152.5 217 150.3 215.9 150.7 217 150 217.3 146.4 216.1 145.7 216.3 146 217 145.2 217.5 141.7 216.7 140.1 217.4 133.9 217.1 131.7 218 128.4 217 126.6 217.8 124 217.2 121.4 217.4 120.6 218.1 119.1 217.8 118.5 218.5 117.4 223.5 116.8 223.8 114.1 223.3 114.7 226.1 115.5 227.2 117.6 227.7 118.4 229.3 117.9 229.6 116.3 230.2 113.7 230.2 111 227.8 109.7 228.2 109.1 229.5 107.7 229.9 106.3 229.5 105 228.1 104.3 228.2 102.9 230.3 101.5 231.1 100.1 232.9 97.2 233.8 95.1 233.7 93.7 234.6 93.1 236.4 91.2 236.8 82.6 235.6 80.6 234.7 77.7 234.8 76.6 234.6 75.8 233.9 73.6 234.4 70.9 233.6 71.6 229.3 71.5 225.3 71.3 224.6 70.7 224.5 68.2 225.5 66.7 225 66.3 224.1 66.5 223.3 69 220.9 68.4 218.8 67 218.4 66.9 217.8 68.9 215.6 76.4 210.4 54.5 210.4 45.7 213.6 37.2 218 42.3 218.3 45.5 217.6 49.4 218.5 55.8 217.8 65 218.1 67.4 220 67.4 220.9 64.7 223.3 64.2 225 66.4 226.4 69.9 226 70.8 226.8 70.4 231 69.6 233.7 69.9 234.7 80.4 235.7 91.1 237.6 97 237.4 99 238.2ZM98.6 236.4 98.3 235.5 99.2 234.6 100.2 234.6 100.5 235.5 99.2 236.5ZM106.3 227.3 107.6 226.9 109.5 223.3 109.3 221.7 108.5 220.8 107.3 223.3 105.9 225 105.9 226.7ZM85.4 224.2 86.7 223.3 86.9 222.5 86.2 221.6 84.5 222.5 84.3 223.3 85 224.1ZM104.3 223.4 105.1 222.5 105 220.9 104.3 219.3 103.7 219.2 102.6 220.1 102.5 220.9 104.1 223.3ZM71.6 222.8 73.5 221.7 74.1 220.9 73.8 220.1 72.1 220.9 71.5 221.7 71.6 222.5ZM89.7 221.9 91 221.7 91.4 220.9 91 219.4 90.3 219.3 89.4 220.1 89.5 221.7ZM97.7 221 98.3 221.4 98.9 221 99.1 219.6 98.5 219.5 97.9 220 97.7 220.9ZM79.6 217.2 80 217.4 81.3 216.3 81.5 214.9 83.7 211.6 82.3 212.4 80.1 214.9 79.6 217ZM90.7 214.4 91.9 213.6 92.4 212.1 90.8 212.4 90.3 214.2ZM86.7 213.7 87.3 213.6 87.7 211.9 90.1 210.4 88.7 210.4 86.6 211.4 86.6 213.6ZM97.9 212.2 98.8 212.1 100.6 210.7 98.4 210.7 97.5 211.9ZM117.8 211.1 119.3 210.9 119.7 210.4 117 210.4 117.7 211Z" fill="#ec9374"/>
<path d="M88.3 236.4 92.7 236.6 93.7 234.6 95.1 233.7 97.2 233.8 100.1 232.9 101.5 231.1 102.9 230.3 104.3 228.2 105 228.1 106.3 229.5 107.7 229.9 109.1 229.5 109.7 228.2 111 227.8 113.7 230.2 116.3 230.2 117.9 229.6 118.4 229.3 117.6 227.7 115.5 227.2 114.7 226.1 114.1 223.3 116.8 223.8 117.4 223.5 118.5 218.5 119.1 217.8 120.6 218.1 121.4 217.4 124 217.2 126.6 217.8 128.4 217 131.7 218 133.9 217.1 140.1 217.4 141.7 216.7 145.2 217.5 146 217 145.7 216.3 146.4 216.1 150 217.3 150.7 217 150.3 215.9 152.5 217 154.6 217.4 154.9 217 153.4 215.8 158 217.2 159.4 217.4 159.7 217 155.6 214.9 143.1 211.1 142.7 211.2 144.2 212.4 143.8 213.2 135.9 211 135.3 211 136.2 212 133.9 211.1 130 210.6 129.6 210.6 130 211.4 129.5 211.4 126.6 210.6 123.4 211.4 123.7 213.4 121.8 211.9 121.5 211.4 122.2 211 121.7 210.4 119.7 210.4 119.3 210.9 117.8 211.1 117 210.4 94.4 210.4 94.1 210.8 94.3 210.4 90.1 210.4 87.7 211.9 87.1 213.7 86.6 213.6 86.6 211.4 88.7 210.4 76.4 210.4 67.3 217 67 218.4 68.4 218.8 69 220.9 66.5 223.3 66.3 224.1 67.1 225.2 68.2 225.5 71.3 224.6 71.7 226.7 70.9 233.6 73.6 234.4 75.8 233.9 77.1 234.7 80.6 234.7 82.3 235.5 88.1 236.4ZM86.8 232.8 85.5 231.9 83.3 232 81.7 230.1 79.8 229.6 80.5 227.5 82.1 226.4 84.8 226 87.7 224.9 90.7 225.6 93.4 225 94 225.2 95 227.5 97.3 228.4 96.9 230.2 92.3 233.3 91.5 233.4 90.2 232.7 87.3 233.2ZM72.9 226.7 72.6 224.1 73.6 222.5 76.2 220.1 76.9 219.9 78.9 220.4 75.7 225.8 73.3 227.2ZM98.2 226.7 98.6 224.8 99.9 224.2 100.5 225 100.2 226.7 99.7 227.1 98.4 227ZM105.9 226.7 105.9 225 107.3 223.3 108.5 220.8 109.3 221.7 109.5 223.3 107.6 226.9 106.3 227.3ZM85 224.1 84.3 223.3 84.5 222.5 86.2 221.6 86.9 222.5 86.7 223.3 85.4 224.2ZM104.1 223.3 102.5 220.9 102.6 220.1 103.7 219.2 104.3 219.3 105 220.9 105.1 222.5 104.3 223.4ZM71.6 222.5 71.5 221.7 72.1 220.9 73.8 220.1 74.1 220.9 73.5 221.7 71.6 222.8ZM89.5 221.7 89.4 220.1 90.3 219.3 91 219.4 91.4 220.9 91 221.7 89.7 221.9ZM97.7 220.9 97.9 220 98.5 219.5 99.1 219.6 98.9 221 98.3 221.4 97.7 221ZM69.9 218.5 69.8 217.8 70.5 217 74.7 215.2 74.7 216.5 77.2 216.7 77.1 217.8 75.8 218.8 72.7 219.2 70.1 218.8ZM79.6 217 80.1 214.9 82.3 212.4 83.7 211.6 81.5 214.9 81.3 216.3 80 217.4 79.6 217.2ZM109 216.3 108.7 214.2 109.7 213.9 110.3 214.4 110.6 215.6 109.7 216.9 109.1 216.5ZM113.3 215.6 113.3 214.2 114.8 213.6 114.5 211.5 117.5 211.9 119 213.6 119.4 215.3 119 215.7 118 215.6 115.9 214.3 115.4 214.5 115.4 215.7 113.9 216.2ZM90.3 214.2 90.8 212.4 92.4 212.1 91.9 213.6 90.7 214.4ZM97.5 211.9 98.4 210.7 100.6 210.7 98.8 212.1 97.9 212.2Z" fill="#dd7059"/>
<path d="M87.3 233.2 90.2 232.7 91.5 233.4 92.3 233.3 96.9 230.2 97.3 228.4 95 227.5 94 225.2 93.4 225 90.7 225.6 87.7 224.9 84.8 226 82.1 226.4 80.5 227.5 79.8 229.6 81.7 230.1 83.3 232 85.5 231.9 86.8 232.8ZM73.3 227.2 75.7 225.8 78.9 220.4 76.9 219.9 76.2 220.1 73.6 222.5 72.6 224.1 72.9 226.7ZM73.9 224.1 74.8 222.6 75.4 222.5 74.8 224.1 73.9 224.4ZM98.4 227 99.7 227.1 100.2 226.7 100.5 225 99.9 224.2 98.6 224.8 98.2 226.7ZM70.1 218.8 72.7 219.2 75.8 218.8 77.1 217.8 77.2 216.7 74.7 216.5 74.7 215.2 70.5 217 69.8 217.8 69.9 218.5ZM109.1 216.5 109.7 216.9 110.6 215.6 110.3 214.4 109.7 213.9 108.7 214.2 109 216.3ZM113.9 216.2 115.4 215.7 115.4 214.5 115.9 214.3 118 215.6 119 215.7 119.4 215.3 119 213.6 117.5 211.9 114.5 211.5 114.8 213.6 113.3 214.2 113.3 215.6Z" fill="#cc4c44"/>
<path d="M73.9 224.4 74.8 224.1 75.4 222.5 74.8 222.6 73.9 224.1Z" fill="#ba2832"/>
<path d="M38.4 220.3 41.6 218.8 42.9 218.4 44.2 218.1 45.5 217.7 46.8 217.4 47.4 217.5 48 217.6 48.6 217.8 49.3 217.9 50.1 218 50.8 218.1 51.5 218.2 52.1 218.3 52.7 218.4 53.3 218.5 54.4 218.3 55.5 218.2 56.5 218 57.2 218.1 57.9 218.2 58.7 218.3 59.4 218.4 60.1 218.5 60.8 218.6 61.6 218.8 62.3 218.9 63 219 63.8 219 64.5 219.1 65.3 219.1 66 219.1 66.8 219.1 69.3 217.5 69.7 218.1 70.1 218.8 71.3 218.5 72.4 218.3 72.6 219.5 71.3 220.3 70 221.1 68.9 221.7 67.7 222.2 66.5 222.7 65.3 223.3 64.9 225 65.7 225.3 66.6 225.6 67.5 225.9 68 227.5 69.1 228.1 69.9 226.8 70.8 225.5 71.6 224.4 72.4 223.3 72.7 221.9 73.4 222.1 74.1 222.3 74.9 222.5 75.2 223.9 76.3 223.5 77.4 223.1 77.6 224.3 77.9 225.5 78.6 226.7 79.4 227.8 78.3 228.4 77.3 229 76 229.3 74.8 229.6 74.5 231 76 231.6 74.7 232.1 73.4 232.5 72.4 232.8 71.3 233.1 71.1 233.9 70 234.2 69 234.6 67.6 236.1 67.1 237.9 65.6 239 64.1 240 64.1 241.4 64.1 242.7 63.6 243.8 62.9 242.1 62.4 240.9 61.2 240.9 59.9 240.8 58.7 241 57.4 241.2 55.1 243.3 54.9 244.5 54.7 245.7 55.5 247.7 56.6 247.7 57.8 247.7 58.2 246.3 60 246 59.6 247.7 59.1 249.4 60.1 249.5 61.1 249.7 61.1 251 61.2 252.4 62.1 253.6 63.4 253.4 64.2 253.9 64.3 254.1 62.9 254.6 61.3 254 59.9 252.1 58.9 251 58 250.6 57 250.3 56 249.9 55 249.5 54 249.1 53 248.8 51.8 247.7 50.5 246.6 51 245.4 50.1 244.5 49.3 243.6 48.7 242.4 48.1 241.2 47.5 240 47.7 241.4 48 242.7 48.5 245 47.7 244.1 46.6 242.1 46.5 240.8 46.5 239.4 45.2 238.2 45 236.4 45.1 234.6 45.7 233.1 47.1 231 47.5 229.9 48.5 229.6 47.7 229 47 228.4 47.7 226.4 47.6 224.7 47.2 224.3 46.7 223.9 45.8 223.3 45 223.1 44.2 222.9 42.7 223.2 41.2 223.6 38.9 224.7 37.8 225 36.6 225.3 35.2 225.7 33.8 226.1 36.1 225.1 38.4 224 37.6 223.8 36.8 223.6 36.5 222.7 38.2 221.4 39.3 221.1 40.4 220.9 39.3 220.9 38.3 220.9ZM64.3 254 65.3 252.7 67.1 251.8 68.1 252.2 69.2 252.7 70.5 252.6 71.7 252.6 73.2 253.9 74.7 255.4 76 255.7 77.3 256 78.3 257.9 79.1 259.6 80.3 260.1 81.5 260.5 82.8 260.8 84.1 261.1 85.1 261.7 86.1 262.3 86.2 264.4 85.3 265.6 84.5 266.8 84.4 268.2 84.3 269.5 83.7 271.7 82 272.9 81 273.6 80.1 274.4 79.9 276.2 79.1 277.7 78.4 279.2 77.4 280.1 75.8 279.8 76.6 281.3 75.5 281.9 74.5 282.5 74.5 283.7 73.5 284.3 74.3 286.1 73.2 287 74.4 287.8 73.4 289.6 74 290.5 75.5 291.9 73.9 291.9 72.6 291 71.2 290.2 70.5 289 69.8 287.8 69.7 286.5 69.5 285.2 69.2 283.9 68.9 282.6 68.6 281.3 68.6 279.9 68.6 278.5 68.6 277.1 68.5 275.7 68.4 274.3 68.4 272.9 68.4 271.5 68.3 270.1 66.8 268.8 65.2 267.4 64.5 266 63.8 264.6 63.1 263.2 62.2 262 62.8 260.2 62.8 258.4 63.5 257.5 64.1 255.4ZM83 214.2 84 213.7 85 213.3 86 212.9 86.7 212.9 87.5 212.9 88.2 212.8 88.9 212.8 89.6 212.7 90.3 212.7 91 212.6 91.7 212.6 92.4 212.6 93 212.5 93.7 212.5 94.4 212.4 95 212.4 95.6 212.7 96.2 213 96.8 213.3 97.5 213.7 97.9 214.6 97 215.7 95.8 217.5 94.7 217.8 93.5 218.2 92.4 218.8 91.2 219.5 90 220.2 88.6 221.2 87.2 222.2 86.5 223 85.7 222.6 85 222.1 84.1 220.9 84 219.2 83.7 218.2 83.5 217.2 83.5 215.3 83.2 214.7ZM101.6 237.3 99.9 236.7 100 235.1 100.1 233.4 100.5 232.7 101.6 232.8 102.6 232.8 103.6 232.9 103.7 231.3 102.2 230.2 103.6 229.7 105 229 106.1 228.1 106.7 227.2 108 226.8 107.9 225 108.8 224.6 108.7 226.6 109.5 226.6 110.4 226.7 111.5 226.5 112.6 226.4 113.3 225 114.1 223.6 115 223.5 115.9 223.4 116.7 223.3 115.9 223.2 115.1 223.2 114.2 223.1 113.4 223 113 221.7 113.7 221.1 114.4 220.6 112.9 220.2 112.2 221 111.4 221.9 112 223.3 111.3 225 109.9 225.8 108.9 224 107.7 224.4 106.6 223.9 106.3 222.2 107.3 221.7 108.3 221.1 109 220.2 109.7 219.3 110.5 218.6 111.4 218 112.2 217.8 112.9 217.7 113.7 217.5 114.8 217.8 115.9 218 116.7 218.3 117.5 218.5 118.4 218.8 119.2 219 120 219.3 119.2 219.5 118.3 219.8 119.1 219.9 119.9 220.1 120.7 219.9 121.4 219.8 121 218.8 121.9 218.8 122.8 218.8 123.7 218.8 124.6 218.8 125.4 218.7 126.3 218.6 127.1 218.1 128.1 218.3 129.1 218.5 130.1 218.8 129.7 217.7 129.2 216.6 130.2 217.1 131.2 217.5 132.4 219 132.5 217.9 132.5 216.8 132.9 216.3 133.6 216.2 134.4 216.1 135.2 216 135.6 215.8 136.1 215.6 136.6 215.3 137 215.1 137.6 214.9 138.1 214.7 138.7 214.5 139.2 214.3 140.5 214.8 141.9 215.3 143.3 215.8 144.7 216.3 145.5 216.4 146.4 216.4 147.2 216.5 148.1 216.6 148.9 216.6 149.8 216.7 150.6 216.8 151.3 216.8 152.1 216.8 152.8 216.8 153.5 216.8 154.2 216.8 155 216.8 155.8 216.9 156.7 217 157.5 217.1 158.4 217.2 159.3 217.3 160.2 217.4 161.2 217.6 162.1 217.7 163.1 217.9 164 218 164.8 218 165.5 218 166.3 218 167 218 167.8 218 168.7 218.1 169.6 218.2 170.5 218.3 171.4 218.4 172.3 218.5 173.8 219.5 175.3 220.6 176.8 221.9 176.3 222.2 175.9 222.5 175.4 222.7 174.8 222.9 174.1 223.1 173.5 223.2 172.9 223.4 172.2 223.6 172.9 224.8 173.4 226 173.9 227.2 174.3 228.4 173.1 227.2 171.8 225.9 170.5 224.7 170.2 223.6 169.7 222.5 169.3 222.8 168.8 223.1 168.3 223.4 167.8 223.7 166.9 223.7 165.9 223.7 165 223.7 164 223.7 164 224.6 164 225.5 164 226.4 165.3 227 166.7 227.5 167.5 228.7 168.3 229.9 168.4 231.5 168.4 233.1 167.3 233.3 166.2 233.4 166 234.4 166.7 236 167.3 237.6 166.4 238.2 165.3 236.4 164.1 235 162.2 234.4 163.5 236.7 162.8 237.9 164.1 239.7 165.1 240.9 164.9 242.3 164.6 243.6 163.4 245.1 162.1 245.6 160.8 246 160.4 246.8 159.5 245.9 158.4 247.2 158.3 247.9 159 249.1 159.8 250.3 160.5 251.5 159.6 252.6 158.6 253.8 157.4 252.3 156.1 250.9 155.7 253 156.2 255.1 158 256.9 158.1 258.2 156.7 257.3 156.3 255.7 155.2 254 155.1 252.4 155.1 250.9 154.4 249.1 152.8 249.4 152.3 247.5 151.3 246.3 150.1 245.7 148.5 246.2 147.7 247.2 146.6 248.5 145.6 249.7 145.6 251.2 145.6 252.8 144.4 254.2 143.8 253.3 143.1 251.6 142.4 250 141.9 248.8 141.5 247.5 141.3 246 139.4 245.6 138.9 244.7 137.9 243.7 136.6 243.8 135.4 243.8 134.3 243.6 133.2 243.5 132.7 242.7 131.6 242.5 130.4 242.2 129.3 240.9 128.2 240.9 128.6 242.1 129.5 243.2 130.4 244.2 131.6 244.4 132.7 243.2 133.1 244.5 134.7 245.4 133.8 247.5 132.5 248.8 131 249.7 129.9 250.2 128.7 250.7 127.5 251.2 126.7 251.3 126.3 250 125.6 248.7 124.9 247.3 124.2 246 123.5 244.7 122.7 243.4 121.9 242.1 121.5 241.2 120.6 241 121.2 242.7 122.3 244.6 122.8 246.2 123.4 247.9 124.3 249.4 125.7 250.9 126.6 252.1 127.3 252.7 128.4 252.5 129.6 252.2 130.7 251.9 130.7 252.7 130.3 254 130 255.4 128.9 256.6 127.9 257.8 126.9 259 125.6 260.2 124.8 262 124.6 263.8 125.2 265.3 125.2 266.7 125.1 268 123.3 269.5 122.1 271.7 122.3 273.5 120.8 274.7 120.6 276.2 119.5 277.7 117.8 279.2 116.6 279.3 115.4 279.5 114.1 280 113.4 279.6 113.2 278.3 112.6 276.2 111.9 275 111.8 273.8 111.7 272.6 111.1 271.2 110.4 269.8 110.4 269.1 110.8 267.7 111.3 266.2 111.1 264.4 110.5 262.6 109.2 260.5 109.2 258.4 109.3 256.7 108.7 256.3 107.4 256.4 106.4 255.1 104.8 255.4 103.3 256.1 101.8 256.2 100.4 256.3 99.4 255.6 98.3 254.8 97.3 253.3 95.6 251.5 95.3 250.1 95.6 248.7 96 247.2 95.6 246.3 96.7 244.2 97.8 242.4 99.4 241 99.6 239.4 101 238.5 101.4 237.4 103.3 237.8 104.5 237.3 105.8 236.8 106.9 236.7 108 236.6 109.1 236.5 109.4 237.6 109.2 238.4 110 239 111.7 239.5 112.7 240.1 113.8 240.7 114.2 240 114.7 239.2 115.7 239.6 116.7 239.9 117.8 240.1 119 240.4 119.9 240 121.3 240.1 121.6 239.1 121.8 237.4 121.9 236.9 121.1 236.8 119.9 237.1 119.2 237.1 117.9 236.8 117.1 235.8 116.8 234.9 115.7 234.4 115.3 234.7 115.2 235.8 115.7 236.2 115.3 237.1 114.6 236.3 114 235.2 113.5 233.8 112.5 233.2 111.6 232.5 110.7 231.6 110 231.8 110.2 232.5 110.9 233.4 111.9 234.1 113.1 234.8 112.5 235.5 112.3 236 111.9 236.1 111.8 234.9 111 234.1 110 233.8 109.2 233.1 108.4 232.3 107.1 233.1 105.8 233.1 105.8 233.8 104.5 234.6 104.2 235.5 104.3 235.7 104 236.3 103.2 236.9 102.2 236.9ZM101.7 229 102.8 228.8 103.9 228.5 104.9 228.3 105.1 227.4 104.3 227 103.6 225.8 103.5 224.6 102.8 224.1 102.2 224.1 101.6 225.3 102.2 226.2 103 226.8 102 228 103 228.3ZM161.8 272.3 161.8 273.6 161.7 275 161.5 276.5 161.3 278 161 279.5 162 280.2 163.5 279.8 165 279.4 166.6 278.5 168 278.2 169.3 278 170.6 278.8 170.9 280 172.4 278.6 171.7 280.5 172.1 281.6 173.4 282.4 174.8 282.5 177 281.6 177.9 280.4 178.8 279.2 180.1 277.7 181.2 276.2 181.6 274.1 180.7 272.6 180 271.5 179.2 270.5 179.1 269.2 179.1 268 178.2 267.4 177.9 265.4 177.2 266.8 177.1 268 176.9 269.2 176 269.7 174.4 268.3 174.9 266.4 173.8 266.1 172.7 265.9 171.3 266.8 170.9 268 169.7 267.3 168.6 268 167.1 269.2 166.1 270.8 165 271.1 163.9 271.5 162.3 272.2ZM44.2 303.8 44.9 303.8 45.6 303.8 46.2 303.8 46.9 303.8 47.6 303.8 48.2 303.8 48.9 303.8 49.6 303.8 50.2 303.8 50.9 303.8 51.4 303.7 51.9 303.6 52.4 303.5 52.9 303.4 53.4 303.4 53.8 303.2 54.2 303 54.5 302.8 54.9 302.6 55.3 302.4 55.9 302.3 56.5 302.2 57 302.1 57.6 302 58.2 302 58.8 301.9 59.5 301.9 60.1 301.8 60.8 301.8 61.4 301.7 62.2 301.8 63 301.8 63.8 301.9 64.5 301.9 65.3 302 65.9 301.9 66.5 301.8 67.1 301.7 67.7 301.6 68.3 301.5 69.1 301.5 69.8 301.5 70.5 301.5 71.2 301.5 71.9 301.5 72.7 301.5 73.4 301.5 74.1 301.5 74.8 301.5 75.5 301.5 75.9 300.7 76.3 300 76.9 299.5 77.4 299 78 298.5 78.6 298 79.1 297.6 79.7 297.1 80.5 296.8 81.4 296.5 80.9 297.9 81 299 81.2 300 82.1 301 83 302 83.6 302.9 84.4 303.1 85.2 303.3 86 303.4 86.8 303.6 87.6 303.8 88.3 303.7 89 303.7 89.7 303.6 90.3 303.5 91 303.5 91.7 303.4 92.4 303.4 93.1 303.1 93.8 302.7 94.5 302.4 95.1 302.2 95.8 302 96.4 301.7 97.1 301.5 97.8 301.3 98.5 301.1 99.2 300.9 99.9 300.7 100.6 300.5 101.3 300.4 102.1 300.3 102.8 300.2 103.6 300.1 104.3 300 105 300 105.8 300 106.5 300 107.3 300 108 300 108.8 300 109.5 300 110.3 300 111 300 111.8 300 112.5 299.9 113.3 299.9 114 299.8 114.8 299.8 115.6 299.7 116.3 299.7 117.1 299.6 117.9 299.6 118.6 299.5 119.4 299.5 120.2 299.3 121.1 299.1 121.9 298.9 122.8 298.7 123.6 298.5 124.4 298.5 125.2 298.5 125.9 298.5 126.7 298.5 127.5 298.5 128.2 298.6 128.9 298.8 129.5 298.9 130.2 299.1 130.9 299.2 131.7 299.5 132.5 299.7 133.7 299.2 135 298.7 135.9 298.6 136.7 298.5 137.6 298.4 138.4 298.3 139.3 298.2 140.1 298.1 140.9 298.1 141.7 298 142.5 298 143.3 297.9 144.1 297.9 144.9 297.9 145.7 297.9 146.5 297.9 147.3 297.9 148 298 148.7 298 149.4 298.1 150.2 298.1 150.9 298.2 151.7 298.2 152.5 298.1 153.3 298.1 154.1 298.1 155 298 155.7 298.1 156.4 298.2 157.1 298.2 157.8 298.3 158.5 298.4 159.1 298.5 159.7 298.6 160.4 298.7 161 298.9 161.6 299 162.1 299.2 162.6 299.4 163.1 299.6 163.6 299.8 164 300 164.6 300.1 165.1 300.3 165.6 300.4 166.1 300.6 166.6 300.7 164.3 301.6 162 302.4 159.4 303.8 160.1 303.8 160.8 303.8 161.5 303.8 162.2 303.8 162.9 303.8 163.6 303.8 164.4 303.8 162.4 304.7 160.5 305.4 158.7 306.1 157 306.7 155.4 307.2 154.1 307.6 153.5 307.6 153 307.6 152.4 307.6 151.8 307.6 151.3 307.6 150.7 307.6 150.2 307.6 149.6 307.6 149.1 307.6 148.5 307.6 148 307.6 147.4 307.6 146.9 307.6 146.3 307.6 145.8 307.6 145.2 307.6 144.7 307.6 144.1 307.6 143.6 307.6 143 307.6 142.4 307.6 141.9 307.6 141.3 307.6 140.8 307.6 140.2 307.6 139.7 307.6 139.1 307.6 138.6 307.6 138 307.6 137.5 307.6 136.9 307.6 136.4 307.6 135.8 307.6 135.3 307.6 134.7 307.6 134.2 307.6 133.6 307.6 133.1 307.6 132.5 307.6 131.9 307.6 131.4 307.6 130.8 307.6 130.3 307.6 129.7 307.6 129.2 307.6 128.6 307.6 128.1 307.6 127.5 307.6 127 307.6 126.4 307.6 125.9 307.6 125.3 307.6 124.8 307.6 124.2 307.6 123.7 307.6 123.1 307.6 122.5 307.6 122 307.6 121.4 307.6 120.9 307.6 120.3 307.6 119.8 307.6 119.2 307.6 118.7 307.6 118.1 307.6 117.6 307.6 117 307.6 116.5 307.6 115.9 307.6 115.4 307.6 114.8 307.6 114.3 307.6 113.7 307.6 113.1 307.6 112.6 307.6 112 307.6 111.5 307.6 110.9 307.6 110.4 307.6 109.8 307.6 109.3 307.6 108.7 307.6 108.2 307.6 107.6 307.6 107.1 307.6 106.5 307.6 106 307.6 105.4 307.6 104.9 307.6 104.3 307.6 103.7 307.6 103.2 307.6 102.6 307.6 102.1 307.6 101.5 307.6 101 307.6 100.4 307.6 99.9 307.6 99.3 307.6 98.8 307.6 98.2 307.6 97.7 307.6 97.1 307.6 96.6 307.6 96 307.6 95.5 307.6 94.9 307.6 94.3 307.6 93.8 307.6 93.2 307.6 92.7 307.6 92.1 307.6 91.6 307.6 91 307.6 90.5 307.6 89.9 307.6 89.4 307.6 88.8 307.6 88.3 307.6 87.7 307.6 87.2 307.6 86.6 307.6 86.1 307.6 85.5 307.6 84.9 307.6 84.4 307.6 83.8 307.6 83.3 307.6 82.7 307.6 82.2 307.6 81.6 307.6 81.1 307.6 80.5 307.6 80 307.6 79.4 307.6 78.9 307.6 78.3 307.6 77.8 307.6 77.2 307.6 76.7 307.6 76.1 307.6 75.5 307.6 75 307.6 74.4 307.6 73.9 307.6 73.3 307.6 72.8 307.6 72.2 307.6 71.7 307.6 71.1 307.6 70.6 307.6 70 307.6 69.5 307.6 68.9 307.6 68.4 307.6 67.8 307.6 67.3 307.6 66.7 307.6 66.2 307.6 65.6 307.6 65 307.6 64.5 307.6 63.9 307.6 63.4 307.6 62.8 307.6 62.3 307.6 61.7 307.6 61.2 307.6 60.6 307.6 60.1 307.6 59.5 307.6 59 307.6 58.4 307.6 57.9 307.6 57.3 307.6 56.8 307.6 56.2 307.6 55.6 307.6 55.1 307.6 54.5 307.6 53.2 307.2 51.6 306.7 49.9 306.1 48.1 305.4 46.2 304.7Z" fill="#efefdb" stroke="#000" stroke-width="0.75" stroke-linejoin="round"/>
<path d="M70.2 220.9 71 221.1 71.8 221.4 72.8 220.2 71.7 220.1 70.7 220.1ZM66.9 218.8 68 218.8 68.3 218.3 67.5 218.3ZM69.2 215.3 70 215.6 70.8 214.9 69.8 214.9ZM62.6 214.9 63.3 215 64 215.1 65.3 214.4 64.4 214.4 63.6 214.4ZM73.1 213.8 73.7 213.8 74.3 213.9 74.9 213.9 75.5 214 76 212.8 75.2 212.9 74.4 213 73.6 213.1ZM70.6 215.7 71.5 215.7 71.8 215.2 71.1 215.2ZM118.8 213.3 119.5 213.3 120.2 213.3 120.9 213.3 121.5 213.3 122.2 213.3 122.9 213.2 123.6 213.2 124 212.9 123.3 212.9 122.7 212.9 122 212.8 121.3 212.8 120.7 212.8 120 212.8 119.4 213ZM87.7 291.3 88.6 291.4 88.7 291.8 88 291.7ZM46.9 228.6 47.4 229.8 48 229.9 47.1 228.9ZM31.7 226.7 32.9 226.3 34 226.1 32.6 226.7ZM108.2 234.3 108.9 234.3 109 235.5 108.4 235.5ZM108.4 233.1 108.8 233.1 108.8 234 108.5 234ZM110.3 236 111.8 235.9 111.6 236.9ZM115.8 237.7 117.2 237.8 117 237.9 115.9 237.9ZM120.1 237.9 121.2 237.5 121 238.1 120.3 238.1ZM80.3 219.6 79.1 220.8 78 221.9 77.2 221.9 76.4 221.8 75.6 221.8 74.9 221.5 74.1 221.2 73.4 220.9 74.7 220.1 76.1 219.3 75.5 218.9 75 218.4 74.4 218 73.7 217.9 72.9 217.8 72.2 217.6 71.5 217.5 72.7 216.9 73.9 216.3 74.7 216.4 75.4 216.5 76.2 216.5 76.9 216.6 77.4 217 77.8 217.4 78.3 217.8 79 218.5 79.6 219.1ZM60.7 217.3 60.1 218.5 60.9 218.5 61.7 218.6 62.5 218.6 63.4 218.6 64.2 218.6 65.3 218.4 66.4 218.3 67.6 216.8 66.8 216.5 66.1 216.3 65.4 216.3 64.7 216.3 63.9 216.3 63.2 216.3 62 216.8ZM73.5 214.9 74.2 214.9 74.8 214.9 75.5 215 76.2 215 76.8 215 77.8 214.7 78.8 214.4 79.7 214.1 80.7 213.8 81.6 213.5 82.4 213.3 83.3 213 84.1 212.8 84.9 212.6 84.3 212.5 83.7 212.4 83.1 212.4 82.5 212.3 81.9 212.3 81.3 212.2 80.6 212.3 79.8 212.3 79.1 212.4 78.4 212.4 77.7 212.5 76.9 212.5 76.2 212.6 74.9 212.9 73.6 213.3 74 213.6 74.4 213.8 74.8 214ZM58.5 217.3 59.3 217.4 60 217.5 62.2 216.3 61.6 216.1 61.1 216 60.6 215.8ZM71.5 215.8 72.3 215.8 73.1 215.8 73.8 215.8 74.6 215.8 75.4 215.8 76.1 215.8 76.3 214.9 75.5 214.9 74.8 214.9 74 214.9 73.3 214.9 72.5 214.9ZM63.3 215.3 64 215.4 64.7 215.4 65.5 215.5 66.2 215.5 66.9 215.5 67.6 215.6 68.8 214.9 68.2 214.8 67.6 214.7 67 214.6 66.4 214.6 65.8 214.5 65.3 214.4ZM67.5 217 68.2 217.1 68.9 217.1 70.2 216 69.5 216 68.8 216ZM70.1 217 71.3 217 72 216 71 216ZM94.9 220.3 95.7 219.9 96.5 219.8 97.3 219.8 98.1 219.8 99 220.6 98 221 97.1 221.4 96.2 221.3 95.3 221.2ZM77.1 230.4 78.4 229.2 79.6 228.1 79.9 229.2 80.2 230.4 79 230.8 78.1 230.6ZM61.1 245.9 63 245 64.1 245.4 65.2 245.7 66.5 246.8 64.7 247.1 63.7 246.4 62.6 245.7ZM66.2 247.9 67.4 247.5 68.6 247.1 69.4 247.8 67.7 248.3ZM36.3 218.5 36.7 218.9 37.1 219.3 37.6 219.6 38.1 220 36.1 220.9 35.4 220.8 34.7 220.7 34 220.7 33.3 220.6 34.8 219.5ZM99.8 228.1 100.7 227.9 101.6 227.7 101.7 226.4 101.1 226 99.9 226.6ZM145.7 253.1 146.8 254.5 146.4 255.3 145.8 255.4ZM129.7 266.2 130.3 268.3 129.7 269.8 129.2 271.2 128.7 272.6 128.2 274.1 126.6 273.8 126.7 272.4 126.7 271.1 127.5 269.8 128.2 268.5ZM168.7 238.5 169.7 238.7 170.8 238.8 171.8 238.4 172.9 237.9 172.3 235.8 171.6 234.1 171 234.4 171.7 236.1 170.6 236.5 169.3 237.6 168.6 238.2ZM170.8 234 170 231.7 171.4 232.3 172.7 232.9 172.3 233.7ZM168.2 238.8 169.2 238.8 169.4 240.3 168.9 240.1ZM165.2 245.1 165.4 243.8 165.9 244.1 165.7 245.7ZM159.8 247.4 160.7 246.9 161 247.1 160.3 248ZM170 231.3 170.5 231 169 229.3 167.8 227.9 166.6 226.5 167.4 227.8 168.3 229 169.2 230.2ZM165.7 247.9 166.9 247.9 166.9 249.1 167.6 250.3 168.3 251.5 166.6 250.6 165.9 249.4ZM167.5 254.8 169.2 253.1 169.8 254.5 169.4 255.4 168.6 255.3ZM167.3 252.1 168.3 252.1 169.2 252.7 167.9 253.3ZM153.7 255.6 154.9 255.9 156.5 257.8 157.5 258.7 158.6 259.6 159.3 260.8 159.3 262.5 158.5 262.5 156.7 260.5 156.1 259.3 155.5 258.1 154.6 256.9ZM158.8 263.1 159.3 262.6 160.4 262.9 161.6 263.2 162.6 263.4 163.6 263.6 163.6 264.2 162.4 264.1 161.3 263.9 159.5 263.5ZM160.9 258.1 161.2 259.7 161.5 260.8 162.6 261.1 163.7 261.5 164.8 260.9 165.3 258.7 165.7 257.3 166 256 164.9 254.8 164.2 256 163 257.1 161.9 257.9ZM166.3 262.3 166.1 260.8 166.4 259.6 166.6 258.4 167.9 258.2 169.1 258.1 167.1 258.7 168.3 259.5 167.4 260.1 168 261.7 167.1 261.1ZM168.4 265.2 170.2 264.1 169 264.4 168.1 265.1ZM163.8 263.9 164.9 264 165.9 264 167.5 264 165.9 264.4 164.1 264.3ZM172.3 259.8 173.4 260.4 174.4 261 175.4 260.9 176.5 260.7 177.5 260.6 178.6 261.2 179.7 261.9 180.8 262.6 181.4 264 182.1 265.3 180.3 265 178.6 264.4 177.3 264.5 175.8 263.9 175.6 262 174.3 261.7 173.1 261.4ZM173.3 283.5 174.9 283.7 173.8 285 172.8 285.2ZM189.1 279.7 189.7 281 190.7 281.7 189.3 282.7 187.4 284 188 282.8 188.6 281.3ZM186.8 283.4 187 284.1 185.3 285.4 184.1 285.8 182 287 181.5 286.5 183.2 285.5 184.8 284.6ZM107.9 214 108.5 213.7 109.1 213.3 109.8 213.3 110.4 213.3 111.1 213.3 111.7 213.3 112.4 213.3 113 213.3 112.4 214.6 111.7 214.7 110.9 214.8 110.1 214.9 109.4 214.6 108.6 214.3ZM123.4 217.3 124.4 217.5 125.4 217.8 124.9 216 125.4 215.8 125.9 215.5 126.4 215.2 126.9 214.9 127.4 214.6 126.7 214.7 126.1 214.8 125.5 214.9 125 215.2 124.6 215.6 124.1 215.9 123.6 216.3ZM135.5 213.8 136.2 213.8 137 213.8 137.7 213.8 138.4 213.8 137.2 213.3 136 212.9 135.8 213.3ZM152.2 215.6 152.9 215.5 153.6 215.5 154.3 215.5 155 215.4 155.7 215.4 156.4 215.3 155.6 215.3 154.8 215.2 154 215.2 153.2 215.1 152.7 215.3Z" fill="#efefdb" stroke="#000" stroke-width="1.0" stroke-linejoin="round"/>
<path d="M126.2 232.2 127.3 230.9 128.7 230.9 129.3 232.2 128.5 233.1 129.5 234.3 130.5 236.5 129.1 236.9 127.9 235.8 127.9 234.6 126.7 233.4ZM117.6 234.2 117.6 232.8 118.3 231.5 120 232.3 121.5 231.7 122.8 232.5 124 234 122.7 234 121.4 234 119.9 233.7 118.3 234.2Z" fill="#fce2d2" stroke="#000" stroke-width="0.6"/>
<path d="M29.6 294.7 33.8 294.7 37.9 294.7 42.1 294.7 46.2 294.7 50.4 294.7 54.5 294.7 58.7 294.7 62.8 294.7 67 294.7 71.1 294.7 75.3 294.7 79.4 294.7 83.6 294.7 87.7 294.7 91.9 294.7 96 294.7 100.2 294.7 104.3 294.7 108.4 294.7 112.6 294.7 116.7 294.7 120.9 294.7 125 294.7 129.2 294.7 133.3 294.7 137.5 294.7 141.6 294.7 145.8 294.7 149.9 294.7 154.1 294.7 158.2 294.7 162.4 294.7 166.5 294.7 170.7 294.7 174.8 294.7 179 294.7M14.5 277.1 19.5 277.1 24.5 277.1 29.5 277.1 34.5 277.1 39.5 277.1 44.5 277.1 49.4 277.1 54.4 277.1 59.4 277.1 64.4 277.1 69.4 277.1 74.4 277.1 79.4 277.1 84.4 277.1 89.3 277.1 94.3 277.1 99.3 277.1 104.3 277.1 109.3 277.1 114.3 277.1 119.3 277.1 124.2 277.1 129.2 277.1 134.2 277.1 139.2 277.1 144.2 277.1 149.2 277.1 154.2 277.1 159.2 277.1 164.1 277.1 169.1 277.1 174.1 277.1 179.1 277.1 184.1 277.1 189.1 277.1 194.1 277.1M10.8 259 16 259 21.2 259 26.4 259 31.6 259 36.8 259 42 259 47.2 259 52.4 259 57.5 259 62.7 259 67.9 259 73.1 259 78.3 259 83.5 259 88.7 259 93.9 259 99.1 259 104.3 259 109.5 259 114.7 259 119.9 259 125.1 259 130.3 259 135.5 259 140.7 259 145.9 259 151.1 259 156.2 259 161.4 259 166.6 259 171.8 259 177 259 182.2 259 187.4 259 192.6 259 197.8 259M14.5 240.9 19.5 240.9 24.5 240.9 29.5 240.9 34.5 240.9 39.5 240.9 44.5 240.9 49.4 240.9 54.4 240.9 59.4 240.9 64.4 240.9 69.4 240.9 74.4 240.9 79.4 240.9 84.4 240.9 89.3 240.9 94.3 240.9 99.3 240.9 104.3 240.9 109.3 240.9 114.3 240.9 119.3 240.9 124.2 240.9 129.2 240.9 134.2 240.9 139.2 240.9 144.2 240.9 149.2 240.9 154.2 240.9 159.2 240.9 164.1 240.9 169.1 240.9 174.1 240.9 179.1 240.9 184.1 240.9 189.1 240.9 194.1 240.9M29.6 223.3 33.8 223.3 37.9 223.3 42.1 223.3 46.2 223.3 50.4 223.3 54.5 223.3 58.7 223.3 62.8 223.3 67 223.3 71.1 223.3 75.3 223.3 79.4 223.3 83.6 223.3 87.7 223.3 91.9 223.3 96 223.3 100.2 223.3 104.3 223.3 108.4 223.3 112.6 223.3 116.7 223.3 120.9 223.3 125 223.3 129.2 223.3 133.3 223.3 137.5 223.3 141.6 223.3 145.8 223.3 149.9 223.3 154.1 223.3 158.2 223.3 162.4 223.3 166.5 223.3 170.7 223.3 174.8 223.3 179 223.3M71.1 307.6 68.6 306.4 65.6 304.7 62.3 302.4 59.5 300 56.9 297.4 54.5 294.7 52.3 291.9 50.2 289 48.4 286.1 46.9 283.1 45.5 280.1 44.5 277.1 43.6 274.1 43.1 271.1 42.6 268 42.3 265 42.1 262 42 259 42.1 256 42.3 253 42.6 250 43.1 246.9 43.6 243.9 44.5 240.9 45.5 237.9 46.9 234.9 48.4 231.9 50.2 229 52.3 226.1 54.5 223.3 56.9 220.6 59.5 218 62.3 215.6 65.6 213.3 68.6 211.6 71.1 210.4M87.7 307.6 86.5 306.4 84.9 304.7 83.3 302.4 81.9 300 80.6 297.4 79.4 294.7 78.3 291.9 77.3 289 76.4 286.1 75.6 283.1 74.9 280.1 74.4 277.1 74 274.1 73.7 271.1 73.4 268 73.3 265 73.2 262 73.1 259 73.2 256 73.3 253 73.4 250 73.7 246.9 74 243.9 74.4 240.9 74.9 237.9 75.6 234.9 76.4 231.9 77.3 229 78.3 226.1 79.4 223.3 80.6 220.6 81.9 218 83.3 215.6 84.9 213.3 86.5 211.6 87.7 210.4M104.3 307.6 104.3 306.4 104.3 304.7 104.3 302.4 104.3 300 104.3 297.4 104.3 294.7 104.3 291.9 104.3 289 104.3 286.1 104.3 283.1 104.3 280.1 104.3 277.1 104.3 274.1 104.3 271.1 104.3 268 104.3 265 104.3 262 104.3 259 104.3 256 104.3 253 104.3 250 104.3 246.9 104.3 243.9 104.3 240.9 104.3 237.9 104.3 234.9 104.3 231.9 104.3 229 104.3 226.1 104.3 223.3 104.3 220.6 104.3 218 104.3 215.6 104.3 213.3 104.3 211.6 104.3 210.4M120.9 307.6 122.1 306.4 123.7 304.7 125.3 302.4 126.7 300 128 297.4 129.2 294.7 130.3 291.9 131.3 289 132.2 286.1 133 283.1 133.7 280.1 134.2 277.1 134.6 274.1 134.9 271.1 135.2 268 135.3 265 135.4 262 135.5 259 135.4 256 135.3 253 135.2 250 134.9 246.9 134.6 243.9 134.2 240.9 133.7 237.9 133 234.9 132.2 231.9 131.3 229 130.3 226.1 129.2 223.3 128 220.6 126.7 218 125.3 215.6 123.7 213.3 122.1 211.6 120.9 210.4M137.5 307.6 140 306.4 143 304.7 146.3 302.4 149.1 300 151.7 297.4 154.1 294.7 156.3 291.9 158.4 289 160.2 286.1 161.7 283.1 163.1 280.1 164.1 277.1 165 274.1 165.5 271.1 166 268 166.3 265 166.5 262 166.6 259 166.5 256 166.3 253 166 250 165.5 246.9 165 243.9 164.1 240.9 163.1 237.9 161.7 234.9 160.2 231.9 158.4 229 156.3 226.1 154.1 223.3 151.7 220.6 149.1 218 146.3 215.6 143 213.3 140 211.6 137.5 210.4" fill="none" stroke="#9a9a9a" stroke-opacity="0.55" stroke-width="0.5"/>
</g>
<path d="M54.5 307.6 50.8 306.4 46.2 304.7 41.4 302.4 37.1 300 33.3 297.4 29.6 294.7 26.2 291.9 23.2 289 20.5 286.1 18.1 283.1 16.2 280.1 14.5 277.1 13.3 274.1 12.5 271.1 11.7 268 11.2 265 10.9 262 10.8 259 10.9 256 11.2 253 11.7 250 12.5 246.9 13.3 243.9 14.5 240.9 16.2 237.9 18.1 234.9 20.5 231.9 23.2 229 26.2 226.1 29.6 223.3 33.3 220.6 37.1 218 41.4 215.6 46.2 213.3 50.8 211.6 54.5 210.4 55.9 210.4 57.3 210.4 58.7 210.4 60.1 210.4 61.5 210.4 62.8 210.4 64.2 210.4 65.6 210.4 67 210.4 68.4 210.4 69.7 210.4 71.1 210.4 72.5 210.4 73.9 210.4 75.3 210.4 76.7 210.4 78 210.4 79.4 210.4 80.8 210.4 82.2 210.4 83.6 210.4 84.9 210.4 86.3 210.4 87.7 210.4 89.1 210.4 90.5 210.4 91.9 210.4 93.2 210.4 94.6 210.4 96 210.4 97.4 210.4 98.8 210.4 100.2 210.4 101.5 210.4 102.9 210.4 104.3 210.4 105.7 210.4 107.1 210.4 108.4 210.4 109.8 210.4 111.2 210.4 112.6 210.4 114 210.4 115.4 210.4 116.7 210.4 118.1 210.4 119.5 210.4 120.9 210.4 122.3 210.4 123.7 210.4 125 210.4 126.4 210.4 127.8 210.4 129.2 210.4 130.6 210.4 131.9 210.4 133.3 210.4 134.7 210.4 136.1 210.4 137.5 210.4 138.9 210.4 140.2 210.4 141.6 210.4 143 210.4 144.4 210.4 145.8 210.4 147.1 210.4 148.5 210.4 149.9 210.4 151.3 210.4 152.7 210.4 154.1 210.4 157.8 211.6 162.4 213.3 167.2 215.6 171.5 218 175.3 220.6 179 223.3 182.4 226.1 185.4 229 188.1 231.9 190.5 234.9 192.4 237.9 194.1 240.9 195.3 243.9 196.1 246.9 196.9 250 197.4 253 197.7 256 197.8 259 197.7 262 197.4 265 196.9 268 196.1 271.1 195.3 274.1 194.1 277.1 192.4 280.1 190.5 283.1 188.1 286.1 185.4 289 182.4 291.9 179 294.7 175.3 297.4 171.5 300 167.2 302.4 162.4 304.7 157.8 306.4 154.1 307.6 152.7 307.6 151.3 307.6 149.9 307.6 148.5 307.6 147.1 307.6 145.8 307.6 144.4 307.6 143 307.6 141.6 307.6 140.2 307.6 138.9 307.6 137.5 307.6 136.1 307.6 134.7 307.6 133.3 307.6 131.9 307.6 130.6 307.6 129.2 307.6 127.8 307.6 126.4 307.6 125 307.6 123.7 307.6 122.3 307.6 120.9 307.6 119.5 307.6 118.1 307.6 116.7 307.6 115.4 307.6 114 307.6 112.6 307.6 111.2 307.6 109.8 307.6 108.4 307.6 107.1 307.6 105.7 307.6 104.3 307.6 102.9 307.6 101.5 307.6 100.2 307.6 98.8 307.6 97.4 307.6 96 307.6 94.6 307.6 93.2 307.6 91.9 307.6 90.5 307.6 89.1 307.6 87.7 307.6 86.3 307.6 84.9 307.6 83.6 307.6 82.2 307.6 80.8 307.6 79.4 307.6 78 307.6 76.7 307.6 75.3 307.6 73.9 307.6 72.5 307.6 71.1 307.6 69.7 307.6 68.4 307.6 67 307.6 65.6 307.6 64.2 307.6 62.8 307.6 61.5 307.6 60.1 307.6 58.7 307.6 57.3 307.6 55.9 307.6Z" fill="none" stroke="#555" stroke-width="0.6"/>
<rect x="13.35" y="249.35" width="1.5" height="1.5" rx="0.4" fill="#222"/>
<rect x="19.65" y="249.35" width="1.5" height="1.5" rx="0.4" fill="#222"/>
<rect x="25.45" y="249.35" width="1.5" height="1.5" rx="0.4" fill="#222"/>
<rect x="170.05" y="248.55" width="1.1" height="1.1" rx="0.4" fill="#222"/>
<rect x="175.75" y="248.55" width="1.1" height="1.1" rx="0.4" fill="#222"/>
<rect x="181.45" y="247.8" width="1.3" height="2.6" rx="0.4" fill="#222"/>
<rect x="187.25" y="247.8" width="1.3" height="2.6" rx="0.4" fill="#222"/>
<rect x="192.55" y="247.8" width="1.3" height="2.6" rx="0.4" fill="#222"/>
<rect x="135.2" y="261.5" width="1.4" height="2.2" rx="0.4" fill="#222"/>
<rect x="140.9" y="263.1" width="1.4" height="2.2" rx="0.4" fill="#222"/>
<rect x="147.2" y="263.3" width="1.4" height="2.2" rx="0.4" fill="#222"/>
<rect x="129.1" y="263" width="1" height="1" rx="0.4" fill="#222"/>
<line x1="23.5" y1="246.2" x2="25.5" y2="248.2" stroke="#222" stroke-width="0.7" />
<text x="104.3" y="207.7" font-size="7.6" text-anchor="middle" fill="#000" stroke="#000" stroke-width="0.1">c) DSL difference, <tspan font-style="italic" text-decoration="overline">F</tspan><tspan font-size="4.6" font-style="italic" dy="1.2">H</tspan><tspan dy="-1.2"> = 0.18 Sv</tspan></text>
<rect x="201.7" y="298.82" width="9.6" height="4.68" fill="#0c3d73"/>
<rect x="201.7" y="294.44" width="9.6" height="4.68" fill="#1a5899"/>
<rect x="201.7" y="290.06" width="9.6" height="4.68" fill="#2a71b2"/>
<rect x="201.7" y="285.68" width="9.6" height="4.68" fill="#3a87bd"/>
<rect x="201.7" y="281.3" width="9.6" height="4.68" fill="#569fc9"/>
<rect x="201.7" y="276.92" width="9.6" height="4.68" fill="#7eb8d7"/>
<rect x="201.7" y="272.54" width="9.6" height="4.68" fill="#a2cde3"/>
<rect x="201.7" y="268.16" width="9.6" height="4.68" fill="#c2ddec"/>
<rect x="201.7" y="263.78" width="9.6" height="4.68" fill="#dae9f2"/>
<rect x="201.7" y="259.4" width="9.6" height="4.68" fill="#edf2f5"/>
<rect x="201.7" y="255.02" width="9.6" height="4.68" fill="#f9f0eb"/>
<rect x="201.7" y="250.64" width="9.6" height="4.68" fill="#fce2d2"/>
<rect x="201.7" y="246.26" width="9.6" height="4.68" fill="#fbccb4"/>
<rect x="201.7" y="241.88" width="9.6" height="4.68" fill="#f6b394"/>
<rect x="201.7" y="237.5" width="9.6" height="4.68" fill="#ec9374"/>
<rect x="201.7" y="233.12" width="9.6" height="4.68" fill="#dd7059"/>
<rect x="201.7" y="228.74" width="9.6" height="4.68" fill="#cc4c44"/>
<rect x="201.7" y="224.36" width="9.6" height="4.68" fill="#ba2832"/>
<rect x="201.7" y="219.98" width="9.6" height="4.68" fill="#9f1228"/>
<rect x="201.7" y="215.6" width="9.6" height="4.68" fill="#790622"/>
<path d="M201.7 215.8 L206.5 210.8 L211.3 215.8 Z" fill="#67001f"/>
<path d="M201.7 303 L206.5 307.8 L211.3 303 Z" fill="#053061"/>
<path d="M201.7 215.6 L206.5 210.8 L211.3 215.6 L211.3 303.2 L206.5 307.8 L201.7 303.2 Z" fill="none" stroke="#444" stroke-width="0.5"/>
<line x1="211.3" y1="215.6" x2="213.3" y2="215.6" stroke="#3a3a3a" stroke-width="0.6" />
<text x="214.6" y="217.9" font-size="7" text-anchor="start" fill="#222" stroke="#222" stroke-width="0.15" textLength="11.01" lengthAdjust="spacingAndGlyphs" >100</text>
<line x1="211.3" y1="224.36" x2="213.3" y2="224.36" stroke="#3a3a3a" stroke-width="0.6" />
<text x="214.6" y="226.66" font-size="7" text-anchor="start" fill="#222" stroke="#222" stroke-width="0.15" textLength="7.34" lengthAdjust="spacingAndGlyphs" >80</text>
<line x1="211.3" y1="233.12" x2="213.3" y2="233.12" stroke="#3a3a3a" stroke-width="0.6" />
<text x="214.6" y="235.42" font-size="7" text-anchor="start" fill="#222" stroke="#222" stroke-width="0.15" textLength="7.34" lengthAdjust="spacingAndGlyphs" >60</text>
<line x1="211.3" y1="241.88" x2="213.3" y2="241.88" stroke="#3a3a3a" stroke-width="0.6" />
<text x="214.6" y="244.18" font-size="7" text-anchor="start" fill="#222" stroke="#222" stroke-width="0.15" textLength="7.34" lengthAdjust="spacingAndGlyphs" >40</text>
<line x1="211.3" y1="250.64" x2="213.3" y2="250.64" stroke="#3a3a3a" stroke-width="0.6" />
<text x="214.6" y="252.94" font-size="7" text-anchor="start" fill="#222" stroke="#222" stroke-width="0.15" textLength="7.34" lengthAdjust="spacingAndGlyphs" >20</text>
<line x1="211.3" y1="259.4" x2="213.3" y2="259.4" stroke="#3a3a3a" stroke-width="0.6" />
<text x="214.6" y="261.7" font-size="7" text-anchor="start" fill="#222" stroke="#222" stroke-width="0.15" textLength="3.67" lengthAdjust="spacingAndGlyphs" >0</text>
<line x1="211.3" y1="268.16" x2="213.3" y2="268.16" stroke="#3a3a3a" stroke-width="0.6" />
<text x="214.6" y="270.46" font-size="7" text-anchor="start" fill="#222" stroke="#222" stroke-width="0.15" textLength="11.2" lengthAdjust="spacingAndGlyphs" >&#8722;20</text>
<line x1="211.3" y1="276.92" x2="213.3" y2="276.92" stroke="#3a3a3a" stroke-width="0.6" />
<text x="214.6" y="279.22" font-size="7" text-anchor="start" fill="#222" stroke="#222" stroke-width="0.15" textLength="11.2" lengthAdjust="spacingAndGlyphs" >&#8722;40</text>
<line x1="211.3" y1="285.68" x2="213.3" y2="285.68" stroke="#3a3a3a" stroke-width="0.6" />
<text x="214.6" y="287.98" font-size="7" text-anchor="start" fill="#222" stroke="#222" stroke-width="0.15" textLength="11.2" lengthAdjust="spacingAndGlyphs" >&#8722;60</text>
<line x1="211.3" y1="294.44" x2="213.3" y2="294.44" stroke="#3a3a3a" stroke-width="0.6" />
<text x="214.6" y="296.74" font-size="7" text-anchor="start" fill="#222" stroke="#222" stroke-width="0.15" textLength="11.2" lengthAdjust="spacingAndGlyphs" >&#8722;80</text>
<line x1="211.3" y1="303.2" x2="213.3" y2="303.2" stroke="#3a3a3a" stroke-width="0.6" />
<text x="214.6" y="305.5" font-size="7" text-anchor="start" fill="#222" stroke="#222" stroke-width="0.15" textLength="14.87" lengthAdjust="spacingAndGlyphs" >&#8722;100</text>
<text x="238" y="259.4" font-size="6.78" text-anchor="middle" fill="#222" stroke="#222" stroke-width="0.15" textLength="57" lengthAdjust="spacingAndGlyphs" transform="rotate(-90 238 259.4)" >DSL difference (cm)</text>
<clipPath id="clipm1"><path d="M311.4 307.6 307.7 306.4 303.1 304.7 298.3 302.4 294 300 290.2 297.4 286.5 294.7 283.1 291.9 280.1 289 277.4 286.1 275 283.1 273.1 280.1 271.4 277.1 270.2 274.1 269.4 271.1 268.6 268 268.1 265 267.8 262 267.7 259 267.8 256 268.1 253 268.6 250 269.4 246.9 270.2 243.9 271.4 240.9 273.1 237.9 275 234.9 277.4 231.9 280.1 229 283.1 226.1 286.5 223.3 290.2 220.6 294 218 298.3 215.6 303.1 213.3 307.7 211.6 311.4 210.4 312.8 210.4 314.2 210.4 315.6 210.4 317 210.4 318.4 210.4 319.7 210.4 321.1 210.4 322.5 210.4 323.9 210.4 325.3 210.4 326.6 210.4 328 210.4 329.4 210.4 330.8 210.4 332.2 210.4 333.6 210.4 334.9 210.4 336.3 210.4 337.7 210.4 339.1 210.4 340.5 210.4 341.8 210.4 343.2 210.4 344.6 210.4 346 210.4 347.4 210.4 348.8 210.4 350.1 210.4 351.5 210.4 352.9 210.4 354.3 210.4 355.7 210.4 357.1 210.4 358.4 210.4 359.8 210.4 361.2 210.4 362.6 210.4 364 210.4 365.3 210.4 366.7 210.4 368.1 210.4 369.5 210.4 370.9 210.4 372.3 210.4 373.6 210.4 375 210.4 376.4 210.4 377.8 210.4 379.2 210.4 380.6 210.4 381.9 210.4 383.3 210.4 384.7 210.4 386.1 210.4 387.5 210.4 388.8 210.4 390.2 210.4 391.6 210.4 393 210.4 394.4 210.4 395.8 210.4 397.1 210.4 398.5 210.4 399.9 210.4 401.3 210.4 402.7 210.4 404 210.4 405.4 210.4 406.8 210.4 408.2 210.4 409.6 210.4 411 210.4 414.7 211.6 419.3 213.3 424.1 215.6 428.4 218 432.2 220.6 435.9 223.3 439.3 226.1 442.3 229 445 231.9 447.4 234.9 449.3 237.9 451 240.9 452.2 243.9 453 246.9 453.8 250 454.3 253 454.6 256 454.7 259 454.6 262 454.3 265 453.8 268 453 271.1 452.2 274.1 451 277.1 449.3 280.1 447.4 283.1 445 286.1 442.3 289 439.3 291.9 435.9 294.7 432.2 297.4 428.4 300 424.1 302.4 419.3 304.7 414.7 306.4 411 307.6 409.6 307.6 408.2 307.6 406.8 307.6 405.4 307.6 404 307.6 402.7 307.6 401.3 307.6 399.9 307.6 398.5 307.6 397.1 307.6 395.8 307.6 394.4 307.6 393 307.6 391.6 307.6 390.2 307.6 388.8 307.6 387.5 307.6 386.1 307.6 384.7 307.6 383.3 307.6 381.9 307.6 380.6 307.6 379.2 307.6 377.8 307.6 376.4 307.6 375 307.6 373.6 307.6 372.3 307.6 370.9 307.6 369.5 307.6 368.1 307.6 366.7 307.6 365.3 307.6 364 307.6 362.6 307.6 361.2 307.6 359.8 307.6 358.4 307.6 357.1 307.6 355.7 307.6 354.3 307.6 352.9 307.6 351.5 307.6 350.1 307.6 348.8 307.6 347.4 307.6 346 307.6 344.6 307.6 343.2 307.6 341.8 307.6 340.5 307.6 339.1 307.6 337.7 307.6 336.3 307.6 334.9 307.6 333.6 307.6 332.2 307.6 330.8 307.6 329.4 307.6 328 307.6 326.6 307.6 325.3 307.6 323.9 307.6 322.5 307.6 321.1 307.6 319.7 307.6 318.4 307.6 317 307.6 315.6 307.6 314.2 307.6 312.8 307.6Z"/></clipPath>
<g clip-path="url(#clipm1)">
<path d="M418.6 277.6 420.8 276.2 421.9 273.8 419.3 275.4 418.1 277.1ZM442.4 247.4 444 247.4 445.2 246.3 446.9 246.9 448.4 246.8 449.5 245.4 449.3 244.5 448.1 243.1 446.5 243 445.8 243.6 445.2 246.3 442.2 243.4 440.6 243.4 439.2 244.5 439.2 245.4 442.1 247.2ZM452.4 247.4 453.2 247.7 452.2 243.9 451.2 244.5 451.1 245.4 452.3 247.2ZM269.5 246.3 270.9 245.4 271 244 270.4 243.4 269.5 246.3ZM424.7 246.9 426.3 247.1 428 246.3 428.3 245.4 427.3 243.6 425.4 243.2 424.5 243.6 424 244.5 424.2 246.3ZM433.8 246.4 436.1 246.7 438.1 245.4 437.9 244.5 436.1 243.5 434.5 243.2 432.5 244.5 432.5 245.4 433.7 246.3ZM274.3 245.6 275.8 245.6 276.6 244.5 276.6 243 276.1 242.4 274.7 242.7 274 243.6 273.7 244.5 274.1 245.4ZM285 245.6 286.7 244.5 287.4 243.6 287.1 243.2 285.4 243.6 284.6 244.5 284.7 245.4Z" fill="#c2ddec"/>
<path d="M306.8 289.6 307.5 289.6 307.5 288.7 306.6 288.2 305.9 288.7 306.7 289.6ZM335 289.7 343.4 288 347.7 289.1 348.9 288 350.2 287.7 355.2 289.6 363.2 288.6 365.9 289.4 369.3 289.6 372 288.8 374.6 289.6 377.5 288.7 380 289.6 382.9 288.8 385.5 289 388.1 287.3 389.4 287.6 390.1 289.5 390.7 289.8 394.7 289.8 397.3 288.3 398.7 289.8 400 289.6 402.1 288.4 403.7 289.2 406.7 288.6 407.3 289.6 408.1 289.8 412.3 288.3 413.6 288.5 414.2 289.6 414.8 289.8 419.4 287.9 421.3 288.2 422.4 289.5 423.6 289.6 429.5 289 432.3 287.2 435.4 287.7 439 284.8 439.8 285.2 439.9 286.3 443.7 285 443.8 285.9 443 287 439.8 288.7 441.5 288.7 443.7 287.6 449.5 279.8 452.1 274.4 453.8 268 454.1 266.1 453.3 266.4 452.1 268.5 451.3 268.8 450.8 268 451.2 267.1 452.6 266.2 452.9 264.4 452.1 263.9 449.7 264.6 448.9 263.5 449.5 261.7 451.5 259 452 256.3 453 255.3 454.5 255 453.2 247.7 452.3 247.2 451.1 245.4 451.2 244.5 452.2 243.9 451.7 242.7 451.4 242 450.6 241.8 449.8 240.9 449.4 239.3 449.8 238.7 445 231.9 441.7 229.3 440.5 227.9 440.9 227.5 434 221.9 428.7 221 428.8 221.7 432.1 224.1 433.8 227.1 432.8 227.4 427.2 222.5 425 221.4 420.7 221.7 420.3 222.5 420.8 223.8 420.3 223.9 417.7 221.7 416.5 221.4 410.8 221.7 411.3 223.6 410.3 223.9 406 221.7 404 221.6 406.7 225 406.9 226.7 405.9 228.4 406.6 229.3 409.2 230.2 411.3 227 414.7 228.1 415 227.5 414.4 225.1 414.9 224.9 416.5 225.8 418.3 228.4 418.4 229.3 417.8 229.7 413.5 229.4 413 230.2 414.9 233.7 417.6 234.6 418.3 235.5 418.5 238 418 238.4 417.1 238.2 414 234.3 412.6 234.1 411.6 236.4 412.4 238.2 415.5 240 416.2 240.9 415 243.6 415.1 245.4 415.9 247.2 414.9 252.7 415.6 254 416.5 251.8 417.7 251.3 418.7 251.8 418.7 254 416.3 255.4 416.9 257.2 418.4 259 417 260.8 416.8 262.6 417.9 263.7 421.7 264.5 422.5 265.2 422.1 267.1 420.9 268.9 420.4 269.4 419.7 269.1 417.6 266.9 416.2 266.1 414.9 266.2 413.8 268.9 414.7 272.6 414.5 273.5 409.4 275.5 408.8 275.1 407.9 270.8 403.7 273.6 398.5 273 397.2 274.4 396.4 277.1 396.3 279.8 395.6 280.6 394.8 280.7 394 277.7 393.2 277.8 390.6 279.8 390 279.4 389.9 278 390.4 276.7 393.6 275.3 393.9 274.4 393.7 273.5 392.4 272.7 390.1 272.9 388.3 274.4 387.2 276.2 386.1 279.8 386.7 282.5 386.2 283.8 385.4 284.3 384.1 283.7 383.6 282.3 381.1 279.7 380.4 279.6 379.9 283.4 379 284.2 376.9 283.9 375 281.7 372.5 284.8 368.9 285.5 364.1 283.9 359.8 285.7 359.1 285.5 357.6 283.8 356.2 283.9 355.1 284.3 354.2 285.6 353.5 285.9 353.1 284.3 351.9 283.3 347.8 285.3 345.5 283.7 344.1 283.8 342.2 285.2 341.5 285.2 335.5 283.9 332.7 283.8 331.1 283.2 328.9 283.4 328.2 286.1 329.2 288.5 331.9 288.3 334.4 289.6ZM400.2 284.3 399.4 280.7 400.1 280.1 400.7 280.7 400.9 282.4 402.2 283 407.3 280.7 409.9 280.7 409 281.6 402.2 284.8 401.4 285 400.2 284.4ZM438.2 282.5 439.2 281.2 442.2 279.8 445.8 278.5 447.2 278.6 447.2 279.8 446.3 280.7 441.3 281.4 438.6 283.3 438.1 283ZM436.5 279.8 436.6 277.1 435.7 275.7 433.4 275.9 431.4 277.5 430 277.1 430.7 276.2 433.3 275.3 437 270.7 437.9 270.5 438.3 271.7 436.8 275.3 437.3 276.2 439 277.1 439.5 278 438.5 279.8 436.9 280ZM418.1 277.1 419.3 275.4 421.9 273.8 420.8 276.2 418.6 277.6ZM443.1 275.3 442.9 274.4 444.2 272.8 447.7 271.1 448.3 271.5 448.2 273.5 447.4 274.4 445.7 275.3 443.4 275.5ZM427.4 272.6 426.8 272.4 423.3 268.9 423 267.1 423.9 266.4 426.9 266.7 428.1 269.3 430.4 269.1 431.4 270.8 430.7 271.7 427.5 272.6ZM441.1 268 438.8 266.2 438.5 265.3 438.8 264.4 442 263.3 443.7 261.8 444 262.6 443 264.4 442.7 267.1 441.4 268.1ZM424.4 261.7 424.4 259.9 425.9 258.3 426.6 258.8 426.8 260.8 426 261.7 425 261.8ZM437.4 259.9 437.2 259 437.7 258.1 439.1 257.8 440.1 258.1 439.9 260.2 439.1 260.8 437.5 260.1ZM432.4 259 432.2 257.2 432.9 255.4 434.3 254.8 435.8 255.4 436.3 257.2 435.9 258.1 434.4 259.6 432.9 259.6ZM441 256.3 439.8 254.5 437.3 253.6 437.1 251.8 437.7 250.9 440 250.8 441.1 252.7 441.9 253.1 442.9 250.9 443.9 251 444.6 251.8 446 255.4 445.8 256.3 443.7 257 441.4 256.8ZM448.4 251.8 447.5 250.9 447.3 250 448.2 249.2 449 249.2 449.7 250 449.7 250.9 449.4 251.7 448.7 252ZM442.1 247.2 439.2 245.4 439.2 244.5 440.6 243.4 442.2 243.4 445.2 246.3 445.8 243.6 446.5 243 448.1 243.1 449.3 244.5 449.5 245.4 448.4 246.8 446.9 246.9 445.2 246.3 444 247.4 442.4 247.4ZM424.2 246.3 424 244.5 424.5 243.6 425.4 243.2 427.3 243.6 428.3 245.4 428 246.3 426.3 247.1 424.7 246.9ZM433.7 246.3 432.5 245.4 432.5 244.5 434.5 243.2 436.1 243.5 437.9 244.5 438.1 245.4 436.1 246.7 433.8 246.4ZM430.5 241.8 430 240.9 430.1 240 431 239.7 432 240.9 431.1 242ZM445.1 240.9 441 238.2 440.3 237.3 440.5 236.6 443 237.3 445.5 239 446.4 240.8 445.8 241.2ZM431.8 237.3 428.1 235.5 427.4 234.6 427.4 232.8 426 229.7 427.4 228.9 427.3 227.2 428.7 227.3 429.9 228.4 430.1 229.3 429.5 230.2 429.8 231 434.7 236.4 434.4 237.4 432.4 237.8ZM437.9 235.5 434 231.9 432.2 229.3 431.9 227.9 432.4 227.7 435.3 229.4 436 229.5 436.4 228.4 437.1 228.4 444.2 232.8 446.2 234.6 446.5 235.5 446 236.1 445.2 236 441.8 233.7 439.7 233.3 438.9 233.7 438.6 235.8ZM422.7 233.7 421.6 231 422.2 230.2 423.7 231 424.8 232.8 423.5 234.6ZM421.3 228.4 419.7 227.5 418.2 225.8 419.1 225.4 420.5 225.8 423 228.4 421.8 228.6ZM296.2 288.9 298 288.5 300 289.4 301 289 301.9 287.2 301.4 286.1 300.4 284.9 297.9 283.4 297.5 282.2 297.9 281.4 298.6 281.4 301.7 283.2 302.3 282.5 301.8 280.7 302.3 279.8 303.5 280.7 304.4 283.4 311.2 287.8 309.2 282.5 310 281.6 312.3 280.9 312.5 279.8 313.2 279.2 314.6 279 315.4 279.4 316.1 280.7 316.2 282.5 316 283.3 315.6 283.4 318.7 286.3 319.6 286.7 320.1 286.3 320.3 283.4 319.9 282.5 318.1 279.8 315.8 278 315.5 276.8 315.9 275.2 318.2 275.1 318.7 274.4 317.1 269.8 316.4 266.2 316.7 264.4 317.9 263.5 318.3 262.6 318.3 259.9 316.8 259.7 315.3 260.6 311.6 265.2 310.8 264.5 309.9 262.1 309.1 261.5 307.1 262.6 305.2 262.7 304 260.8 300.9 259 299.5 256.3 300.9 252.7 303.3 250 304.6 242.9 303.2 242.5 301.4 240.7 298.1 241.9 296.5 241.8 295.5 240.9 295.7 240 298.4 238.8 301.6 236.5 303.3 236 304.9 237.2 305.7 237 307.5 234.6 310.1 233.6 311.5 231.9 312.3 230.2 310.8 229.3 311.2 228.4 314.3 226.7 315.6 224.3 315.2 223.3 316.7 222.5 317.1 221.6 310.4 222.3 309.3 224.1 304.7 226 303.8 225.5 304.2 224.1 307.9 221.7 304.2 221.7 302.6 222.5 296.9 228.4 294.7 229.3 292.8 228.4 293 227.5 296 225 301.4 222.5 301.7 221.7 300.6 221.7 293.5 224.9 293.3 224.1 294.6 222.5 293.1 222.5 287 227.4 285 228.1 285.5 226.7 287.9 224.1 291.8 221.7 288.8 221.6 282.5 226.7 277.8 231.4 278.8 231.9 275.9 235.5 276.2 236.4 277.9 236 280.2 234.6 280.3 231.9 280.9 231 283 230.2 284.1 230.5 283.4 231.9 280.3 234.6 280.2 237.3 279 239.1 277.8 240 276.3 240.2 273.7 239.1 273 238.1 270.4 243.4 271 244 270.9 245.4 269.5 246.3 268.7 249.6 270.1 250 269 253.6 269.5 254.3 273.6 252.9 274 253.6 273.9 255.4 273.1 257.2 270.1 258 269.2 257.2 268.7 254.9 267.9 254.7 267.8 260.8 268.1 265.1 269.6 267.1 269.7 268 268.7 268.3 269.1 269.8 270.3 274.4 272.4 278.9 273.3 280.4 274.2 280.7 274 281.6 278.5 287.4 279 287 278.6 284.1 281.4 283.4 281.5 282.5 277.8 280.7 277.3 279.8 277.9 279.5 280.7 280.7 282.3 282.1 286.5 283.4 285.9 285.2 287.8 287 290.6 287.9 290.8 286.3 291.9 285.9 295.6 288.7ZM292.2 284.3 289.7 281.6 286.5 279.1 281.5 278 280.3 276.2 280.1 274 284.3 276.2 287 278.5 290 280.2 292.6 280.7 293.8 282.5 293.4 283.8 292.4 284.5ZM293.8 277.1 293.5 273.5 291.7 271.7 291.5 270.8 292.1 269.8 292.8 269.7 294.7 271.4 295.5 271.5 296 270.8 295.5 269.8 293.6 268.9 292.2 265.3 295.2 264.3 296.3 262.6 295.6 261.7 293.5 261.2 291.1 259.7 287.2 261.3 284.7 259 285.6 258.1 289.6 257 291.2 255.3 292.8 256.3 296.1 257.2 297.4 259.9 299 261.7 299.2 262.6 298.5 266.2 297 267 296.6 268 297.4 270.8 297 274.4 294.7 277.2 293.9 277.2ZM308.7 275.3 308.4 274.4 308.7 273.3 310.2 272.8 311.8 273.2 311.8 274.4 311.1 275.3 310.1 276 309.3 275.8ZM302.6 274.4 301.8 273.5 301.4 270.7 302 269.5 303.5 269.4 304.3 269.8 304.6 271.7 303.7 274.6 303 274.7ZM273.1 270.8 272.1 269.8 272.1 268.9 273.2 267.9 274.1 268.5 274.4 269.5 273.9 270.7 273.1 270.8ZM281.4 270.8 279.8 269.8 279.3 267.4 281.6 266.8 282 266.2 282.7 262.8 285.8 263 287.4 264.4 287.5 265.3 286.1 266.3 284.9 268 285.1 270.8 284.8 271.5 281.5 270.8ZM288.5 266.2 287.6 265.3 290.1 265.3 290.1 266.2 289.3 267ZM279.7 261.7 279.2 259.9 279.6 259 281 258.7 282.7 259 282.8 259.9 281.9 262.3 280.3 262.1ZM278.7 254.5 278.4 253.6 278.8 252.7 281.7 250 282.6 250 282.9 250.9 282.5 251.8 278.8 254.6ZM295.9 253.6 296.1 252.5 297.7 252.7 296.7 254.1 296 253.7ZM292.2 251.8 291.4 250 293.6 248 296.2 247.2 296.4 248.2 294.6 251.8 292.3 251.9ZM298.4 251.8 298.9 250 299.5 249.6 300.7 250 300.8 250.9 300.2 251.8 298.5 251.9ZM287.9 250 287.1 249.1 287 248.2 287.6 247.7 289.1 248.2 290.5 250 287.9 250ZM274.1 245.4 273.7 244.5 274 243.6 274.7 242.7 276.1 242.4 276.6 243 276.6 244.5 275.8 245.6 274.3 245.6ZM284.7 245.4 284.6 244.5 285.4 243.6 287.1 243.2 287.4 243.6 286.7 244.5 285 245.6ZM290.3 241.8 290.1 240 290.9 239.1 293 239.3 293.1 240 292.2 241.8 291.2 242.3 290.5 242.1ZM289.1 238.2 289.5 237.3 290.5 236.8 290.6 238.2 290.3 238.8 289.6 238.7ZM294.1 238.2 295.2 236.4 300.2 231 302 230.6 303.5 231 303.2 231.9 300.1 235.1 297.1 236.8 295.5 238.7 293.9 239ZM284.4 233.7 285.6 230.2 288.6 228.4 291 228.1 291.2 228.4 288.2 231 285.4 234.5 284.6 234.6 284.4 233.9ZM306 232.8 306 231.9 306.6 231 308.3 230.4 307.3 232.8 306.7 233.3 306.1 233ZM307.4 227.5 309 225 310.1 224.2 311.7 224.5 312 225 311.6 225.8 310.4 227.1 308.3 228.2 307.6 228.3 307.4 227.6ZM325.2 288.7 325.7 288.2 325.6 287 324.7 285.6 323.9 285.2 323.4 285.8 323.6 287 325.1 288.7ZM314.2 285.5 315 285.8 315.5 284.3 315.2 283.4 313.8 283 313.9 285.2ZM324.9 278.9 326.5 279.3 325.6 277.1 324.4 276.5 323 276.8 322.9 278 324.9 278.9ZM374.5 279.3 375.2 279.1 377.2 277.1 374 276.1 373.5 277.1 374.1 278.9ZM407.2 270.3 407.9 270.7 408.7 270.5 410.4 269.8 411.1 268.9 410.4 267.1 407.7 265.3 406.9 265.6 406.1 267.1 406.1 268 407.1 269.8ZM401.9 269.5 402.7 269.6 404.2 268 404.3 267.1 403.1 265.3 402.3 265.1 401.5 265.9 401.2 267.1 401.6 268.9ZM394.6 263 396.2 263.1 397.7 261.7 397.8 259 397 258.7 395.2 259.9 394.5 260.8 394.5 262.6ZM404.7 262.7 405.5 262.4 405.6 261 404.8 261 404.2 261.7 404.5 262.6ZM386.9 261 388.5 260.8 388.4 257.2 387.7 256.3 386.9 256.4 386.1 257.3 385.8 259.9 386.3 260.8ZM305.9 259.5 307.4 259.4 307.4 258.2 305.9 257.6 304.4 255.9 304.3 257.2 305.4 259ZM314.5 256.6 315.3 257 316.3 256.3 315.3 255.2 314.5 255.4 314.2 256.3ZM400.9 256.3 403.3 256.3 403.8 254.5 403.1 253.2 401.6 253.4 400.5 254.5 400.3 255.4 400.9 256.3ZM306.9 253.4 307.7 253.4 310.2 251.1 310.4 250 307.4 248.6 306.6 252.7ZM391.1 247.5 391.9 247.8 392.5 246.3 391.9 244.5 390.8 244.2 390.2 245.4 390.8 247.2ZM396.4 247.3 397.3 247.8 398 247.6 398.1 246.3 397.1 245.9 396.5 246.3 396.4 247.2ZM407.2 247.3 408.8 247.9 409.5 247.4 410.6 244.8 411.9 243.4 412.2 240.9 411.8 240 410.9 239.4 410.2 239.6 409.4 242.3 405.8 243.6 406 245.4 407.1 247.2ZM400.8 245.5 401.7 246.1 402 245.4 401.3 243.6 400.6 243.7 400.2 244.5 400.8 245.4ZM305.4 242.5 307.9 241.7 310.3 238.7 307.1 239.2 306 240 305.3 241.8ZM391.3 237.8 392.1 238.1 392.6 237.3 391.4 235.2 390.7 235 390.4 236.4 390.8 237.3ZM397.8 237.6 398.4 236.8 398 235.5 397.2 234.6 396.5 234.6 396.2 235.5 397.5 237.3ZM313.2 233 314.8 229.8 313.7 231 313.2 232.8ZM405.7 233 406 232.3 405.7 231.6 404.7 230.8 404.1 231 404.3 231.9 405.3 232.8ZM385 229.5 387.1 228.4 385.3 226.3 384.8 226.5 384.4 227.5 384.7 229.3ZM399.9 229.3 401.3 229.3 401.2 228.4 399.7 227.5 399.2 228.4 399.8 229.3ZM396.7 224.5 397.5 224.7 397.7 224.1 397.4 223.3 396.2 222.6 395.8 223.3 396.3 224.1Z" fill="#dae9f2"/>
<path d="M285.5 290.5 288.5 290.8 290.4 290 295.1 290.7 301.2 290.9 304 290.3 307.8 291 310.6 290.3 314.1 290.6 317 289.7 320.3 290.9 326.3 291 332.6 290.4 339.5 291.1 343.9 290.2 347.9 290.6 350.5 289.9 355.9 290.9 363.2 290.2 367.8 290.9 372.5 290.4 385 290.8 388 289.9 389.6 290.9 394.2 291 396.4 290.5 398.6 291.3 401 290.5 402.8 290.8 405.7 290.4 407.4 290.9 410.6 290.1 413.8 291.2 418.9 289.7 421.7 291.1 432 290 434 290.7 437.1 290.3 440.5 290.8 443.7 287.6 441.1 288.9 439.8 288.7 443 287 443.8 285.9 443.7 285 439.9 286.3 439.8 285.2 439 284.8 435.4 287.7 432.3 287.2 430.3 288.7 428.7 289.1 422.9 289.6 421.3 288.2 419.4 287.9 414.8 289.8 414.2 289.6 413.6 288.5 412.3 288.3 408.1 289.8 407.3 289.6 406.7 288.6 403.7 289.2 402.1 288.4 400 289.6 398.7 289.8 397.3 288.3 394.7 289.8 390.7 289.8 390.1 289.5 389.4 287.6 388.1 287.3 385.5 289 382.9 288.8 380 289.6 377.5 288.7 374.6 289.6 372 288.8 369.3 289.6 365.9 289.4 363.2 288.6 355.2 289.6 350.2 287.7 348.9 288 347.7 289.1 343.4 288 335 289.7 331.9 288.3 329.2 288.5 328.2 286.1 328.4 284 328.9 283.4 330.3 283.1 341.5 285.2 344.8 283.6 346.2 283.9 347.8 285.3 351.9 283.3 353.1 284.3 353.5 285.9 354.2 285.6 355.1 284.3 356.9 283.8 358.4 284.3 359.1 285.5 359.8 285.7 364.1 283.9 367.5 285.3 369.6 285.4 373.2 284.3 375 281.7 376.9 283.9 379 284.2 379.9 283.4 380.4 279.6 381.1 279.7 383.6 282.3 384.1 283.7 385.4 284.3 386.2 283.8 386.7 282.5 386.1 279.8 387.2 276.2 388.3 274.4 390.1 272.9 392.4 272.7 393.7 273.5 393.9 274.4 393.6 275.3 390.4 276.7 389.9 278 390 279.4 390.6 279.8 393.2 277.8 394 277.7 394.8 280.7 395.6 280.6 396.3 279.8 396.9 275.3 397.7 273.6 398.5 273 403.7 273.6 407.9 270.8 408.8 275.1 409.4 275.5 414.4 273.6 414.7 272.6 413.8 268.9 414.6 266.5 415.4 266 416.9 266.5 420.4 269.4 422.4 266.2 422.5 265.2 421.7 264.5 417.9 263.7 416.8 262.6 417 260.8 418.4 259 416.9 257.2 416.3 255.4 418.7 254 419 252.7 418.5 251.5 417.7 251.3 416.5 251.8 415.6 254 415.2 253.6 414.9 251.8 415.9 247.2 414.9 244.5 416.2 240.9 415.5 240 412.4 238.2 411.6 236.4 412.6 234.1 414 234.3 417.1 238.2 418 238.4 418.5 238 418.3 235.5 417.6 234.6 414.9 233.7 413 230.2 413.5 229.4 417.8 229.7 418.4 229.3 418.4 228.5 416.5 225.8 414.9 224.9 414.4 225.1 415 227.5 414.7 228.1 411.3 227 409.2 230.2 406.6 229.3 405.9 228.4 406.9 226.7 406.7 225 403.9 221.7 406 221.7 410.3 223.9 411.3 223.6 410.8 221.7 416.5 221.4 417.7 221.7 420.3 223.9 420.8 223.8 420.3 222.5 420.7 221.7 425 221.4 427.2 222.5 432.8 227.4 433.8 227.1 432.1 224.1 428.8 221.7 428.7 221 434 221.9 432.3 220.7 428 220.1 426.6 220.8 415.5 220.5 407.7 220.9 403.8 220.5 400.9 221.4 397.4 220.8 394.8 221.2 391.6 220.9 389.4 221.3 382.5 220.7 380.3 221.1 379.8 221.7 383.7 234.6 384.2 240 383.6 240.7 371.6 240.9 372 259 371.4 280.7 370.6 282 369.9 282.4 367.7 282.6 364.1 282 361.2 282.7 358.3 281.8 351.8 281.6 348.9 282.2 345.9 281.4 338.8 282.4 328.4 281.4 325.8 274.4 325.2 270.8 322.6 265.3 321.7 260.8 319.3 254.5 314.4 250 310.6 247.9 309.5 246.3 310.2 242.7 312.8 235.5 314.9 231.9 316.5 227.5 319.7 221.4 317.6 220.4 313.6 220.9 311.6 220.5 302.7 220.5 299.7 221 298 220.5 295.2 220.8 290.4 220.4 288.8 221.6 291.8 221.7 287.9 224.1 285.5 226.7 285 228.1 287 227.4 293.2 222.4 294.6 222.5 293.3 224.1 293.5 224.9 300.6 221.7 301.7 221.7 301.4 222.5 296 225 293 227.5 292.8 228.4 294.7 229.3 296.9 228.4 302.6 222.5 304.2 221.7 307.9 221.7 305 223.3 303.9 225 304.1 226 309.3 224.1 310.4 222.3 317.3 221.7 315.2 223.3 315.6 224.3 314.3 226.7 311.2 228.4 310.8 229.3 312.3 230.2 311.5 231.9 310.1 233.6 307.5 234.6 305.7 237 304.9 237.2 303.3 236 301.6 236.5 298.4 238.8 295.7 240 295.5 240.9 296.5 241.8 298.1 241.9 301.4 240.7 303.2 242.5 304.6 242.9 303.3 250 300.9 252.7 299.5 256.3 300.9 259 304 260.8 305.2 262.7 307.1 262.6 309.1 261.5 309.9 262.1 310.8 264.5 311.6 265.2 315.3 260.6 316.8 259.7 318.3 259.9 318.3 262.6 317.9 263.5 316.7 264.4 316.4 266.2 317.1 269.8 318.7 274.4 318.2 275.1 315.9 275.2 315.5 276.8 315.8 278 318.1 279.8 319.9 282.5 320.3 284.3 320.1 286.3 319.6 286.7 318.7 286.3 315.6 283.4 316 283.3 316.3 282 315.4 279.4 313.2 279.2 312.5 279.8 312.3 280.9 310 281.6 309.2 282.5 311.2 287.8 304.4 283.4 303.5 280.7 302.3 279.8 301.8 280.7 302.3 282.5 301.7 283.2 298.6 281.4 297.9 281.4 297.5 282.2 297.9 283.4 300.8 285.2 301.8 287 301 289 300 289.4 298 288.5 295.6 288.7 291.9 285.9 290.8 286.3 290.6 287.9 289 287.6 286.5 286.1 285.9 285.2 286.5 283.4 282.3 282.1 279 279.8 277.3 279.8 279 281.5 281.5 282.5 281.4 283.4 278.6 284.1 279 287 278.5 287.4 281.4 290.3 285.4 290.5ZM306.7 289.6 305.9 288.7 306.6 288.2 307.5 288.7 307.5 289.6 306.8 289.6ZM325.1 288.7 323.6 287 323.4 285.8 323.9 285.2 324.7 285.6 325.6 287 325.7 288.2 325.2 288.7ZM313.9 285.2 313.8 283 315.2 283.4 315.5 284.3 315 285.8 314.2 285.5ZM324.9 278.9 322.9 278 323 276.8 324.4 276.5 325.6 277.1 326.5 279.3 324.9 278.9ZM374.1 278.9 373.5 277.1 374 276.1 377.2 277.1 375.2 279.1 374.5 279.3ZM407.1 269.8 406.1 268 406.1 267.1 406.9 265.6 407.7 265.3 410.4 267.1 411.1 268.9 410.4 269.8 408.7 270.5 407.9 270.7 407.2 270.3ZM401.6 268.9 401.2 267.1 401.5 265.9 402.3 265.1 403.1 265.3 404.3 267.1 404.2 268 402.7 269.6 401.9 269.5ZM394.5 262.6 394.5 260.8 395.2 259.9 397 258.7 397.8 259 397.7 261.7 396.2 263.1 394.6 263ZM404.5 262.6 404.2 261.7 404.8 261 405.6 261 405.5 262.4 404.7 262.7ZM386.3 260.8 385.8 259.9 386.1 257.3 386.9 256.4 387.7 256.3 388.4 257.2 388.5 260.8 386.9 261ZM305.4 259 304.3 257.2 304.4 255.9 305.9 257.6 307.4 258.2 307.4 259.4 305.9 259.5ZM314.2 256.3 314.5 255.4 315.3 255.2 316.3 256.3 315.3 257 314.5 256.6ZM400.9 256.3 400.3 255.4 400.5 254.5 401.6 253.4 403.1 253.2 403.8 254.5 403.3 256.3 400.9 256.3ZM306.6 252.7 307.4 248.6 310.4 250 310.2 251.1 307.7 253.4 306.9 253.4ZM390.8 247.2 390.2 245.4 390.8 244.2 391.9 244.5 392.5 246.3 391.9 247.8 391.1 247.5ZM396.4 247.2 396.5 246.3 397.1 245.9 398.1 246.3 398 247.6 397.3 247.8 396.4 247.3ZM407.1 247.2 406 245.4 405.8 243.6 409.4 242.3 410.2 239.6 410.9 239.4 411.8 240 412.2 240.9 411.9 243.4 410.6 244.8 409.5 247.4 408.8 247.9 407.2 247.3ZM400.8 245.4 400.2 244.5 400.6 243.7 401.3 243.6 402 245.4 401.7 246.1 400.8 245.5ZM305.3 241.8 306 240 307.1 239.2 310.3 238.7 307.9 241.7 305.4 242.5ZM390.8 237.3 390.4 236.4 390.7 235 391.4 235.2 392.6 237.3 392.1 238.1 391.3 237.8ZM397.5 237.3 396.2 235.5 396.5 234.6 397.2 234.6 398 235.5 398.4 236.8 397.8 237.6ZM313.2 232.8 313.7 231 314.8 229.8 313.2 233ZM405.3 232.8 404.3 231.9 404.1 231 404.7 230.8 405.7 231.6 406 232.3 405.7 233ZM384.7 229.3 384.4 227.5 384.8 226.5 385.3 226.3 387.1 228.4 385 229.5ZM399.8 229.3 399.2 228.4 399.7 227.5 401.2 228.4 401.3 229.3 399.9 229.3ZM396.3 224.1 395.8 223.3 396.2 222.6 397.4 223.3 397.7 224.1 397.5 224.7 396.7 224.5ZM292.4 284.5 293.4 283.8 293.8 282.5 292.6 280.7 290 280.2 287 278.5 284.3 276.2 280.1 274 280.3 276.2 281.5 278 286.5 279.1 289.7 281.6 292.2 284.3ZM400.2 284.4 401.4 285 402.2 284.8 409 281.6 409.9 280.7 407.3 280.7 402.2 283 400.9 282.4 400.7 280.7 400.1 280.1 399.4 280.7 400.2 284.3ZM438.1 283 438.6 283.3 441.3 281.4 446.3 280.7 447.2 279.8 447.2 278.6 445.8 278.5 442.2 279.8 439.2 281.2 438.2 282.5ZM436.9 280 438.5 279.8 439.5 278 439 277.1 437.3 276.2 436.8 275.3 438.3 271.7 437.9 270.5 437 270.7 433.3 275.3 430.7 276.2 430 277.1 431.4 277.5 433.4 275.9 435.7 275.7 436.6 277.1 436.5 279.8ZM293.9 277.2 294.7 277.2 297 274.4 297.4 270.8 296.6 268 297 267 298.5 266.2 299.2 262.6 299 261.7 297.4 259.9 296.1 257.2 292.8 256.3 291.2 255.3 289.6 257 285.6 258.1 284.7 259 287.2 261.3 291.1 259.7 293.5 261.2 295.6 261.7 296.3 262.6 295.2 264.3 292.2 265.3 293.6 268.9 295.5 269.8 296 270.8 295.5 271.5 294.7 271.4 292.8 269.7 292.1 269.8 291.5 270.8 291.7 271.7 293.5 273.5 293.8 277.1ZM309.3 275.8 310.1 276 311.1 275.3 311.8 274.4 311.8 273.2 310.2 272.8 308.7 273.3 308.4 274.4 308.7 275.3ZM443.4 275.5 445.7 275.3 447.4 274.4 448.2 273.5 448.3 271.5 447.7 271.1 444.2 272.8 442.9 274.4 443.1 275.3ZM303 274.7 303.7 274.6 304.6 271.7 304.3 269.8 303.5 269.4 302 269.5 301.4 270.7 301.8 273.5 302.6 274.4ZM427.5 272.6 430.7 271.7 431.4 270.8 430.4 269.1 428.1 269.3 426.9 266.7 423.9 266.4 423 267.1 423.3 268.9 426.8 272.4 427.4 272.6ZM273.1 270.8 273.9 270.7 274.4 269.5 274.1 268.5 273.2 267.9 272.1 268.9 272.1 269.8 273.1 270.8ZM281.5 270.8 284.8 271.5 285.1 270.8 284.9 268 286.1 266.3 287.5 265.3 287.4 264.4 285.8 263 282.7 262.8 282 266.2 281.6 266.8 279.3 267.4 279.8 269.8 281.4 270.8ZM269.4 268.2 269.6 267.1 268.1 265.1 268.7 268.3ZM441.4 268.1 442.7 267.1 443 264.4 444 262.6 443.7 261.8 442 263.3 438.8 264.4 438.5 265.3 438.8 266.2 441.1 268ZM451.3 268.8 452.1 268.5 453.3 266.4 454.1 266.1 454.7 259.9 454.5 255 453 255.3 452 256.3 451.5 259 449.1 262.6 449.2 264.4 452.1 263.9 452.9 264.4 452.6 266.2 451.2 267.1 450.8 268ZM289.3 267 290.1 266.2 290.1 265.3 287.6 265.3 288.5 266.2ZM280.3 262.1 281.9 262.3 282.8 259.9 282.7 259 281 258.7 279.6 259 279.2 259.9 279.7 261.7ZM425 261.8 426 261.7 426.8 260.8 426.6 258.8 425.9 258.3 424.4 259.9 424.4 261.7ZM437.5 260.1 439.1 260.8 439.9 260.2 440.1 258.1 439.1 257.8 437.7 258.1 437.2 259 437.4 259.9ZM432.9 259.6 434.4 259.6 435.9 258.1 436.3 257.2 435.8 255.4 434.3 254.8 432.9 255.4 432.2 257.2 432.4 259ZM269.3 257.3 270.8 258 273.2 257.1 273.9 255.4 274 253.6 273.6 252.9 272.8 253 269.5 254.3 269 253.6 270.1 250 268.7 249.6 267.9 254.7 268.7 254.9 269.2 257.2ZM441.4 256.8 443.7 257 445.8 256.3 446 255.4 444.6 251.8 443.9 251 442.9 250.9 441.9 253.1 441.1 252.7 440 250.8 437.7 250.9 437.1 251.8 437.3 253.6 439.8 254.5 441 256.3ZM278.8 254.6 282.5 251.8 282.9 250.9 282.6 250 281.7 250 278.8 252.7 278.4 253.6 278.7 254.5ZM296 253.7 296.7 254.1 297.7 252.7 296.1 252.5 295.9 253.6ZM292.3 251.9 294.6 251.8 296.4 248.2 296.2 247.2 293.6 248 291.4 250 292.2 251.8ZM298.5 251.9 300.2 251.8 300.8 250.9 300.7 250 299.5 249.6 298.9 250 298.4 251.8ZM448.7 252 449.4 251.7 449.7 250.9 449.7 250 449 249.2 448.2 249.2 447.3 250 447.5 250.9 448.4 251.8ZM287.9 250 290.5 250 289.1 248.2 287.6 247.7 287 248.2 287.1 249.1 287.9 250ZM290.5 242.1 291.2 242.3 292.2 241.8 293.1 240 293 239.3 290.9 239.1 290.1 240 290.3 241.8ZM431.1 242 432 240.9 431 239.7 430.1 240 430 240.9 430.5 241.8ZM450.6 241.9 451.4 242 449.8 238.7 449.5 240 450.6 241.8ZM445.8 241.2 446.4 240.8 445.5 239 443 237.3 440.5 236.6 440.3 237.3 441 238.2 445.1 240.9ZM276.3 240.2 277.8 240 279 239.1 280.2 237.3 280.3 234.6 283.4 231.9 284.1 230.5 283 230.2 280.9 231 280.3 231.9 280.2 234.6 277.9 236 276.2 236.4 275.9 235.5 278.8 231.9 277.8 231.4 273 238.1 273.7 239.1 275.8 240ZM289.6 238.7 290.3 238.8 290.6 238.2 290.5 236.8 289.5 237.3 289.1 238.2ZM293.9 239 295.5 238.7 297.1 236.8 300.1 235.1 303.2 231.9 303.5 231 302 230.6 300.2 231 295.2 236.4 294.1 238.2ZM432.4 237.8 434.4 237.4 434.7 236.4 429.8 231 429.5 230.2 430.1 229.3 429.9 228.4 428.7 227.3 427.3 227.2 427.4 228.9 426 229.7 427.4 232.8 427.4 234.6 428.1 235.5 431.8 237.3ZM438.6 235.8 438.9 233.7 439.7 233.3 441.8 233.7 445.2 236 446 236.1 446.5 235.5 446.2 234.6 444.2 232.8 437.1 228.4 436.4 228.4 436 229.5 435.3 229.4 432.4 227.7 431.9 227.9 432.2 229.3 434 231.9 437.9 235.5ZM284.4 233.9 284.6 234.6 285.4 234.5 288.2 231 291.2 228.4 291 228.1 288.6 228.4 285.6 230.2 284.4 233.7ZM423.5 234.6 424.8 232.8 423.7 231 422.2 230.2 421.6 231 422.7 233.7ZM306.1 233 306.7 233.3 307.3 232.8 308.3 230.4 306.6 231 306 231.9 306 232.8ZM444.7 231.6 440.9 227.6 440.5 227.9 443.7 231ZM421.8 228.6 423 228.4 420.5 225.8 419.1 225.4 418.2 225.8 419.7 227.5 421.3 228.4ZM307.4 227.6 307.6 228.3 308.3 228.2 310.4 227.1 311.6 225.8 312 225 311.7 224.5 310.1 224.2 309 225 307.4 227.5Z" fill="#edf2f5"/>
<path d="M406.8 307.6 409.6 307.6 413.9 306.4 406.6 307.6ZM334.9 306.7 334.8 306.1 332.8 304.4 331.6 304.1 332 305.1 334.4 306.6ZM341.9 306.7 342.6 306.6 342.4 306.1 343.1 305.6 342.6 304.4 341.9 304.1 341.3 304.4 341.9 305.9 341.3 306.1 341.4 306.6ZM361.2 306.6 363.5 306.6 361.7 305.2 360.9 305.6 361.1 306.6ZM408.1 306.6 417.2 303.8 421.8 299.5 421.1 299.2 420 299.5 416.1 303.1 408.1 306.6ZM315.4 305.7 311.7 304.1 315 305.6ZM328.7 305.6 329.2 305.6 328.7 304.4 326.5 302.8 326.8 304.4 328.7 305.6ZM350.1 305.6 350.7 306 351.2 305.6 350.4 304.4 349.9 304.4 350.1 305.6ZM368.8 305.2 370.2 305.1 370.8 303.4 369.4 303.2 368.8 303.8 368.6 305.1ZM383.4 305.2 384.7 305.1 385.2 303.8 383.8 304.3 383.3 305.1ZM386.3 305.1 387.3 305.1 387.9 304.1 386.9 304.2 386 305.1ZM378.8 304.5 380 304.4 380.3 302.9 379.5 303.1 378.7 304.4ZM363.8 303.2 365.7 303.8 366.3 303.1 364.9 301.7 363.4 301.3 362.9 301.7 363.6 303.1ZM374.5 303.2 375.7 302.4 375.9 301.2 374.6 301.7 374.2 302.4 374.5 303.1ZM392.2 303.4 395.1 302.4 395.1 301.7 394.2 301.4 393.4 301.7 392.1 303.1ZM371.9 301.9 373.2 300.2 373.9 296.3 372.1 292.8 371.5 292.6 369.4 294.1 368.8 293.9 368.7 293 369.6 292 374.8 292 375.4 295.2 376.9 296.5 378 296.8 379.2 296.3 379.7 295.5 380 293 380.6 292.2 382.6 292.2 383 292.9 385.8 293.9 387 293 386.6 292.2 388.2 292.6 391.2 291.8 392.8 292.2 392.3 293.5 390 294.4 387.6 296.3 387.1 297.8 387.4 298.3 390.6 296.3 392.6 293.9 395.6 292.1 394.3 295.5 394.5 297.9 392.6 299.9 392.8 300.4 393.7 300.7 395.8 298.7 397.3 296.3 397.6 294.7 400.1 292.1 400.8 292.2 400 295.3 400.4 295.6 401.3 295.5 402.2 294.7 404.1 292 406.3 292.6 409.5 291.6 410.1 292.2 409.7 293 411.2 293.6 414.6 292.6 411.9 296.3 414.7 297.2 417.3 293.9 418.9 292.9 419.6 293.5 418.7 295.5 418.9 296.1 422.7 295.3 423.2 296.5 423.8 296.5 432.5 292.2 435.9 291.4 437.6 292.2 433.6 295.5 434.1 296 440.5 290.8 437.1 290.3 434 290.7 432 290 421.7 291.1 418.9 289.7 413.8 291.2 410.6 290.1 407.4 290.9 405.7 290.4 402.8 290.8 401 290.5 398.6 291.3 396.4 290.5 394.2 291 389.6 290.9 388 289.9 385 290.8 372.5 290.4 367.8 290.9 363.2 290.2 355.9 290.9 350.5 289.9 347.9 290.6 343.9 290.2 339.5 291.1 332.6 290.4 326.3 291 320.3 290.9 317 289.7 314.1 290.6 310.6 290.3 307.8 291 304 290.3 301.2 290.9 295.1 290.7 290.4 290 288.5 290.8 281.4 290.3 290.1 297.3 290.5 297.1 290.1 296.3 286.7 293.9 285.3 292.2 286.9 291.8 290.8 292.3 293.1 291.4 295.1 292.2 298.2 294.6 300.2 295.3 301.1 294.7 298.2 292 302.6 292.6 305.2 291.8 310.7 293.8 310.2 292.2 311.5 291.6 312.9 291.6 315.2 292.2 315.5 293.9 315.2 294.7 312.6 294.6 313.1 295.5 315.5 297.2 317.3 298 317.8 297.8 319.2 295.5 317.8 293.9 315.2 292.2 316.5 291.2 317.8 291.1 319.5 292.2 321.5 295.5 325.8 297.1 326.1 297.9 325.5 298.8 326.1 300.2 329 301.7 329.5 301.6 328.4 299.5 328.5 297.9 327.3 296.3 324.7 294.7 324.2 293.2 324.4 292.4 327.2 292.9 328.1 292.1 329.4 292 331 292.8 332.7 295 330.7 295.9 330.4 296.3 330.5 297.1 331.5 298.7 333.1 298.9 334.1 298.6 333.7 295.7 335.3 294.7 335.3 292.2 337.5 292.8 340.8 294.7 343.8 298.4 343.7 297.1 344.9 296.4 347.8 298.3 348.3 297.9 348.3 296.3 346.5 292.2 351.1 291.3 354.3 292.2 354.5 293 353.6 293.7 350.4 293.3 350 294.7 350.9 296 353.5 297.4 356.1 293.9 356.8 293.8 357.7 296.3 360 297.4 362.3 300 362.9 296.3 360.6 294.7 358.7 292.2 361.2 291.6 364.5 291.6 366.4 292.2 366.5 293 365.3 295.5 367 298.4 367.7 298.7 368.8 297.1 369.6 296.8 371.3 297.4 371.8 301.7ZM422.6 293 423.2 292.2 425.1 291.7 429.4 292.2 427.1 293 422.8 293.5ZM299.6 298.3 298.4 296.3 294 294.1 295.6 296.3 298.7 297.9ZM311.5 298 312.3 298.2 312.4 297.8 310.7 295.5 307.7 294 306.3 293.9 307.5 295.5 311.4 297.9ZM305.5 297.3 306.3 297.6 305.2 296.3 303.9 295.9 303.9 296.3 305.1 297.1ZM382.6 297.3 383.8 295.7 383.3 295.5 382.5 296.3 382.5 297.1ZM405.1 295.8 406.9 295.9 408.8 293.6 407.7 293.3 406.2 293.6 404.8 295.5ZM429.6 295.7 431.2 295.9 432.8 295.5 433.8 293.9 433 293.4 432.2 293.6 429.6 295.5ZM361.2 282.7 364.1 282 367.7 282.6 369.9 282.4 370.6 282 371.4 280.7 372 259 371.6 240.9 383.6 240.7 384.2 240 383.7 234.6 379.8 221.7 380.3 221.1 382.5 220.7 389.4 221.3 391.6 220.9 394.8 221.2 397.4 220.8 400.9 221.4 403.8 220.5 407.7 220.9 415.5 220.5 426.6 220.8 428 220.1 432.3 220.7 431.3 219.9 427.1 219.4 425.5 219.9 403.2 219.9 400.2 220.5 396.9 220 394.8 220.4 391 220 388.9 220.4 382.2 219.9 379.5 220.4 379.4 222.5 383 234.6 383.5 240 371.6 240.5 370.5 241.8 370.9 250.9 370.5 252.9 369 253.2 368.1 254.5 367.7 256.3 368.2 257.5 369 257.8 369.8 257.6 370.5 256.1 370.9 258.1 370.5 267.8 369.7 266.5 368.9 266.5 368.2 267.1 367.8 268.9 368.1 269.3 369.7 269.3 370.5 268.3 370.8 280 370 280.8 367.1 279.3 363.4 280.4 359.7 279.9 352.4 280.1 349.5 280.7 348 280.1 346.3 278.1 345.6 278 345.4 278.9 344.4 279.8 341.4 280 339.3 280.8 336.8 279.4 334.1 280.2 331.6 279 329.6 280.1 328.6 279.8 326.8 274.4 326.6 270.8 325.9 270.2 324.6 266.2 323.1 263.9 322.9 259.9 322.2 259.5 320 254.5 314.9 249.9 310.6 247.4 310.1 246.3 310.9 242.7 313.4 235.5 316.2 231.9 316.1 229.8 316.6 228.4 321 220.5 317.6 219.7 314.3 220.1 303.6 219.7 300.8 220.1 299 219.7 296.8 220.1 291.5 219.7 290.4 220.4 295.2 220.8 298 220.5 299.7 221 302.7 220.5 311.6 220.5 313.6 220.9 317.6 220.4 319.7 221.4 316.5 227.5 314.9 231.9 312.8 235.5 310.2 242.7 309.5 246.3 310.6 247.9 314.4 250 319.3 254.5 321.7 260.8 322.6 265.3 325.2 270.8 325.8 274.4 328.4 281.4 338.8 282.4 346.6 281.4 348.9 282.2 351.8 281.6 358.3 281.8 360.5 282.5ZM338.8 277.2 339.1 276.2 338.5 274.7 338 276.2 338.5 277.1ZM334.6 273.6 336.9 273.7 337.6 273.2 337.4 270.8 336.6 269.4 335.8 269 335 269.2 333.8 270.8 333.8 272.6 334.4 273.5ZM327.6 272 329.9 271.7 330.6 270.8 329 270.3 327.3 270.8 327.1 271.7ZM345.8 269 346.3 268 345 266.2 343.4 265.8 342.2 266.2 341.9 267.1 342.2 268 345.7 268.9ZM355.8 269.2 357.3 268.2 358.2 266.2 360.4 264.4 360.9 263.5 360.4 261.9 355.7 266.2 355 268 355.4 268.9ZM337.9 264.7 338.7 264.5 339.4 263.5 339.4 261.7 337.1 262.6 337 263.5 337.4 264.4ZM365.9 263.9 366.6 263.9 367.8 262.6 367.4 260.8 366.7 260.4 365.9 260.8 365.6 263.5ZM326.2 260.8 327.7 260.9 329.5 259.9 330.6 259 330.5 258.1 328.5 256.5 324.6 256.3 323.3 258.1 323.3 259.9 326.1 260.8ZM340.2 261.2 342.9 259.9 343.3 259 343.3 257.4 341.7 257.2 341 257.6 340.1 259 340 260.8ZM348.7 261.1 349.5 260.4 349.6 259 348.7 257.9 348 257.9 347.5 259 348.2 260.8ZM354.2 261.3 355.8 261.4 357 260.8 357.4 259 356.9 258.1 354.1 257.2 353.9 260.8ZM363.5 254.9 364.6 254.5 365.5 251.8 366.6 250.5 366.6 249.7 365.8 249.7 365.2 250.9 363.5 251.9 363 253.6 363.3 254.5Z" fill="#f9f0eb"/>
<path d="M311.9 307.6 314.7 307.6 312.8 306.9 316.1 307.6 317.8 307.6 316.3 307 318.9 307.6 353 307.6 353.9 307.2 354.9 307.6 365 307.3 379.1 307.6 379.9 307.3 379.9 307.6 382.9 307.6 386 307.1 386.6 307.3 386.5 307.6 406.6 307.6 413.9 306.4 409.6 307.6 411 307.6 419.8 304.4 426.8 301 434.1 296 433.6 295.5 437.6 292.2 435.9 291.4 432.5 292.2 423.8 296.5 423.2 296.5 422.7 295.3 418.9 296.1 418.7 295.5 419.6 293.5 418.9 292.9 417.3 293.9 414.7 297.2 411.9 296.3 414.6 292.6 411.2 293.6 409.7 293 410.1 292.2 409.5 291.6 406.3 292.6 404.1 292 402.2 294.7 401.3 295.5 400.4 295.6 400 295.3 400.8 292.2 400.1 292.1 397.6 294.7 397.3 296.3 395.8 298.7 393.7 300.7 392.8 300.4 392.6 299.9 394.5 297.9 394.3 295.5 395.6 292.1 392.6 293.9 390.6 296.3 387.4 298.3 387.1 297.8 387.6 296.3 390 294.4 392.3 293.5 392.8 292.2 391.2 291.8 388.2 292.6 386.6 292.2 387 293 385.8 293.9 383 292.9 382.6 292.2 380.6 292.2 380 293 379.7 295.5 379.2 296.3 378 296.8 376.9 296.5 375.4 295.2 374.8 292 369.6 292 368.7 293 368.8 293.9 369.4 294.1 371.5 292.6 372.1 292.8 373.9 296.3 373.2 300.2 371.9 301.9 371.3 297.4 369.6 296.8 368.8 297.1 367.7 298.7 367 298.4 365.3 295.5 366.5 293 366.4 292.2 364.5 291.6 361.2 291.6 358.7 292.2 360.6 294.7 362.9 296.3 362.3 300 360 297.4 357.7 296.3 356.8 293.8 356.1 293.9 353.5 297.4 350.9 296 350 294.7 350.4 293.3 353.6 293.7 354.5 293 354.3 292.2 351.1 291.3 346.5 292.2 348.3 296.3 348.3 297.9 347.8 298.3 344.9 296.4 343.7 297.1 343.8 298.4 340.8 294.7 337.5 292.8 335.3 292.2 335.3 294.7 333.7 295.7 334.1 298.6 333.1 298.9 331.5 298.7 330.5 297.1 330.4 296.3 330.7 295.9 332.7 295 331 292.8 329.4 292 328.1 292.1 327.2 292.9 324.4 292.4 324.2 293.2 324.7 294.7 327.3 296.3 328.5 297.9 328.4 299.5 329.5 301.6 329 301.7 326.1 300.2 325.5 298.8 326.1 297.9 325.8 297.1 321.5 295.5 319.5 292.2 317.8 291.1 316.5 291.2 315.2 292.2 317.8 293.9 319.2 295.5 317.8 297.8 317.3 298 315.5 297.2 313.1 295.5 312.6 294.6 315.2 294.7 315.5 293.9 315.2 292.2 312.9 291.6 311.5 291.6 310.2 292.2 310.7 293.8 305.2 291.8 302.6 292.6 298.2 292 301.1 294.7 300.2 295.3 298.2 294.6 295.1 292.2 293.1 291.4 290.8 292.3 286.9 291.8 285.3 292.2 286.7 293.9 290.1 296.3 290.5 297.1 290.1 297.3 295.6 301 302.6 304.4 311.4 307.6ZM334.4 306.6 332 305.1 331.6 304.1 332.8 304.4 334.8 306.1 334.9 306.7ZM341.4 306.6 341.3 306.1 341.9 305.9 341.3 304.4 341.9 304.1 342.6 304.4 343.1 305.6 342.4 306.1 342.6 306.6 341.9 306.7ZM361.1 306.6 360.9 305.6 361.7 305.2 363.5 306.6 361.2 306.6ZM408.1 306.6 416.1 303.1 420 299.5 421.1 299.2 421.8 299.5 417.2 303.8 408.1 306.6ZM315 305.6 311.7 304.1 315.4 305.7ZM328.7 305.6 326.8 304.4 326.5 302.8 328.7 304.4 329.2 305.6 328.7 305.6ZM350.1 305.6 349.9 304.4 350.4 304.4 351.2 305.6 350.7 306 350.1 305.6ZM368.6 305.1 368.8 303.8 369.4 303.2 370.8 303.4 370.2 305.1 368.8 305.2ZM383.3 305.1 383.8 304.3 385.2 303.8 384.7 305.1 383.4 305.2ZM386 305.1 386.9 304.2 387.9 304.1 387.3 305.1 386.3 305.1ZM378.7 304.4 379.5 303.1 380.3 302.9 380 304.4 378.8 304.5ZM363.6 303.1 362.9 301.7 363.4 301.3 364.9 301.7 366.3 303.1 365.7 303.8 363.8 303.2ZM374.5 303.1 374.2 302.4 374.6 301.7 375.9 301.2 375.7 302.4 374.5 303.2ZM392.1 303.1 393.4 301.7 394.2 301.4 395.1 301.7 395.1 302.4 392.2 303.4ZM298.7 297.9 295.6 296.3 294 294.1 298.4 296.3 299.6 298.3ZM311.4 297.9 307.5 295.5 306.3 293.9 307.7 294 310.7 295.5 312.4 297.8 312.3 298.2 311.5 298ZM305.1 297.1 303.9 296.3 303.9 295.9 305.2 296.3 306.3 297.6 305.5 297.3ZM382.5 297.1 382.5 296.3 383.3 295.5 383.8 295.7 382.6 297.3ZM404.8 295.5 406.2 293.6 407.7 293.3 408.8 293.6 406.9 295.9 405.1 295.8ZM429.6 295.5 432.2 293.6 433 293.4 433.8 293.9 432.8 295.5 431.2 295.9 429.6 295.7ZM422.8 293.5 427.1 293 429.4 292.2 425.1 291.7 423.2 292.2 422.6 293ZM339.3 280.8 341.4 280 344.4 279.8 345.4 278.9 345.6 278 346.3 278.1 348 280.1 349.5 280.7 352.4 280.1 359.7 279.9 363.4 280.4 367.1 279.3 370 280.8 370.8 280 370.5 268.3 369.7 269.3 368.1 269.3 367.8 268.9 368.2 267.1 368.9 266.5 369.7 266.5 370.5 267.8 370.9 258.1 370.5 256.1 369.8 257.6 369 257.8 368.2 257.5 367.7 256.3 368.1 254.5 369 253.2 370.5 252.9 370.9 250.9 370.5 241.8 371.6 240.5 383.5 240 383 234.6 379.4 222.5 379.5 220.4 382.2 219.9 388.9 220.4 391 220 394.8 220.4 396.9 220 400.2 220.5 403.2 219.9 425.5 219.9 427.1 219.4 431.3 219.9 430.4 219.3 426.7 218.7 424.5 219.2 403.7 219.2 399.6 219.7 390.6 219.3 379.2 219.6 378.3 222.5 380.1 225.8 380.7 229.3 381.7 231 382.6 238.5 381.1 238.2 381.2 234.6 379.3 231.9 377.9 231.5 376.5 231.8 374.6 233.2 373.1 232.4 371.7 232.3 370.5 232.8 369 234.6 371.4 235.5 372 240 368.7 240.5 366.4 240.2 364.2 240.9 361.2 241 360.2 240 360.5 238.8 359.7 238.8 359.3 240 359.7 243.6 359 245.4 358.2 245.6 355.9 244 355.1 244 354.7 244.5 354.1 248.2 348.8 252.2 347.8 251.8 346.9 249.1 339.8 247.2 339.4 247.2 339.6 248.2 341.1 250.9 343.1 252.7 342.6 253.2 338.7 253.4 336.5 251.1 334.9 250.8 332.5 252.3 327.8 253.6 324.8 252.7 321.6 253.5 320.1 252.4 317.8 251.8 316.4 250.2 311.1 247.2 310.6 246.3 311.6 242 312.9 239.6 314.9 238.1 316.5 237.5 319 239 321.8 239.9 322.5 239.1 323.2 236.4 325.3 232.8 325.4 230.6 324.6 229.3 320.9 228.4 318.5 229.2 317.5 228.5 318.8 225 321.5 220.9 321.8 219.6 318.2 219.1 315 219.4 304 219 301.7 219.4 300 219 297.6 219.4 292.6 218.9 291.5 219.7 296.8 220.1 299 219.7 300.8 220.1 303.6 219.7 314.3 220.1 318.2 219.7 321 220.5 316.6 228.4 316.1 229.8 316.2 231.9 313.4 235.5 310.9 242.7 310.1 246.3 310.6 247.4 314.9 249.9 320 254.5 322.2 259.5 322.9 259.9 323.1 263.9 324.6 266.2 325.9 270.2 326.6 270.8 326.8 274.4 328.6 279.8 329.6 280.1 331.6 279 334.1 280.2 336.8 279.4 338.9 280.7ZM338.5 277.1 338 276.2 338.5 274.7 339.1 276.2 338.8 277.2ZM334.4 273.5 333.8 272.6 333.8 270.8 335 269.2 335.8 269 336.6 269.4 337.4 270.8 337.6 273.2 336.9 273.7 334.6 273.6ZM327.1 271.7 327.3 270.8 329 270.3 330.6 270.8 329.9 271.7 327.6 272ZM345.7 268.9 342.2 268 341.9 267.1 342.2 266.2 343.4 265.8 345 266.2 346.3 268 345.8 269ZM355.4 268.9 355 268 355.7 266.2 360.4 261.9 360.9 263.5 360.4 264.4 358.2 266.2 357.3 268.2 355.8 269.2ZM337.4 264.4 337 263.5 337.1 262.6 339.4 261.7 339.4 263.5 338.7 264.5 337.9 264.7ZM365.6 263.5 365.9 260.8 366.7 260.4 367.4 260.8 367.8 262.6 366.6 263.9 365.9 263.9ZM326.1 260.8 323.3 259.9 323.3 258.1 324.6 256.3 328.5 256.5 330.5 258.1 330.6 259 329.5 259.9 327.7 260.9 326.2 260.8ZM340 260.8 340.1 259 341 257.6 341.7 257.2 343.3 257.4 343.3 259 342.9 259.9 340.2 261.2ZM348.2 260.8 347.5 259 348 257.9 348.7 257.9 349.6 259 349.5 260.4 348.7 261.1ZM353.9 260.8 354.1 257.2 356.9 258.1 357.4 259 357 260.8 355.8 261.4 354.2 261.3ZM363.3 254.5 363 253.6 363.5 251.9 365.2 250.9 365.8 249.7 366.6 249.7 366.6 250.5 365.5 251.8 364.6 254.5 363.5 254.9ZM375.4 240 376.5 234.6 377.6 234.2 378.6 234.6 379 236.4 377 238.2 377.9 240 376.1 240ZM337.4 240.1 338.8 240.3 339.8 239.1 339.1 238.3 338.4 238.4 337.4 239.1 337.3 240ZM365.6 239.2 366.4 239.8 367.6 239.1 367.7 236.4 366.3 236.4 365.6 237.4 365.6 239.1ZM361.2 238 362 235.5 361.9 234.2 361.2 234 361 237.3Z" fill="#fce2d2"/>
<path d="M327.8 253.6 332.5 252.3 334.9 250.8 336.5 251.1 338.7 253.4 342.6 253.2 343.1 252.7 341.1 250.9 339.6 248.2 339.4 247.2 339.8 247.2 346.9 249.1 347.8 251.8 348.8 252.2 354.1 248.2 354.7 244.5 355.1 244 355.9 244 358.2 245.6 359 245.4 359.7 243.6 359.3 240 359.7 238.8 360.5 238.8 360.2 240 361.2 241 364.2 240.9 366.4 240.2 368.7 240.5 372 240 371.4 235.5 369 234.6 370.5 232.8 371.7 232.3 373.1 232.4 374.6 233.2 376.5 231.8 377.9 231.5 379.3 231.9 381.2 234.6 381.1 238.2 382.6 238.5 381.7 231 380.7 229.3 380.1 225.8 378.3 222.5 379.2 219.6 390.6 219.3 399.6 219.7 403.7 219.2 424.5 219.2 426.7 218.7 430.4 219.3 429.4 218.6 426 217.9 419.7 218.6 412.2 218.6 410.1 218.2 408.3 218.6 405.6 218.2 400.1 219 378.9 218.9 378.3 220.4 376.5 221.7 378.6 225.8 378.2 227.5 378.8 230.2 378.4 230.4 375.1 231.2 361.2 231.7 360.1 236.4 359 237.3 356.1 237.1 353.8 238.1 351.7 237.7 348.7 238.3 345.8 237.8 344.1 238.2 341.9 239.7 340.9 238.2 339.3 237.2 336.2 238 332.6 237.5 326 237.7 325 237.3 324.9 235.5 326.6 231.9 326.1 227.5 323.3 227.7 321 227 319.6 225 320.2 223.3 322.1 220.9 322.5 218.7 317.8 218.3 306.7 218.6 305.1 218.1 298.5 218.8 293.8 218.2 292.6 218.9 297.6 219.4 300 219 301.7 219.4 304 219 315 219.4 318.2 219.1 321.8 219.6 321.5 220.9 318.8 225 317.5 228.5 318.5 229.2 320.9 228.4 324.6 229.3 325.4 230.6 325.3 232.8 323.2 236.4 322.5 239.1 321.8 239.9 319 239 316.5 237.5 314.9 238.1 312.9 239.6 311.6 242 310.6 246.3 311.1 247.2 316.4 250.2 317.8 251.8 320.1 252.4 321.6 253.5 324.8 252.7 327.6 253.6ZM321.5 250 322.1 246.3 320.7 246.1 318.2 247.9 315.9 248 312 246.3 311.7 245.4 312.1 244.5 313.5 242.7 316.4 240.6 318 240.2 319.4 240.6 321.8 242.7 323.1 245.4 325.3 245.4 325.7 246.3 325.8 248.2 325.2 249.1 323.4 250.5 321.8 250.4ZM337.3 240 337.4 239.1 338.4 238.4 339.1 238.3 339.8 239.1 338.8 240.3 337.4 240.1ZM365.6 239.1 365.6 237.4 366.3 236.4 367.7 236.4 367.6 239.1 366.4 239.8 365.6 239.2ZM361 237.3 361.2 234 361.9 234.2 362 235.5 361.2 238ZM376.1 240 377.9 240 377 238.2 379 236.4 378.6 234.6 377.6 234.2 376.5 234.6 375.4 240Z" fill="#fbccb4"/>
<path d="M321.8 250.4 323.4 250.5 325.2 249.1 325.8 248.2 325.7 246.3 325.3 245.4 323.1 245.4 321.8 242.7 319.4 240.6 318 240.2 316.4 240.6 313.5 242.7 312.1 244.5 311.7 245.4 312 246.3 315.9 248 318.2 247.9 320.7 246.1 322.1 246.3 321.5 250ZM341.9 239.7 344.1 238.2 345.8 237.8 348.7 238.3 351.7 237.7 353.8 238.1 356.1 237.1 359 237.3 360.1 236.4 361.2 231.7 375.1 231.2 378.4 230.4 378.8 230.2 378.2 227.5 378.6 225.8 376.5 221.7 378.3 220.4 378.9 218.9 400.1 219 405.6 218.2 408.3 218.6 410.1 218.2 412.2 218.6 419.7 218.6 426 217.9 429.4 218.6 427.6 217.5 422.8 216.3 409.4 211 407.2 210.4 402.9 210.4 406 212.4 408.5 213.3 408.8 212.5 406 210.7 409.8 211.4 422 217 415 217.6 412.1 217.1 411.8 217.7 411.3 217.8 408.4 216.8 407.9 217.7 407.5 217.8 404 216.7 401.8 217.2 401.7 217.8 400.7 218.3 398.1 218 378.6 218 378 219.5 374.4 220.1 374.4 220.9 375.9 223.3 375.8 225.8 377.1 228.4 377 230.2 361.2 231 360.5 231.9 359.8 235.5 359 235.9 356.1 235.8 353.9 236.5 351.8 236.3 348.8 237.1 345.2 236.8 342.2 237.3 339.4 236.4 335.7 236.6 332.2 236 326.5 235.8 326.4 234.6 327.6 231.9 327.2 229.3 327.4 226 323.8 226.7 322.2 226.1 321.5 225 321.7 223.3 324 220.9 323 219.5 323.5 217.8 326.5 214.8 324.1 215.6 323.6 217 320.8 217.6 318.8 217 321.3 214.9 323.5 213.6 333 210.4 329.8 210.4 326.9 211.3 328.4 210.4 318.9 210.4 315.5 211.4 312.5 212.9 313.3 213.3 310.5 216.2 310.2 217 308.5 217.6 307.4 217.6 307.1 217 310.9 213.6 303.5 216.9 300.4 217.8 299.3 217.8 299.2 217.2 296.7 217.4 296.4 216.6 293.8 218.2 298.5 218.8 305.1 218.1 306.7 218.6 317.8 218.3 322.5 218.7 322.1 220.9 320.2 223.3 319.6 225 321 227 323.3 227.7 326.1 227.5 326.6 231.9 324.9 235.5 325 237.3 326 237.7 332.6 237.5 336.2 238 339.3 237.2 341.7 239.1ZM310.7 217 315.4 214.7 314 216.8 315.5 216.4 320.1 212.9 322.2 212.1 324.6 211.9 317.7 215.6 315.7 217.1 310.8 217.1ZM371.8 227.4 372.5 227.4 372.2 225.7 371.5 225.6 371.3 226.7ZM301.1 216.4 303.5 215.9 314 211.2 306.3 213.6 301.1 216.3ZM416 216.4 416.5 216.3 415.8 215.6 412.5 214.3 415.7 216.3ZM401.1 211.9 402.5 212.2 397.9 210.4 394.7 210.4 401 211.9ZM414.5 211.6 415 211.7 411 210.4 408.7 210.4 413.6 211.4Z" fill="#f6b394"/>
<path d="M334.3 236.4 339.4 236.4 342.2 237.3 345.2 236.8 348.8 237.1 351.8 236.3 353.9 236.5 356.1 235.8 359 235.9 359.8 235.5 360.5 231.9 361.2 231 377 230.2 377.1 228.4 375.8 225.8 375.9 223.3 374.4 220.9 374.4 220.1 378 219.5 378.6 218 398.1 218 400.7 218.3 401.7 217.8 401.8 217.2 404 216.7 407.5 217.8 407.9 217.7 408.4 216.8 411.3 217.8 411.8 217.7 412.1 217.1 415 217.6 422 217 411 211.9 406.7 210.6 406 210.7 408.8 212.5 408.8 213.2 407.2 212.9 402.9 210.4 401.2 210.4 402.2 211 401.8 211.2 397.9 210.4 402.5 212.2 402.1 212.2 394.7 210.4 378.3 210.4 378.9 211 378.1 210.4 373.7 210.4 376.2 213.6 377.6 216.3 377.7 218.6 376.6 218.9 373.9 217.8 371.5 214.9 371 214.9 369.8 216.2 367.7 214.9 366.3 214.5 365 216.9 363.5 216.3 363.3 214.2 365.9 212.7 367 211.5 369.4 212.1 372.5 211.9 373.1 211.4 372.2 210.7 350.4 210.4 350.7 210.7 350.2 211.3 349.8 210.7 350.4 210.4 341.2 210.4 337.7 212.9 334 218.5 334.3 221 336.7 221 337.2 221.4 337.5 225.2 340.2 222.9 345.5 221.6 347.2 221.7 349.5 222.5 351.4 222.2 353.2 220.9 353.7 219.1 354.9 218.7 355.4 219.3 354.2 221.7 354.3 223.4 355.6 223.7 356.9 222.8 358.6 225.7 359.2 226.2 361.2 226.1 361.9 226.4 363.5 228.4 363.6 229.3 363.1 230.2 360.5 230.7 359.8 233.4 358.3 234.5 351.9 234.9 348.2 236 335.3 235.4 330.2 233.7 329.7 230 328.4 228.4 329 225.4 328.8 224.6 324.5 225.5 323.4 225 323.2 224.3 325.6 220.9 325.2 219.6 323.7 218.6 324.1 217.8 328.6 213.6 333.5 210.4 333 210.4 323.5 213.6 321.3 214.9 318.8 217 320.8 217.6 323.6 217 324.1 215.6 326.5 214.8 323.5 217.8 323 219.5 324 220.9 321.7 223.3 321.5 225 322.2 226.1 323.8 226.7 327.4 226 327.2 229.3 327.6 231.9 326.4 234.6 326.5 235.8 334.2 236.4ZM371.3 226.7 371.5 225.6 372.2 225.7 372.5 227.4 371.8 227.4ZM358.4 217 357.9 215.6 360.3 212.7 361.8 212.4 362.3 212.9 362.2 213.9 360.5 214.9 359.6 216.9 358.5 217ZM383.2 217 380.2 216.8 379.4 216.3 377.1 213.6 376 211.2 378.6 212.7 382.4 212.7 388.6 215.1 388.5 212 390 212.4 391.9 213.9 391.7 214.9 392.3 216.3 391.9 217 388.4 216.8 384.8 214.9 384.9 217 383.6 217.1ZM398.6 217 393.5 212.9 396.5 214.2 399.9 217 399.1 217.2ZM341.1 216.3 341.3 215.6 342.7 215 342.1 216.3 341.3 216.5ZM348.1 216.3 347.8 215.6 348.7 214.2 350.9 212.5 352.3 212.5 351.6 214.2 349.2 216.3 348.3 216.4ZM415.7 216.3 412.5 214.3 415.8 215.6 416.5 216.3 416 216.4ZM355.2 214.2 354.7 213.6 355.1 212.6 356.8 212.9 357.1 213.6 356.6 214.7 355.6 214.5ZM384.6 211.9 383.5 211 385.3 211.4 386.1 212.3 385 212.1ZM328.5 221.8 328.9 222.1 330.1 221.7 330.7 220.2 329.5 220.1 328.4 220.9 328.2 221.7ZM299.4 217.8 303.5 216.9 310.9 213.6 307.1 217 307.8 217.7 310.2 217 310.5 216.2 313.3 213.3 312.5 212.9 315.5 211.4 318.9 210.4 310.4 210.7 302.6 213.6 296.4 216.6 296.7 217.4 299.2 217.2 299.3 217.8ZM301.1 216.3 306.3 213.6 314 211.2 303.5 215.9 301.1 216.4ZM310.8 217.1 315.7 217.1 317.7 215.6 324.6 211.9 322.2 212.1 320.1 212.9 315.5 216.4 314 216.8 315.4 214.7 310.7 217ZM426.7 217.3 427.6 217.5 422.7 214.9 415 211.7 407.2 210.4 422.8 216.3 425.8 217Z" fill="#ec9374"/>
<path d="M338.1 235.5 348.2 236 351.9 234.9 358.3 234.5 359.8 233.4 360.2 231 363.1 230.2 363.5 228.4 361.2 226.1 359.2 226.2 358.8 225.8 356.9 222.8 355.6 223.7 354.3 223.4 354.2 221.7 355.4 219.3 354.9 218.7 353.7 219.1 353.2 220.9 351.4 222.2 349.5 222.5 347.2 221.7 345.5 221.6 340.2 222.9 337.5 225.2 337.2 221.4 336.7 221 334.3 221 334 218.5 337.7 212.9 341.2 210.4 339.7 210.4 335.5 213.6 334.4 214.9 333 217.8 332.1 218.5 327.5 219.6 324.8 218 325.2 217 327.5 214.9 333.8 210.4 333.5 210.4 328.6 213.6 324.1 217.8 323.7 218.6 325.2 219.6 325.6 220.9 323.2 224.3 323.4 225 324.5 225.5 328.8 224.6 329 225.4 328.4 228.4 329.7 230 330.2 233.7 332.7 234.2 334.6 235.2 338 235.5ZM345.7 234.6 342.8 233.3 340.5 234.4 339.1 234.2 337.4 231.9 337.6 229.3 340.1 227 343.8 225.5 345.6 226 348.3 225.4 349.5 226.7 350.6 227.1 352.9 225.2 355.2 228 356.2 231 352.1 232.5 349.4 231.4 348.4 231.9 348.6 233.7 348.1 234.6 346.1 234.7ZM330.5 225.8 331.2 223.3 332.2 222.8 332.2 224.1 330.6 226.1ZM328.2 221.7 328.4 220.9 329.5 220.1 330.7 220.2 330.1 221.7 328.9 222.1 328.5 221.8ZM375.4 218.6 376.6 218.9 377.7 218.6 377.9 217 376.7 214.2 373.7 210.4 370.1 210.4 372.8 211 373.1 211.4 372.5 211.9 369.4 212.1 367 211.5 365.9 212.7 363.3 214.2 363.3 215.8 364.5 216.9 365.5 216.3 366.3 214.5 367.7 214.9 369.8 216.2 371 214.9 371.5 214.9 373 217 375.2 218.5ZM376.6 217 374.7 213.6 375.1 213.1 377.1 217.1ZM358.5 217 359.6 216.9 360.5 214.9 362.2 213.9 362.3 212.9 361.8 212.4 360.3 212.7 357.9 215.6 358.4 217ZM383.6 217.1 384.9 217 384.8 214.9 388.4 216.8 391.9 217 392.3 216.3 391.7 214.9 391.9 213.9 390 212.4 388.5 212 388.6 215.1 382.4 212.7 378.6 212.7 376 211.2 377.1 213.6 379.4 216.3 380.2 216.8 383.2 217ZM399.1 217.2 399.9 217 396.5 214.2 393.5 212.9 398.6 217ZM341.3 216.5 342.1 216.3 342.7 215 341.3 215.6 341.1 216.3ZM348.3 216.4 349.2 216.3 351.6 214.2 352.3 212.5 350.9 212.5 348.7 214.2 347.8 215.6 348.1 216.3ZM330.9 214.4 333.3 214.5 334.9 213.6 335.2 212.8 332.2 212.2 331 212.9 330.8 214.2ZM355.6 214.5 356.6 214.7 357.1 213.6 356.8 212.9 355.1 212.6 354.7 213.6 355.2 214.2ZM385 212.1 386.1 212.3 385.3 211.4 383.5 211 384.6 211.9Z" fill="#dd7059"/>
<path d="M346.1 234.7 348.1 234.6 348.6 233.7 348.4 231.9 349.4 231.4 352.1 232.5 356.2 231 355.2 228 352.9 225.2 350.6 227.1 349.5 226.7 348.3 225.4 345.6 226 343.8 225.5 340.1 227 337.6 229.3 337.4 231.9 339.1 234.2 340.5 234.4 342.8 233.3 345.7 234.6ZM345.4 230.2 344.8 229.3 345.8 228.4 346.4 228.5 346.6 229.3 345.4 230.2ZM330.6 226.1 332.2 224.1 332.2 222.8 331.2 223.3 330.5 225.8ZM327.1 219.4 328.1 219.7 332.5 218.3 334.8 214.2 339.7 210.4 333.8 210.4 330.6 212.4 324.7 217.8 327 219.3ZM328.7 217.8 329.6 216.9 331.1 217 330.7 217.8 328.8 217.9ZM330.8 214.2 331 212.9 332.2 212.2 335.2 212.8 334.9 213.6 333.3 214.5 330.9 214.4ZM377.1 217.1 375.1 213.1 374.7 213.6 376.6 217Z" fill="#cc4c44"/>
<path d="M345.4 230.2 346.6 229.3 346.4 228.5 345.8 228.4 344.8 229.3 345.4 230.2ZM328.8 217.9 330.7 217.8 331.1 217 329.6 216.9 328.7 217.8Z" fill="#ba2832"/>
<path d="M295.3 220.3 298.5 218.8 299.8 218.4 301.1 218.1 302.4 217.7 303.7 217.4 304.3 217.5 304.9 217.6 305.5 217.8 306.2 217.9 307 218 307.7 218.1 308.4 218.2 309 218.3 309.6 218.4 310.2 218.5 311.3 218.3 312.4 218.2 313.4 218 314.1 218.1 314.8 218.2 315.6 218.3 316.3 218.4 317 218.5 317.7 218.6 318.5 218.8 319.2 218.9 319.9 219 320.7 219 321.4 219.1 322.2 219.1 322.9 219.1 323.7 219.1 326.2 217.5 326.6 218.1 327 218.8 328.2 218.5 329.3 218.3 329.5 219.5 328.2 220.3 326.9 221.1 325.8 221.7 324.6 222.2 323.4 222.7 322.2 223.3 321.8 225 322.6 225.3 323.5 225.6 324.4 225.9 324.9 227.5 326 228.1 326.8 226.8 327.7 225.5 328.5 224.4 329.3 223.3 329.6 221.9 330.3 222.1 331 222.3 331.8 222.5 332.1 223.9 333.2 223.5 334.3 223.1 334.5 224.3 334.8 225.5 335.5 226.7 336.3 227.8 335.2 228.4 334.2 229 332.9 229.3 331.7 229.6 331.4 231 332.9 231.6 331.6 232.1 330.3 232.5 329.3 232.8 328.2 233.1 328 233.9 326.9 234.2 325.9 234.6 324.5 236.1 324 237.9 322.5 239 321 240 321 241.4 321 242.7 320.5 243.8 319.8 242.1 319.3 240.9 318.1 240.9 316.8 240.8 315.6 241 314.3 241.2 312 243.3 311.8 244.5 311.6 245.7 312.4 247.7 313.5 247.7 314.7 247.7 315.1 246.3 316.9 246 316.5 247.7 316 249.4 317 249.5 318 249.7 318 251 318.1 252.4 319 253.6 320.3 253.4 321.1 253.9 321.2 254.1 319.8 254.6 318.2 254 316.8 252.1 315.8 251 314.9 250.6 313.9 250.3 312.9 249.9 311.9 249.5 310.9 249.1 309.9 248.8 308.7 247.7 307.4 246.6 307.9 245.4 307 244.5 306.2 243.6 305.6 242.4 305 241.2 304.4 240 304.6 241.4 304.9 242.7 305.4 245 304.6 244.1 303.5 242.1 303.4 240.8 303.4 239.4 302.1 238.2 301.9 236.4 302 234.6 302.6 233.1 304 231 304.4 229.9 305.4 229.6 304.6 229 303.9 228.4 304.6 226.4 304.5 224.7 304.1 224.3 303.6 223.9 302.7 223.3 301.9 223.1 301.1 222.9 299.6 223.2 298.1 223.6 295.8 224.7 294.7 225 293.5 225.3 292.1 225.7 290.7 226.1 293 225.1 295.3 224 294.5 223.8 293.7 223.6 293.4 222.7 295.1 221.4 296.2 221.1 297.3 220.9 296.2 220.9 295.2 220.9ZM321.2 254 322.2 252.7 324 251.8 325 252.2 326.1 252.7 327.4 252.6 328.6 252.6 330.1 253.9 331.6 255.4 332.9 255.7 334.2 256 335.2 257.9 336 259.6 337.2 260.1 338.4 260.5 339.7 260.8 341 261.1 342 261.7 343 262.3 343.1 264.4 342.2 265.6 341.4 266.8 341.3 268.2 341.2 269.5 340.6 271.7 338.9 272.9 337.9 273.6 337 274.4 336.8 276.2 336 277.7 335.3 279.2 334.3 280.1 332.7 279.8 333.5 281.3 332.4 281.9 331.4 282.5 331.4 283.7 330.4 284.3 331.2 286.1 330.1 287 331.3 287.8 330.3 289.6 330.9 290.5 332.4 291.9 330.8 291.9 329.5 291 328.1 290.2 327.4 289 326.7 287.8 326.6 286.5 326.4 285.2 326.1 283.9 325.8 282.6 325.5 281.3 325.5 279.9 325.5 278.5 325.5 277.1 325.4 275.7 325.3 274.3 325.3 272.9 325.3 271.5 325.2 270.1 323.7 268.8 322.1 267.4 321.4 266 320.7 264.6 320 263.2 319.1 262 319.7 260.2 319.7 258.4 320.4 257.5 321 255.4ZM339.9 214.2 340.9 213.7 341.9 213.3 342.9 212.9 343.6 212.9 344.4 212.9 345.1 212.8 345.8 212.8 346.5 212.7 347.2 212.7 347.9 212.6 348.6 212.6 349.3 212.6 349.9 212.5 350.6 212.5 351.3 212.4 351.9 212.4 352.5 212.7 353.1 213 353.7 213.3 354.4 213.7 354.8 214.6 353.9 215.7 352.7 217.5 351.6 217.8 350.4 218.2 349.3 218.8 348.1 219.5 346.9 220.2 345.5 221.2 344.1 222.2 343.4 223 342.6 222.6 341.9 222.1 341 220.9 340.9 219.2 340.6 218.2 340.4 217.2 340.4 215.3 340.1 214.7ZM358.5 237.3 356.8 236.7 356.9 235.1 357 233.4 357.4 232.7 358.5 232.8 359.5 232.8 360.5 232.9 360.6 231.3 359.1 230.2 360.5 229.7 361.9 229 363 228.1 363.6 227.2 364.9 226.8 364.8 225 365.7 224.6 365.6 226.6 366.4 226.6 367.3 226.7 368.4 226.5 369.5 226.4 370.2 225 371 223.6 371.9 223.5 372.8 223.4 373.6 223.3 372.8 223.2 372 223.2 371.1 223.1 370.3 223 369.9 221.7 370.6 221.1 371.3 220.6 369.8 220.2 369.1 221 368.3 221.9 368.9 223.3 368.2 225 366.8 225.8 365.8 224 364.6 224.4 363.5 223.9 363.2 222.2 364.2 221.7 365.2 221.1 365.9 220.2 366.6 219.3 367.4 218.6 368.3 218 369.1 217.8 369.8 217.7 370.6 217.5 371.7 217.8 372.8 218 373.6 218.3 374.4 218.5 375.3 218.8 376.1 219 376.9 219.3 376.1 219.5 375.2 219.8 376 219.9 376.8 220.1 377.6 219.9 378.3 219.8 377.9 218.8 378.8 218.8 379.7 218.8 380.6 218.8 381.5 218.8 382.3 218.7 383.2 218.6 384 218.1 385 218.3 386 218.5 387 218.8 386.6 217.7 386.1 216.6 387.1 217.1 388.1 217.5 389.3 219 389.4 217.9 389.4 216.8 389.8 216.3 390.5 216.2 391.3 216.1 392.1 216 392.5 215.8 393 215.6 393.5 215.3 393.9 215.1 394.5 214.9 395 214.7 395.6 214.5 396.1 214.3 397.4 214.8 398.8 215.3 400.2 215.8 401.6 216.3 402.4 216.4 403.3 216.4 404.1 216.5 405 216.6 405.8 216.6 406.7 216.7 407.5 216.8 408.2 216.8 409 216.8 409.7 216.8 410.4 216.8 411.1 216.8 411.9 216.8 412.7 216.9 413.6 217 414.4 217.1 415.3 217.2 416.2 217.3 417.1 217.4 418.1 217.6 419 217.7 420 217.9 420.9 218 421.7 218 422.4 218 423.2 218 423.9 218 424.7 218 425.6 218.1 426.5 218.2 427.4 218.3 428.3 218.4 429.2 218.5 430.7 219.5 432.2 220.6 433.7 221.9 433.2 222.2 432.8 222.5 432.3 222.7 431.7 222.9 431 223.1 430.4 223.2 429.8 223.4 429.1 223.6 429.8 224.8 430.3 226 430.8 227.2 431.2 228.4 430 227.2 428.7 225.9 427.4 224.7 427.1 223.6 426.6 222.5 426.2 222.8 425.7 223.1 425.2 223.4 424.7 223.7 423.8 223.7 422.8 223.7 421.9 223.7 420.9 223.7 420.9 224.6 420.9 225.5 420.9 226.4 422.2 227 423.6 227.5 424.4 228.7 425.2 229.9 425.3 231.5 425.3 233.1 424.2 233.3 423.1 233.4 422.9 234.4 423.6 236 424.2 237.6 423.3 238.2 422.2 236.4 421 235 419.1 234.4 420.4 236.7 419.7 237.9 421 239.7 422 240.9 421.8 242.3 421.5 243.6 420.3 245.1 419 245.6 417.7 246 417.3 246.8 416.4 245.9 415.3 247.2 415.2 247.9 415.9 249.1 416.7 250.3 417.4 251.5 416.5 252.6 415.5 253.8 414.3 252.3 413 250.9 412.6 253 413.1 255.1 414.9 256.9 415 258.2 413.6 257.3 413.2 255.7 412.1 254 412 252.4 412 250.9 411.3 249.1 409.7 249.4 409.2 247.5 408.2 246.3 407 245.7 405.4 246.2 404.6 247.2 403.5 248.5 402.5 249.7 402.5 251.2 402.5 252.8 401.3 254.2 400.7 253.3 400 251.6 399.3 250 398.8 248.8 398.4 247.5 398.2 246 396.3 245.6 395.8 244.7 394.8 243.7 393.5 243.8 392.3 243.8 391.2 243.6 390.1 243.5 389.6 242.7 388.5 242.5 387.3 242.2 386.2 240.9 385.1 240.9 385.5 242.1 386.4 243.2 387.3 244.2 388.5 244.4 389.6 243.2 390 244.5 391.6 245.4 390.7 247.5 389.4 248.8 387.9 249.7 386.8 250.2 385.6 250.7 384.4 251.2 383.6 251.3 383.2 250 382.5 248.7 381.8 247.3 381.1 246 380.4 244.7 379.6 243.4 378.8 242.1 378.4 241.2 377.5 241 378.1 242.7 379.2 244.6 379.7 246.2 380.3 247.9 381.2 249.4 382.6 250.9 383.5 252.1 384.2 252.7 385.3 252.5 386.5 252.2 387.6 251.9 387.6 252.7 387.2 254 386.9 255.4 385.8 256.6 384.8 257.8 383.8 259 382.5 260.2 381.7 262 381.5 263.8 382.1 265.3 382.1 266.7 382 268 380.2 269.5 379 271.7 379.2 273.5 377.7 274.7 377.5 276.2 376.4 277.7 374.7 279.2 373.5 279.3 372.3 279.5 371 280 370.3 279.6 370.1 278.3 369.5 276.2 368.8 275 368.7 273.8 368.6 272.6 368 271.2 367.3 269.8 367.3 269.1 367.7 267.7 368.2 266.2 368 264.4 367.4 262.6 366.1 260.5 366.1 258.4 366.2 256.7 365.6 256.3 364.3 256.4 363.3 255.1 361.7 255.4 360.2 256.1 358.7 256.2 357.3 256.3 356.3 255.6 355.2 254.8 354.2 253.3 352.5 251.5 352.2 250.1 352.5 248.7 352.9 247.2 352.5 246.3 353.6 244.2 354.7 242.4 356.3 241 356.5 239.4 357.9 238.5 358.3 237.4 360.2 237.8 361.4 237.3 362.7 236.8 363.8 236.7 364.9 236.6 366 236.5 366.3 237.6 366.1 238.4 366.9 239 368.6 239.5 369.6 240.1 370.7 240.7 371.1 240 371.6 239.2 372.6 239.6 373.6 239.9 374.7 240.1 375.9 240.4 376.8 240 378.2 240.1 378.5 239.1 378.7 237.4 378.8 236.9 378 236.8 376.8 237.1 376.1 237.1 374.8 236.8 374 235.8 373.7 234.9 372.6 234.4 372.2 234.7 372.1 235.8 372.6 236.2 372.2 237.1 371.5 236.3 370.9 235.2 370.4 233.8 369.4 233.2 368.5 232.5 367.6 231.6 366.9 231.8 367.1 232.5 367.8 233.4 368.8 234.1 370 234.8 369.4 235.5 369.2 236 368.8 236.1 368.7 234.9 367.9 234.1 366.9 233.8 366.1 233.1 365.3 232.3 364 233.1 362.7 233.1 362.7 233.8 361.4 234.6 361.1 235.5 361.2 235.7 360.9 236.3 360.1 236.9 359.1 236.9ZM358.6 229 359.7 228.8 360.8 228.5 361.8 228.3 362 227.4 361.2 227 360.5 225.8 360.4 224.6 359.7 224.1 359.1 224.1 358.5 225.3 359.1 226.2 359.9 226.8 358.9 228 359.9 228.3ZM418.7 272.3 418.7 273.6 418.6 275 418.4 276.5 418.2 278 417.9 279.5 418.9 280.2 420.4 279.8 421.9 279.4 423.5 278.5 424.9 278.2 426.2 278 427.5 278.8 427.8 280 429.3 278.6 428.6 280.5 429 281.6 430.3 282.4 431.7 282.5 433.9 281.6 434.8 280.4 435.7 279.2 437 277.7 438.1 276.2 438.5 274.1 437.6 272.6 436.9 271.5 436.1 270.5 436 269.2 436 268 435.1 267.4 434.8 265.4 434.1 266.8 434 268 433.8 269.2 432.9 269.7 431.3 268.3 431.8 266.4 430.7 266.1 429.6 265.9 428.2 266.8 427.8 268 426.6 267.3 425.5 268 424 269.2 423 270.8 421.9 271.1 420.8 271.5 419.2 272.2ZM301.1 303.8 301.8 303.8 302.5 303.8 303.1 303.8 303.8 303.8 304.5 303.8 305.1 303.8 305.8 303.8 306.5 303.8 307.1 303.8 307.8 303.8 308.3 303.7 308.8 303.6 309.3 303.5 309.8 303.4 310.3 303.4 310.7 303.2 311.1 303 311.4 302.8 311.8 302.6 312.2 302.4 312.8 302.3 313.4 302.2 313.9 302.1 314.5 302 315.1 302 315.7 301.9 316.4 301.9 317 301.8 317.7 301.8 318.3 301.7 319.1 301.8 319.9 301.8 320.7 301.9 321.4 301.9 322.2 302 322.8 301.9 323.4 301.8 324 301.7 324.6 301.6 325.2 301.5 326 301.5 326.7 301.5 327.4 301.5 328.1 301.5 328.8 301.5 329.6 301.5 330.3 301.5 331 301.5 331.7 301.5 332.4 301.5 332.8 300.7 333.2 300 333.8 299.5 334.3 299 334.9 298.5 335.5 298 336 297.6 336.6 297.1 337.4 296.8 338.3 296.5 337.8 297.9 337.9 299 338.1 300 339 301 339.9 302 340.5 302.9 341.3 303.1 342.1 303.3 342.9 303.4 343.7 303.6 344.5 303.8 345.2 303.7 345.9 303.7 346.6 303.6 347.2 303.5 347.9 303.5 348.6 303.4 349.3 303.4 350 303.1 350.7 302.7 351.4 302.4 352 302.2 352.7 302 353.3 301.7 354 301.5 354.7 301.3 355.4 301.1 356.1 300.9 356.8 300.7 357.5 300.5 358.2 300.4 359 300.3 359.7 300.2 360.5 300.1 361.2 300 361.9 300 362.7 300 363.4 300 364.2 300 364.9 300 365.7 300 366.4 300 367.2 300 367.9 300 368.7 300 369.4 299.9 370.2 299.9 370.9 299.8 371.7 299.8 372.5 299.7 373.2 299.7 374 299.6 374.8 299.6 375.5 299.5 376.3 299.5 377.1 299.3 378 299.1 378.8 298.9 379.7 298.7 380.5 298.5 381.3 298.5 382.1 298.5 382.8 298.5 383.6 298.5 384.4 298.5 385.1 298.6 385.8 298.8 386.4 298.9 387.1 299.1 387.8 299.2 388.6 299.5 389.4 299.7 390.6 299.2 391.9 298.7 392.8 298.6 393.6 298.5 394.5 298.4 395.3 298.3 396.2 298.2 397 298.1 397.8 298.1 398.6 298 399.4 298 400.2 297.9 401 297.9 401.8 297.9 402.6 297.9 403.4 297.9 404.2 297.9 404.9 298 405.6 298 406.3 298.1 407.1 298.1 407.8 298.2 408.6 298.2 409.4 298.1 410.2 298.1 411 298.1 411.9 298 412.6 298.1 413.3 298.2 414 298.2 414.7 298.3 415.4 298.4 416 298.5 416.6 298.6 417.3 298.7 417.9 298.9 418.5 299 419 299.2 419.5 299.4 420 299.6 420.5 299.8 420.9 300 421.5 300.1 422 300.3 422.5 300.4 423 300.6 423.5 300.7 421.2 301.6 418.9 302.4 416.3 303.8 417 303.8 417.7 303.8 418.4 303.8 419.1 303.8 419.8 303.8 420.5 303.8 421.3 303.8 419.3 304.7 417.4 305.4 415.6 306.1 413.9 306.7 412.3 307.2 411 307.6 410.4 307.6 409.9 307.6 409.3 307.6 408.7 307.6 408.2 307.6 407.6 307.6 407.1 307.6 406.5 307.6 406 307.6 405.4 307.6 404.9 307.6 404.3 307.6 403.8 307.6 403.2 307.6 402.7 307.6 402.1 307.6 401.6 307.6 401 307.6 400.5 307.6 399.9 307.6 399.3 307.6 398.8 307.6 398.2 307.6 397.7 307.6 397.1 307.6 396.6 307.6 396 307.6 395.5 307.6 394.9 307.6 394.4 307.6 393.8 307.6 393.3 307.6 392.7 307.6 392.2 307.6 391.6 307.6 391.1 307.6 390.5 307.6 390 307.6 389.4 307.6 388.8 307.6 388.3 307.6 387.7 307.6 387.2 307.6 386.6 307.6 386.1 307.6 385.5 307.6 385 307.6 384.4 307.6 383.9 307.6 383.3 307.6 382.8 307.6 382.2 307.6 381.7 307.6 381.1 307.6 380.6 307.6 380 307.6 379.4 307.6 378.9 307.6 378.3 307.6 377.8 307.6 377.2 307.6 376.7 307.6 376.1 307.6 375.6 307.6 375 307.6 374.5 307.6 373.9 307.6 373.4 307.6 372.8 307.6 372.3 307.6 371.7 307.6 371.2 307.6 370.6 307.6 370 307.6 369.5 307.6 368.9 307.6 368.4 307.6 367.8 307.6 367.3 307.6 366.7 307.6 366.2 307.6 365.6 307.6 365.1 307.6 364.5 307.6 364 307.6 363.4 307.6 362.9 307.6 362.3 307.6 361.8 307.6 361.2 307.6 360.6 307.6 360.1 307.6 359.5 307.6 359 307.6 358.4 307.6 357.9 307.6 357.3 307.6 356.8 307.6 356.2 307.6 355.7 307.6 355.1 307.6 354.6 307.6 354 307.6 353.5 307.6 352.9 307.6 352.4 307.6 351.8 307.6 351.2 307.6 350.7 307.6 350.1 307.6 349.6 307.6 349 307.6 348.5 307.6 347.9 307.6 347.4 307.6 346.8 307.6 346.3 307.6 345.7 307.6 345.2 307.6 344.6 307.6 344.1 307.6 343.5 307.6 343 307.6 342.4 307.6 341.8 307.6 341.3 307.6 340.7 307.6 340.2 307.6 339.6 307.6 339.1 307.6 338.5 307.6 338 307.6 337.4 307.6 336.9 307.6 336.3 307.6 335.8 307.6 335.2 307.6 334.7 307.6 334.1 307.6 333.6 307.6 333 307.6 332.4 307.6 331.9 307.6 331.3 307.6 330.8 307.6 330.2 307.6 329.7 307.6 329.1 307.6 328.6 307.6 328 307.6 327.5 307.6 326.9 307.6 326.4 307.6 325.8 307.6 325.3 307.6 324.7 307.6 324.2 307.6 323.6 307.6 323.1 307.6 322.5 307.6 321.9 307.6 321.4 307.6 320.8 307.6 320.3 307.6 319.7 307.6 319.2 307.6 318.6 307.6 318.1 307.6 317.5 307.6 317 307.6 316.4 307.6 315.9 307.6 315.3 307.6 314.8 307.6 314.2 307.6 313.7 307.6 313.1 307.6 312.5 307.6 312 307.6 311.4 307.6 310.1 307.2 308.5 306.7 306.8 306.1 305 305.4 303.1 304.7Z" fill="#efefdb" stroke="#000" stroke-width="0.75" stroke-linejoin="round"/>
<path d="M327.1 220.9 327.9 221.1 328.7 221.4 329.7 220.2 328.6 220.1 327.6 220.1ZM323.8 218.8 324.9 218.8 325.2 218.3 324.4 218.3ZM326.1 215.3 326.9 215.6 327.7 214.9 326.7 214.9ZM319.5 214.9 320.2 215 320.9 215.1 322.2 214.4 321.3 214.4 320.5 214.4ZM330 213.8 330.6 213.8 331.2 213.9 331.8 213.9 332.4 214 332.9 212.8 332.1 212.9 331.3 213 330.5 213.1ZM327.5 215.7 328.4 215.7 328.7 215.2 328 215.2ZM375.7 213.3 376.4 213.3 377.1 213.3 377.8 213.3 378.4 213.3 379.1 213.3 379.8 213.2 380.5 213.2 380.9 212.9 380.2 212.9 379.6 212.9 378.9 212.8 378.2 212.8 377.6 212.8 376.9 212.8 376.3 213ZM344.6 291.3 345.5 291.4 345.6 291.8 344.9 291.7ZM303.8 228.6 304.3 229.8 304.9 229.9 304 228.9ZM288.6 226.7 289.8 226.3 290.9 226.1 289.5 226.7ZM365.1 234.3 365.8 234.3 365.9 235.5 365.3 235.5ZM365.3 233.1 365.7 233.1 365.7 234 365.4 234ZM367.2 236 368.7 235.9 368.5 236.9ZM372.7 237.7 374.1 237.8 373.9 237.9 372.8 237.9ZM377 237.9 378.1 237.5 377.9 238.1 377.2 238.1ZM337.2 219.6 336 220.8 334.9 221.9 334.1 221.9 333.3 221.8 332.5 221.8 331.8 221.5 331 221.2 330.3 220.9 331.6 220.1 333 219.3 332.4 218.9 331.9 218.4 331.3 218 330.6 217.9 329.8 217.8 329.1 217.6 328.4 217.5 329.6 216.9 330.8 216.3 331.6 216.4 332.3 216.5 333.1 216.5 333.8 216.6 334.3 217 334.7 217.4 335.2 217.8 335.9 218.5 336.5 219.1ZM317.6 217.3 317 218.5 317.8 218.5 318.6 218.6 319.4 218.6 320.3 218.6 321.1 218.6 322.2 218.4 323.3 218.3 324.5 216.8 323.7 216.5 323 216.3 322.3 216.3 321.6 216.3 320.8 216.3 320.1 216.3 318.9 216.8ZM330.4 214.9 331.1 214.9 331.7 214.9 332.4 215 333.1 215 333.7 215 334.7 214.7 335.7 214.4 336.6 214.1 337.6 213.8 338.5 213.5 339.3 213.3 340.2 213 341 212.8 341.8 212.6 341.2 212.5 340.6 212.4 340 212.4 339.4 212.3 338.8 212.3 338.2 212.2 337.5 212.3 336.7 212.3 336 212.4 335.3 212.4 334.6 212.5 333.8 212.5 333.1 212.6 331.8 212.9 330.5 213.3 330.9 213.6 331.3 213.8 331.7 214ZM315.4 217.3 316.2 217.4 316.9 217.5 319.1 216.3 318.5 216.1 318 216 317.5 215.8ZM328.4 215.8 329.2 215.8 330 215.8 330.7 215.8 331.5 215.8 332.3 215.8 333 215.8 333.2 214.9 332.4 214.9 331.7 214.9 330.9 214.9 330.2 214.9 329.4 214.9ZM320.2 215.3 320.9 215.4 321.6 215.4 322.4 215.5 323.1 215.5 323.8 215.5 324.5 215.6 325.7 214.9 325.1 214.8 324.5 214.7 323.9 214.6 323.3 214.6 322.7 214.5 322.2 214.4ZM324.4 217 325.1 217.1 325.8 217.1 327.1 216 326.4 216 325.7 216ZM327 217 328.2 217 328.9 216 327.9 216ZM351.8 220.3 352.6 219.9 353.4 219.8 354.2 219.8 355 219.8 355.9 220.6 354.9 221 354 221.4 353.1 221.3 352.2 221.2ZM334 230.4 335.3 229.2 336.5 228.1 336.8 229.2 337.1 230.4 335.9 230.8 335 230.6ZM318 245.9 319.9 245 321 245.4 322.1 245.7 323.4 246.8 321.6 247.1 320.6 246.4 319.5 245.7ZM323.1 247.9 324.3 247.5 325.5 247.1 326.3 247.8 324.6 248.3ZM293.2 218.5 293.6 218.9 294 219.3 294.5 219.6 295 220 293 220.9 292.3 220.8 291.6 220.7 290.9 220.7 290.2 220.6 291.7 219.5ZM356.7 228.1 357.6 227.9 358.5 227.7 358.6 226.4 358 226 356.8 226.6ZM402.6 253.1 403.7 254.5 403.3 255.3 402.7 255.4ZM386.6 266.2 387.2 268.3 386.6 269.8 386.1 271.2 385.6 272.6 385.1 274.1 383.5 273.8 383.6 272.4 383.6 271.1 384.4 269.8 385.1 268.5ZM425.6 238.5 426.6 238.7 427.7 238.8 428.7 238.4 429.8 237.9 429.2 235.8 428.5 234.1 427.9 234.4 428.6 236.1 427.5 236.5 426.2 237.6 425.5 238.2ZM427.7 234 426.9 231.7 428.3 232.3 429.6 232.9 429.2 233.7ZM425.1 238.8 426.1 238.8 426.3 240.3 425.8 240.1ZM422.1 245.1 422.3 243.8 422.8 244.1 422.6 245.7ZM416.7 247.4 417.6 246.9 417.9 247.1 417.2 248ZM426.9 231.3 427.4 231 425.9 229.3 424.7 227.9 423.5 226.5 424.3 227.8 425.2 229 426.1 230.2ZM422.6 247.9 423.8 247.9 423.8 249.1 424.5 250.3 425.2 251.5 423.5 250.6 422.8 249.4ZM424.4 254.8 426.1 253.1 426.7 254.5 426.3 255.4 425.5 255.3ZM424.2 252.1 425.2 252.1 426.1 252.7 424.8 253.3ZM410.6 255.6 411.8 255.9 413.4 257.8 414.4 258.7 415.5 259.6 416.2 260.8 416.2 262.5 415.4 262.5 413.6 260.5 413 259.3 412.4 258.1 411.5 256.9ZM415.7 263.1 416.2 262.6 417.3 262.9 418.5 263.2 419.5 263.4 420.5 263.6 420.5 264.2 419.3 264.1 418.2 263.9 416.4 263.5ZM417.8 258.1 418.1 259.7 418.4 260.8 419.5 261.1 420.6 261.5 421.7 260.9 422.2 258.7 422.6 257.3 422.9 256 421.8 254.8 421.1 256 419.9 257.1 418.8 257.9ZM423.2 262.3 423 260.8 423.3 259.6 423.5 258.4 424.8 258.2 426 258.1 424 258.7 425.2 259.5 424.3 260.1 424.9 261.7 424 261.1ZM425.3 265.2 427.1 264.1 425.9 264.4 425 265.1ZM420.7 263.9 421.8 264 422.8 264 424.4 264 422.8 264.4 421 264.3ZM429.2 259.8 430.3 260.4 431.3 261 432.3 260.9 433.4 260.7 434.4 260.6 435.5 261.2 436.6 261.9 437.7 262.6 438.3 264 439 265.3 437.2 265 435.5 264.4 434.2 264.5 432.7 263.9 432.5 262 431.2 261.7 430 261.4ZM430.2 283.5 431.8 283.7 430.7 285 429.7 285.2ZM446 279.7 446.6 281 447.6 281.7 446.2 282.7 444.3 284 444.9 282.8 445.5 281.3ZM443.7 283.4 443.9 284.1 442.2 285.4 441 285.8 438.9 287 438.4 286.5 440.1 285.5 441.7 284.6ZM364.8 214 365.4 213.7 366 213.3 366.7 213.3 367.3 213.3 368 213.3 368.6 213.3 369.3 213.3 369.9 213.3 369.3 214.6 368.6 214.7 367.8 214.8 367 214.9 366.3 214.6 365.5 214.3ZM380.3 217.3 381.3 217.5 382.3 217.8 381.8 216 382.3 215.8 382.8 215.5 383.3 215.2 383.8 214.9 384.3 214.6 383.6 214.7 383 214.8 382.4 214.9 381.9 215.2 381.5 215.6 381 215.9 380.5 216.3ZM392.4 213.8 393.1 213.8 393.9 213.8 394.6 213.8 395.3 213.8 394.1 213.3 392.9 212.9 392.7 213.3ZM409.1 215.6 409.8 215.5 410.5 215.5 411.2 215.5 411.9 215.4 412.6 215.4 413.3 215.3 412.5 215.3 411.7 215.2 410.9 215.2 410.1 215.1 409.6 215.3Z" fill="#efefdb" stroke="#000" stroke-width="1.0" stroke-linejoin="round"/>
<path d="M383.1 232.2 384.2 230.9 385.6 230.9 386.2 232.2 385.4 233.1 386.4 234.3 387.4 236.5 386 236.9 384.8 235.8 384.8 234.6 383.6 233.4ZM374.5 234.2 374.5 232.8 375.2 231.5 376.9 232.3 378.4 231.7 379.7 232.5 380.9 234 379.6 234 378.3 234 376.8 233.7 375.2 234.2Z" fill="#fce2d2" stroke="#000" stroke-width="0.6"/>
<path d="M286.5 294.7 290.7 294.7 294.8 294.7 299 294.7 303.1 294.7 307.3 294.7 311.4 294.7 315.6 294.7 319.7 294.7 323.9 294.7 328 294.7 332.2 294.7 336.3 294.7 340.5 294.7 344.6 294.7 348.8 294.7 352.9 294.7 357.1 294.7 361.2 294.7 365.3 294.7 369.5 294.7 373.6 294.7 377.8 294.7 381.9 294.7 386.1 294.7 390.2 294.7 394.4 294.7 398.5 294.7 402.7 294.7 406.8 294.7 411 294.7 415.1 294.7 419.3 294.7 423.4 294.7 427.6 294.7 431.7 294.7 435.9 294.7M271.4 277.1 276.4 277.1 281.4 277.1 286.4 277.1 291.4 277.1 296.4 277.1 301.4 277.1 306.3 277.1 311.3 277.1 316.3 277.1 321.3 277.1 326.3 277.1 331.3 277.1 336.3 277.1 341.3 277.1 346.2 277.1 351.2 277.1 356.2 277.1 361.2 277.1 366.2 277.1 371.2 277.1 376.2 277.1 381.1 277.1 386.1 277.1 391.1 277.1 396.1 277.1 401.1 277.1 406.1 277.1 411.1 277.1 416.1 277.1 421 277.1 426 277.1 431 277.1 436 277.1 441 277.1 446 277.1 451 277.1M267.7 259 272.9 259 278.1 259 283.3 259 288.5 259 293.7 259 298.9 259 304.1 259 309.3 259 314.4 259 319.6 259 324.8 259 330 259 335.2 259 340.4 259 345.6 259 350.8 259 356 259 361.2 259 366.4 259 371.6 259 376.8 259 382 259 387.2 259 392.4 259 397.6 259 402.8 259 407.9 259 413.1 259 418.3 259 423.5 259 428.7 259 433.9 259 439.1 259 444.3 259 449.5 259 454.7 259M271.4 240.9 276.4 240.9 281.4 240.9 286.4 240.9 291.4 240.9 296.4 240.9 301.4 240.9 306.3 240.9 311.3 240.9 316.3 240.9 321.3 240.9 326.3 240.9 331.3 240.9 336.3 240.9 341.3 240.9 346.2 240.9 351.2 240.9 356.2 240.9 361.2 240.9 366.2 240.9 371.2 240.9 376.2 240.9 381.1 240.9 386.1 240.9 391.1 240.9 396.1 240.9 401.1 240.9 406.1 240.9 411.1 240.9 416.1 240.9 421 240.9 426 240.9 431 240.9 436 240.9 441 240.9 446 240.9 451 240.9M286.5 223.3 290.7 223.3 294.8 223.3 299 223.3 303.1 223.3 307.3 223.3 311.4 223.3 315.6 223.3 319.7 223.3 323.9 223.3 328 223.3 332.2 223.3 336.3 223.3 340.5 223.3 344.6 223.3 348.8 223.3 352.9 223.3 357.1 223.3 361.2 223.3 365.3 223.3 369.5 223.3 373.6 223.3 377.8 223.3 381.9 223.3 386.1 223.3 390.2 223.3 394.4 223.3 398.5 223.3 402.7 223.3 406.8 223.3 411 223.3 415.1 223.3 419.3 223.3 423.4 223.3 427.6 223.3 431.7 223.3 435.9 223.3M328 307.6 325.5 306.4 322.5 304.7 319.2 302.4 316.4 300 313.8 297.4 311.4 294.7 309.2 291.9 307.1 289 305.3 286.1 303.8 283.1 302.4 280.1 301.4 277.1 300.5 274.1 300 271.1 299.5 268 299.2 265 299 262 298.9 259 299 256 299.2 253 299.5 250 300 246.9 300.5 243.9 301.4 240.9 302.4 237.9 303.8 234.9 305.3 231.9 307.1 229 309.2 226.1 311.4 223.3 313.8 220.6 316.4 218 319.2 215.6 322.5 213.3 325.5 211.6 328 210.4M344.6 307.6 343.4 306.4 341.8 304.7 340.2 302.4 338.8 300 337.5 297.4 336.3 294.7 335.2 291.9 334.2 289 333.3 286.1 332.5 283.1 331.8 280.1 331.3 277.1 330.9 274.1 330.6 271.1 330.3 268 330.2 265 330.1 262 330 259 330.1 256 330.2 253 330.3 250 330.6 246.9 330.9 243.9 331.3 240.9 331.8 237.9 332.5 234.9 333.3 231.9 334.2 229 335.2 226.1 336.3 223.3 337.5 220.6 338.8 218 340.2 215.6 341.8 213.3 343.4 211.6 344.6 210.4M361.2 307.6 361.2 306.4 361.2 304.7 361.2 302.4 361.2 300 361.2 297.4 361.2 294.7 361.2 291.9 361.2 289 361.2 286.1 361.2 283.1 361.2 280.1 361.2 277.1 361.2 274.1 361.2 271.1 361.2 268 361.2 265 361.2 262 361.2 259 361.2 256 361.2 253 361.2 250 361.2 246.9 361.2 243.9 361.2 240.9 361.2 237.9 361.2 234.9 361.2 231.9 361.2 229 361.2 226.1 361.2 223.3 361.2 220.6 361.2 218 361.2 215.6 361.2 213.3 361.2 211.6 361.2 210.4M377.8 307.6 379 306.4 380.6 304.7 382.2 302.4 383.6 300 384.9 297.4 386.1 294.7 387.2 291.9 388.2 289 389.1 286.1 389.9 283.1 390.6 280.1 391.1 277.1 391.5 274.1 391.8 271.1 392.1 268 392.2 265 392.3 262 392.4 259 392.3 256 392.2 253 392.1 250 391.8 246.9 391.5 243.9 391.1 240.9 390.6 237.9 389.9 234.9 389.1 231.9 388.2 229 387.2 226.1 386.1 223.3 384.9 220.6 383.6 218 382.2 215.6 380.6 213.3 379 211.6 377.8 210.4M394.4 307.6 396.9 306.4 399.9 304.7 403.2 302.4 406 300 408.6 297.4 411 294.7 413.2 291.9 415.3 289 417.1 286.1 418.6 283.1 420 280.1 421 277.1 421.9 274.1 422.4 271.1 422.9 268 423.2 265 423.4 262 423.5 259 423.4 256 423.2 253 422.9 250 422.4 246.9 421.9 243.9 421 240.9 420 237.9 418.6 234.9 417.1 231.9 415.3 229 413.2 226.1 411 223.3 408.6 220.6 406 218 403.2 215.6 399.9 213.3 396.9 211.6 394.4 210.4" fill="none" stroke="#9a9a9a" stroke-opacity="0.55" stroke-width="0.5"/>
</g>
<path d="M311.4 307.6 307.7 306.4 303.1 304.7 298.3 302.4 294 300 290.2 297.4 286.5 294.7 283.1 291.9 280.1 289 277.4 286.1 275 283.1 273.1 280.1 271.4 277.1 270.2 274.1 269.4 271.1 268.6 268 268.1 265 267.8 262 267.7 259 267.8 256 268.1 253 268.6 250 269.4 246.9 270.2 243.9 271.4 240.9 273.1 237.9 275 234.9 277.4 231.9 280.1 229 283.1 226.1 286.5 223.3 290.2 220.6 294 218 298.3 215.6 303.1 213.3 307.7 211.6 311.4 210.4 312.8 210.4 314.2 210.4 315.6 210.4 317 210.4 318.4 210.4 319.7 210.4 321.1 210.4 322.5 210.4 323.9 210.4 325.3 210.4 326.6 210.4 328 210.4 329.4 210.4 330.8 210.4 332.2 210.4 333.6 210.4 334.9 210.4 336.3 210.4 337.7 210.4 339.1 210.4 340.5 210.4 341.8 210.4 343.2 210.4 344.6 210.4 346 210.4 347.4 210.4 348.8 210.4 350.1 210.4 351.5 210.4 352.9 210.4 354.3 210.4 355.7 210.4 357.1 210.4 358.4 210.4 359.8 210.4 361.2 210.4 362.6 210.4 364 210.4 365.3 210.4 366.7 210.4 368.1 210.4 369.5 210.4 370.9 210.4 372.3 210.4 373.6 210.4 375 210.4 376.4 210.4 377.8 210.4 379.2 210.4 380.6 210.4 381.9 210.4 383.3 210.4 384.7 210.4 386.1 210.4 387.5 210.4 388.8 210.4 390.2 210.4 391.6 210.4 393 210.4 394.4 210.4 395.8 210.4 397.1 210.4 398.5 210.4 399.9 210.4 401.3 210.4 402.7 210.4 404 210.4 405.4 210.4 406.8 210.4 408.2 210.4 409.6 210.4 411 210.4 414.7 211.6 419.3 213.3 424.1 215.6 428.4 218 432.2 220.6 435.9 223.3 439.3 226.1 442.3 229 445 231.9 447.4 234.9 449.3 237.9 451 240.9 452.2 243.9 453 246.9 453.8 250 454.3 253 454.6 256 454.7 259 454.6 262 454.3 265 453.8 268 453 271.1 452.2 274.1 451 277.1 449.3 280.1 447.4 283.1 445 286.1 442.3 289 439.3 291.9 435.9 294.7 432.2 297.4 428.4 300 424.1 302.4 419.3 304.7 414.7 306.4 411 307.6 409.6 307.6 408.2 307.6 406.8 307.6 405.4 307.6 404 307.6 402.7 307.6 401.3 307.6 399.9 307.6 398.5 307.6 397.1 307.6 395.8 307.6 394.4 307.6 393 307.6 391.6 307.6 390.2 307.6 388.8 307.6 387.5 307.6 386.1 307.6 384.7 307.6 383.3 307.6 381.9 307.6 380.6 307.6 379.2 307.6 377.8 307.6 376.4 307.6 375 307.6 373.6 307.6 372.3 307.6 370.9 307.6 369.5 307.6 368.1 307.6 366.7 307.6 365.3 307.6 364 307.6 362.6 307.6 361.2 307.6 359.8 307.6 358.4 307.6 357.1 307.6 355.7 307.6 354.3 307.6 352.9 307.6 351.5 307.6 350.1 307.6 348.8 307.6 347.4 307.6 346 307.6 344.6 307.6 343.2 307.6 341.8 307.6 340.5 307.6 339.1 307.6 337.7 307.6 336.3 307.6 334.9 307.6 333.6 307.6 332.2 307.6 330.8 307.6 329.4 307.6 328 307.6 326.6 307.6 325.3 307.6 323.9 307.6 322.5 307.6 321.1 307.6 319.7 307.6 318.4 307.6 317 307.6 315.6 307.6 314.2 307.6 312.8 307.6Z" fill="none" stroke="#555" stroke-width="0.6"/>
<rect x="270.3" y="249.6" width="1.4" height="2.8" rx="0.4" fill="#222"/>
<rect x="276.6" y="249.6" width="1.4" height="2.8" rx="0.4" fill="#222"/>
<rect x="282.4" y="249.6" width="1.4" height="2.8" rx="0.4" fill="#222"/>
<rect x="426.85" y="249.5" width="1.3" height="3" rx="0.4" fill="#222"/>
<rect x="432.55" y="249.5" width="1.3" height="3" rx="0.4" fill="#222"/>
<rect x="438.35" y="249.5" width="1.3" height="3" rx="0.4" fill="#222"/>
<rect x="444.15" y="249.5" width="1.3" height="3" rx="0.4" fill="#222"/>
<rect x="449.45" y="249.5" width="1.3" height="3" rx="0.4" fill="#222"/>
<line x1="280.4" y1="246.2" x2="282.4" y2="248.2" stroke="#222" stroke-width="0.7" />
<text x="361.2" y="207.7" font-size="7.6" text-anchor="middle" fill="#000" stroke="#000" stroke-width="0.1">d) DSL difference, <tspan font-style="italic" text-decoration="overline">F</tspan><tspan font-size="4.6" font-style="italic" dy="1.2">H</tspan><tspan dy="-1.2"> = 0.45 Sv</tspan></text>
<rect x="458.6" y="298.82" width="9.6" height="4.68" fill="#0c3d73"/>
<rect x="458.6" y="294.44" width="9.6" height="4.68" fill="#1a5899"/>
<rect x="458.6" y="290.06" width="9.6" height="4.68" fill="#2a71b2"/>
<rect x="458.6" y="285.68" width="9.6" height="4.68" fill="#3a87bd"/>
<rect x="458.6" y="281.3" width="9.6" height="4.68" fill="#569fc9"/>
<rect x="458.6" y="276.92" width="9.6" height="4.68" fill="#7eb8d7"/>
<rect x="458.6" y="272.54" width="9.6" height="4.68" fill="#a2cde3"/>
<rect x="458.6" y="268.16" width="9.6" height="4.68" fill="#c2ddec"/>
<rect x="458.6" y="263.78" width="9.6" height="4.68" fill="#dae9f2"/>
<rect x="458.6" y="259.4" width="9.6" height="4.68" fill="#edf2f5"/>
<rect x="458.6" y="255.02" width="9.6" height="4.68" fill="#f9f0eb"/>
<rect x="458.6" y="250.64" width="9.6" height="4.68" fill="#fce2d2"/>
<rect x="458.6" y="246.26" width="9.6" height="4.68" fill="#fbccb4"/>
<rect x="458.6" y="241.88" width="9.6" height="4.68" fill="#f6b394"/>
<rect x="458.6" y="237.5" width="9.6" height="4.68" fill="#ec9374"/>
<rect x="458.6" y="233.12" width="9.6" height="4.68" fill="#dd7059"/>
<rect x="458.6" y="228.74" width="9.6" height="4.68" fill="#cc4c44"/>
<rect x="458.6" y="224.36" width="9.6" height="4.68" fill="#ba2832"/>
<rect x="458.6" y="219.98" width="9.6" height="4.68" fill="#9f1228"/>
<rect x="458.6" y="215.6" width="9.6" height="4.68" fill="#790622"/>
<path d="M458.6 215.8 L463.4 210.8 L468.2 215.8 Z" fill="#67001f"/>
<path d="M458.6 303 L463.4 307.8 L468.2 303 Z" fill="#053061"/>
<path d="M458.6 215.6 L463.4 210.8 L468.2 215.6 L468.2 303.2 L463.4 307.8 L458.6 303.2 Z" fill="none" stroke="#444" stroke-width="0.5"/>
<line x1="468.2" y1="215.6" x2="470.2" y2="215.6" stroke="#3a3a3a" stroke-width="0.6" />
<text x="471.5" y="217.9" font-size="7" text-anchor="start" fill="#222" stroke="#222" stroke-width="0.15" textLength="11.01" lengthAdjust="spacingAndGlyphs" >100</text>
<line x1="468.2" y1="224.36" x2="470.2" y2="224.36" stroke="#3a3a3a" stroke-width="0.6" />
<text x="471.5" y="226.66" font-size="7" text-anchor="start" fill="#222" stroke="#222" stroke-width="0.15" textLength="7.34" lengthAdjust="spacingAndGlyphs" >80</text>
<line x1="468.2" y1="233.12" x2="470.2" y2="233.12" stroke="#3a3a3a" stroke-width="0.6" />
<text x="471.5" y="235.42" font-size="7" text-anchor="start" fill="#222" stroke="#222" stroke-width="0.15" textLength="7.34" lengthAdjust="spacingAndGlyphs" >60</text>
<line x1="468.2" y1="241.88" x2="470.2" y2="241.88" stroke="#3a3a3a" stroke-width="0.6" />
<text x="471.5" y="244.18" font-size="7" text-anchor="start" fill="#222" stroke="#222" stroke-width="0.15" textLength="7.34" lengthAdjust="spacingAndGlyphs" >40</text>
<line x1="468.2" y1="250.64" x2="470.2" y2="250.64" stroke="#3a3a3a" stroke-width="0.6" />
<text x="471.5" y="252.94" font-size="7" text-anchor="start" fill="#222" stroke="#222" stroke-width="0.15" textLength="7.34" lengthAdjust="spacingAndGlyphs" >20</text>
<line x1="468.2" y1="259.4" x2="470.2" y2="259.4" stroke="#3a3a3a" stroke-width="0.6" />
<text x="471.5" y="261.7" font-size="7" text-anchor="start" fill="#222" stroke="#222" stroke-width="0.15" textLength="3.67" lengthAdjust="spacingAndGlyphs" >0</text>
<line x1="468.2" y1="268.16" x2="470.2" y2="268.16" stroke="#3a3a3a" stroke-width="0.6" />
<text x="471.5" y="270.46" font-size="7" text-anchor="start" fill="#222" stroke="#222" stroke-width="0.15" textLength="11.2" lengthAdjust="spacingAndGlyphs" >&#8722;20</text>
<line x1="468.2" y1="276.92" x2="470.2" y2="276.92" stroke="#3a3a3a" stroke-width="0.6" />
<text x="471.5" y="279.22" font-size="7" text-anchor="start" fill="#222" stroke="#222" stroke-width="0.15" textLength="11.2" lengthAdjust="spacingAndGlyphs" >&#8722;40</text>
<line x1="468.2" y1="285.68" x2="470.2" y2="285.68" stroke="#3a3a3a" stroke-width="0.6" />
<text x="471.5" y="287.98" font-size="7" text-anchor="start" fill="#222" stroke="#222" stroke-width="0.15" textLength="11.2" lengthAdjust="spacingAndGlyphs" >&#8722;60</text>
<line x1="468.2" y1="294.44" x2="470.2" y2="294.44" stroke="#3a3a3a" stroke-width="0.6" />
<text x="471.5" y="296.74" font-size="7" text-anchor="start" fill="#222" stroke="#222" stroke-width="0.15" textLength="11.2" lengthAdjust="spacingAndGlyphs" >&#8722;80</text>
<line x1="468.2" y1="303.2" x2="470.2" y2="303.2" stroke="#3a3a3a" stroke-width="0.6" />
<text x="471.5" y="305.5" font-size="7" text-anchor="start" fill="#222" stroke="#222" stroke-width="0.15" textLength="14.87" lengthAdjust="spacingAndGlyphs" >&#8722;100</text>
<text x="494.9" y="259.4" font-size="6.78" text-anchor="middle" fill="#222" stroke="#222" stroke-width="0.15" textLength="57" lengthAdjust="spacingAndGlyphs" transform="rotate(-90 494.9 259.4)" >DSL difference (cm)</text>
</svg></body></html>
